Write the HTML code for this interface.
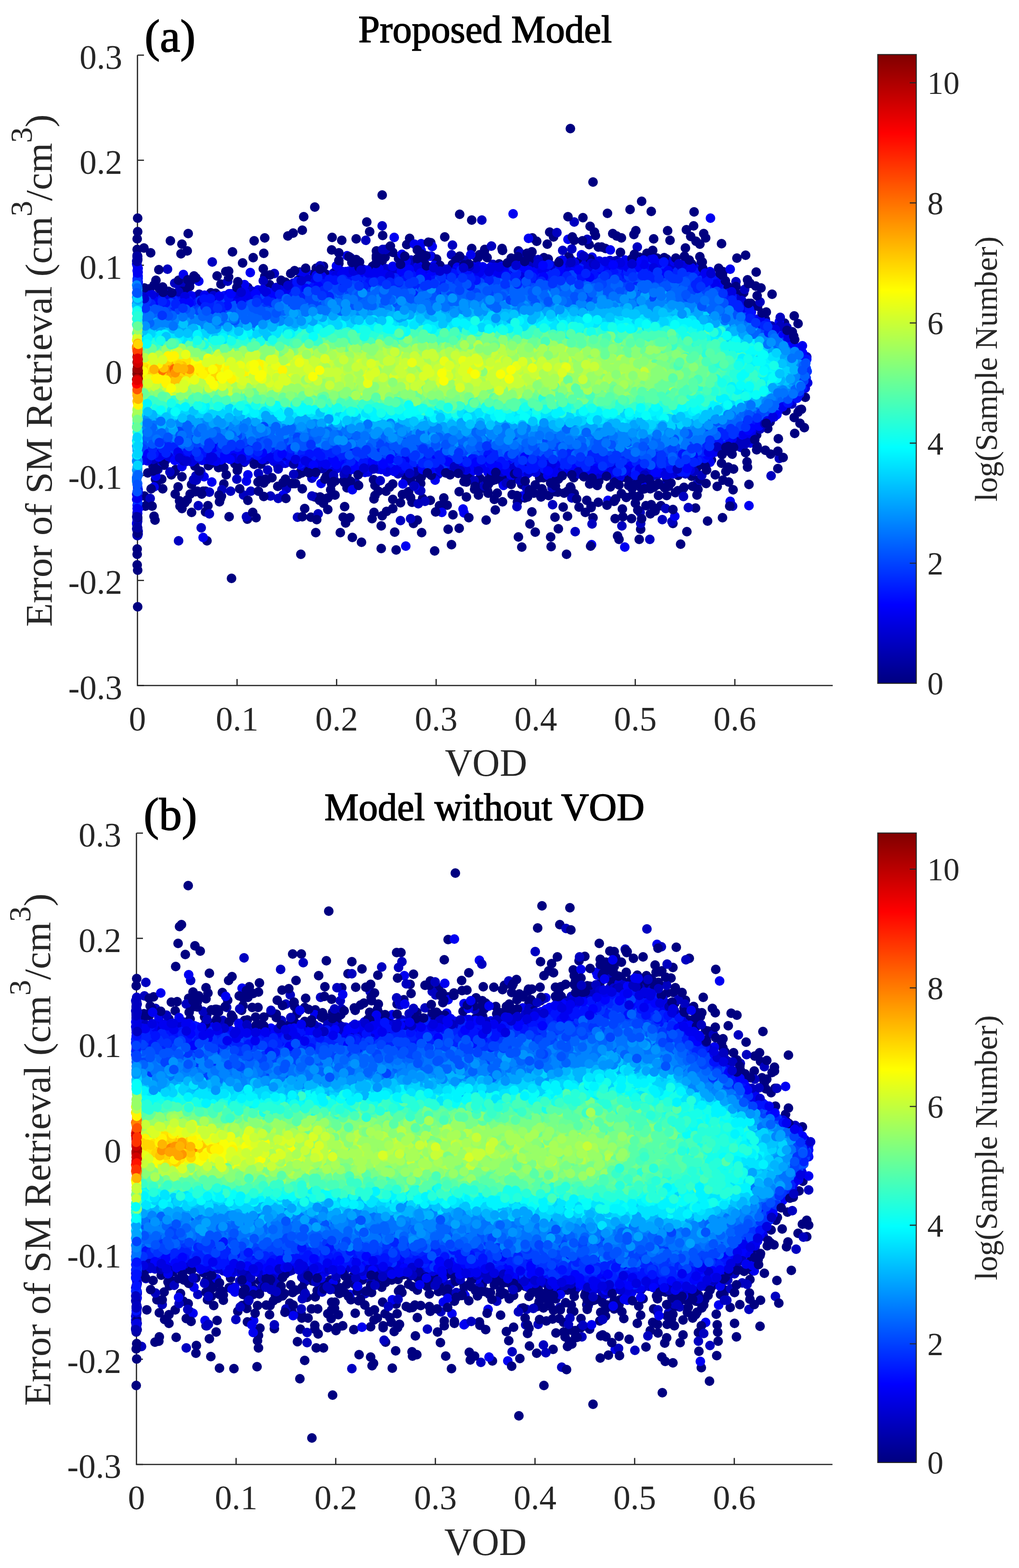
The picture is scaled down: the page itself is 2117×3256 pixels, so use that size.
<!DOCTYPE html>
<html><head><meta charset="utf-8"><style>html,body{margin:0;padding:0;background:#fff;}svg{display:block}</style></head>
<body><svg width="2117" height="3256" viewBox="0 0 2117 3256" font-family="Liberation Serif, Times New Roman, serif">
<defs><linearGradient id="jet" x1="0" y1="1" x2="0" y2="0"><stop offset="0" stop-color="#000080"/><stop offset="0.125" stop-color="#0000ff"/><stop offset="0.375" stop-color="#00ffff"/><stop offset="0.625" stop-color="#ffff00"/><stop offset="0.875" stop-color="#ff0000"/><stop offset="1" stop-color="#800000"/></linearGradient></defs>
<rect width="2117" height="3256" fill="#fff"/>

<path d="M285.6 114.5V1423.5H1730" fill="none" stroke="#262626" stroke-width="2.6"/>
<path d="M285.6 114.5h13.5M285.6 332.7h13.5M285.6 550.8h13.5M285.6 769.0h13.5M285.6 987.2h13.5M285.6 1205.3h13.5M285.6 1423.5h13.5M492.5 1423.5v-13.5M699.3 1423.5v-13.5M906.1 1423.5v-13.5M1113.0 1423.5v-13.5M1319.8 1423.5v-13.5M1526.7 1423.5v-13.5" stroke="#262626" stroke-width="2.6"/>
<g fill="none" stroke-width="20" stroke-linecap="round"><path stroke="#0000d0" d="M609 588h0M1443 969h0M1040 560h0M857 556h0M593 962h0M1165 984h0M1365 987h0M1122 550h0M636 582h0M616 957h0M1456 565h0M1411 554h0M438 613h0M602 592h0M1107 551h0M1387 541h0M1081 980h0M1356 988h0M1249 986h0M1282 541h0M393 946h0M1057 552h0M1616 685h0M954 557h0M676 575h0"/><path stroke="#ff7300" d="M379 774h0M363 784h0"/><path stroke="#77ff88" d="M650 715h0M755 831h0M1115 710h0M610 721h0M690 817h0M1314 829h0M960 708h0M1052 714h0M1370 738h0M1374 753h0M730 826h0M1259 816h0M612 829h0M1019 830h0M806 722h0M779 725h0M1393 742h0M1226 810h0M1149 712h0M819 821h0M1359 818h0M1353 742h0M1206 825h0M690 831h0M1384 800h0M851 711h0M774 826h0M1288 826h0M800 705h0M993 706h0M856 704h0M786 722h0M1390 751h0M299 727h0M1387 817h0M1155 710h0M444 731h0M696 723h0M1288 721h0M312 818h0M521 728h0M628 819h0M1412 781h0M702 828h0M1374 742h0M547 821h0M483 725h0M1393 771h0M1260 808h0M1012 828h0M1312 801h0M984 828h0M512 725h0M1392 736h0M1331 719h0M388 832h0M1372 728h0M1459 720h0M1131 714h0M648 816h0M632 807h0M441 722h0M1435 756h0M627 714h0M675 714h0M1118 830h0M1049 832h0M970 713h0M642 819h0M838 715h0M506 720h0M1295 705h0M1148 812h0M598 822h0M1180 712h0M1417 750h0M1238 802h0M1425 746h0M877 709h0M1021 821h0M654 720h0"/><path stroke="#67ff98" d="M945 710h0M1214 721h0M1317 820h0M909 827h0M1381 815h0M754 706h0M1296 817h0M1027 699h0M1208 731h0M931 707h0M1244 815h0M921 834h0M795 714h0M1222 829h0M1436 772h0M1389 734h0M1410 799h0M323 829h0M376 718h0M1243 723h0M767 830h0M331 722h0M1315 725h0M745 714h0M1157 718h0M555 718h0M1385 811h0M376 819h0M1336 725h0M729 714h0M717 708h0M1488 794h0M826 708h0M1334 820h0M1218 705h0M1162 719h0M486 812h0M1301 718h0M1077 718h0M1234 697h0M1454 760h0M516 829h0M969 822h0M1013 707h0M1360 806h0M1075 712h0M1220 832h0M1460 759h0M1398 816h0M1466 760h0M1097 840h0M974 705h0M1175 825h0M1215 699h0M1044 834h0M1497 735h0M891 832h0M891 823h0M1284 832h0M402 725h0M1310 814h0M1245 827h0M1084 705h0M602 718h0M558 723h0M798 717h0M381 826h0M566 822h0M1469 781h0M558 825h0M563 721h0M692 717h0M810 838h0M659 823h0M1344 816h0M1384 743h0M492 720h0M658 708h0M1249 805h0M1385 731h0M368 826h0M884 828h0M784 706h0M427 730h0M1426 802h0M982 820h0M1492 805h0M1226 833h0M1427 778h0M1154 830h0"/><path stroke="#0002ff" d="M1448 569h0M1444 590h0M1325 559h0M540 949h0M829 576h0M1174 977h0M1402 562h0M806 962h0M730 582h0M737 953h0M489 615h0M1278 983h0M1181 558h0M1529 626h0M949 965h0M1515 604h0M1104 556h0M825 565h0M1377 554h0M453 621h0M749 586h0M1476 592h0M467 952h0M379 615h0M1038 589h0M491 939h0M1460 572h0M989 973h0M1387 977h0M517 952h0M1509 923h0M582 605h0M524 947h0M521 943h0M1348 976h0M462 619h0M1002 571h0M1311 985h0M730 590h0M1080 966h0M572 942h0M1154 560h0M1404 565h0M1368 972h0M1533 903h0M1357 977h0M297 941h0M987 561h0M364 938h0M728 565h0M822 970h0M820 566h0M617 599h0M627 606h0M480 936h0M1065 568h0M322 948h0M884 962h0M809 977h0M1230 969h0M1561 648h0M897 964h0"/><path stroke="#00b4ff" d="M1129 653h0M1421 874h0M429 872h0M409 867h0M939 875h0M1621 736h0M622 863h0M901 649h0M335 869h0M1613 806h0M677 882h0M1075 888h0M1321 889h0M1353 877h0M618 883h0M419 683h0M1092 881h0M954 882h0M1269 871h0M688 874h0M1219 881h0M630 863h0M1377 655h0M1400 646h0M699 652h0M1373 873h0M385 679h0M1345 880h0M1175 643h0M1444 885h0M1502 862h0M920 652h0M594 856h0M1641 751h0M969 880h0M1474 663h0M868 664h0M619 675h0M1064 878h0M898 886h0M608 860h0M1467 644h0M952 649h0M1562 704h0M330 678h0M1211 658h0M553 862h0M307 683h0M365 870h0M565 902h0M1185 652h0M1200 882h0M865 647h0M730 883h0M1128 662h0M874 672h0M958 660h0M1509 674h0M1632 740h0M1049 873h0M845 886h0M1394 641h0M977 659h0M792 669h0M297 864h0M371 867h0M709 651h0M1596 723h0M1392 646h0M964 868h0M782 657h0"/><path stroke="#e9ff16" d="M1004 739h0M421 788h0M972 753h0M499 750h0M1027 748h0M586 753h0M822 774h0M377 739h0M591 762h0M958 769h0M458 776h0M922 757h0M578 779h0M441 755h0M645 782h0M1048 776h0M398 788h0M338 740h0M686 753h0M448 788h0M412 788h0M636 784h0M915 782h0M1084 775h0M548 765h0M885 758h0M297 792h0"/><path stroke="#a8ff57" d="M1010 756h0M1121 735h0M1013 713h0M1250 763h0M957 732h0M1185 772h0M776 752h0M888 758h0M609 732h0M1173 782h0M1286 790h0M989 718h0M1185 795h0M1053 784h0M428 739h0M669 716h0M642 799h0M858 775h0M1165 772h0M866 803h0M1349 802h0M1060 738h0M826 748h0M1266 733h0M873 811h0M688 746h0M1254 765h0M845 735h0M691 791h0M878 725h0M824 726h0M506 744h0M1349 740h0M1248 755h0M1130 748h0M682 816h0M812 776h0M585 808h0M965 811h0M675 742h0M644 738h0M1048 799h0M739 781h0M1140 805h0M626 781h0M517 785h0M1254 777h0M557 809h0M886 790h0M909 803h0M727 747h0M752 801h0M459 734h0M1258 787h0M835 796h0M426 746h0M826 779h0M1022 744h0M1116 725h0M1161 804h0M365 818h0M917 738h0M818 761h0M853 800h0M1208 740h0M1145 752h0M1162 732h0M416 734h0M872 745h0M1161 796h0M1090 746h0M755 738h0M993 782h0M1002 717h0M633 742h0M1136 813h0M982 813h0M350 731h0M339 809h0M438 735h0M1172 787h0M771 746h0M1094 792h0M953 786h0M849 769h0M320 744h0M1350 771h0M1300 744h0M1216 762h0M1096 782h0M1254 798h0M938 767h0M797 730h0M907 794h0M578 741h0M809 790h0M1152 736h0M1113 790h0M1052 740h0M501 809h0M1337 808h0M986 822h0"/><path stroke="#0084ff" d="M776 887h0M935 617h0M558 880h0M1644 799h0M1387 887h0M566 887h0M585 659h0M1361 895h0M1539 665h0M1451 889h0M642 652h0M1382 602h0M1027 884h0M956 905h0M940 636h0M461 871h0M738 645h0M1389 610h0M987 620h0M1515 672h0M682 643h0M624 659h0M804 644h0M1115 617h0M1261 611h0M473 652h0M725 903h0M316 663h0M961 897h0M995 600h0M1158 616h0M918 634h0M1126 606h0M338 676h0M958 639h0M674 659h0M1273 605h0M1058 631h0M579 648h0M1145 624h0M677 907h0M1441 903h0M1388 625h0M924 628h0M712 897h0M1166 914h0M1236 924h0M844 630h0M1613 711h0M1121 928h0M530 663h0M1342 619h0M1249 611h0M1633 800h0M1020 612h0M389 654h0M1232 908h0M1245 929h0M808 640h0M858 899h0M1046 886h0M1170 908h0M1606 705h0M401 652h0M517 900h0M965 619h0M445 893h0M944 899h0M1368 624h0M1181 639h0M481 887h0M512 890h0M401 677h0M1113 903h0M1065 894h0M1348 631h0M1416 612h0M664 655h0M1153 922h0M781 920h0M1226 903h0M1667 778h0M553 634h0M453 651h0M1348 612h0M1503 644h0M829 640h0M734 617h0M835 628h0M704 921h0M773 877h0M1270 914h0M499 665h0M1333 906h0M1084 645h0M1118 897h0M1414 891h0M536 885h0M1608 837h0M1508 861h0M1215 646h0M473 670h0M909 887h0M397 904h0M597 883h0M358 674h0M830 892h0M878 908h0M926 896h0M312 679h0M976 894h0M1053 897h0M1201 920h0M1385 632h0M585 650h0M1010 640h0M1222 917h0M1267 885h0M1096 921h0M393 669h0M805 912h0M1293 906h0M510 878h0M1320 634h0M621 649h0M1090 898h0M755 897h0M1578 682h0M814 633h0M1009 897h0M360 877h0M986 907h0M585 882h0M1089 615h0M1059 609h0M758 634h0M947 641h0M446 668h0M894 885h0M1366 619h0M979 637h0"/><path stroke="#ffc400" d="M442 770h0M338 784h0M381 779h0M384 780h0M402 771h0M392 780h0"/><path stroke="#ffa400" d="M387 773h0"/><path stroke="#0000b0" d="M553 955h0M1042 566h0M1603 677h0"/><path stroke="#0073ff" d="M326 652h0M802 924h0M1355 912h0M1358 631h0M707 897h0M1213 909h0M1122 917h0M614 894h0M1158 900h0M1354 921h0M1024 909h0M526 671h0M1146 634h0M614 902h0M784 927h0M1285 915h0M626 895h0M771 901h0M482 913h0M865 896h0M545 910h0M387 896h0M357 662h0M1297 588h0M1549 674h0M762 622h0M304 893h0M1574 687h0M817 895h0M725 635h0M642 615h0M1298 935h0M656 926h0M814 897h0M1619 824h0M1488 631h0M1355 903h0M947 921h0M1336 909h0M332 666h0M1520 662h0M748 919h0M1252 615h0M653 632h0M355 899h0M304 675h0M956 625h0M1558 682h0M893 900h0M1652 740h0M1299 925h0M840 901h0M678 894h0M513 669h0M1053 637h0M965 946h0M1595 827h0M1228 623h0M1020 920h0M1486 645h0M1574 680h0M502 911h0M1401 902h0M1533 865h0M1379 604h0M798 612h0M636 902h0M1380 631h0M430 667h0M1116 926h0M1248 922h0M816 920h0M1533 673h0M793 913h0M369 655h0M808 906h0M1179 611h0M1208 625h0M816 903h0M529 904h0M1364 932h0M329 889h0M1411 920h0M541 678h0M1045 622h0M706 637h0M1334 617h0M645 635h0M449 883h0M1296 628h0M1509 654h0M713 908h0M328 661h0M1582 853h0M1434 914h0M1099 630h0M1144 616h0M1317 643h0M952 642h0M1062 928h0M1379 625h0M670 911h0M1376 917h0M785 910h0M1392 917h0M1360 915h0M1610 825h0M1149 908h0M1374 909h0M981 927h0M698 605h0M665 633h0M1512 657h0M768 894h0M1544 677h0M1357 934h0M816 931h0M1476 647h0M1048 910h0M1195 907h0M737 635h0M528 640h0M1044 601h0M898 914h0M1129 638h0M1075 632h0M1555 670h0M1133 631h0M1250 911h0M761 920h0M965 910h0M784 629h0M1661 745h0M674 929h0M1266 603h0M893 644h0M1274 924h0M1017 917h0M1530 661h0M681 610h0M1165 608h0M1426 626h0M490 657h0M1052 620h0M1100 626h0M323 892h0"/><path stroke="#0000c0" d="M1169 520h0M1645 839h0M754 559h0M928 981h0M506 1028h0M1539 929h0M896 532h0M897 979h0M1331 984h0M1324 513h0M760 499h0M344 956h0M1330 1064h0M880 979h0M374 599h0M1523 923h0M1602 988h0M381 594h0M1376 1079h0M570 568h0M521 1020h0M1377 1008h0M693 567h0M371 1123h0M417 979h0M562 605h0M979 980h0M681 974h0M844 1025h0M739 1003h0M1529 585h0M780 552h0M363 588h0M1323 996h0M1448 1005h0M1619 952h0M328 975h0M1193 461h0M1024 549h0M1570 894h0M1646 710h0M936 983h0M1536 915h0M854 540h0M1070 980h0M910 985h0M728 535h0M1292 1092h0M938 529h0M595 1015h0"/><path stroke="#000080" d="M875 991h0M311 602h0M488 963h0M1225 1005h0M1552 959h0M876 1106h0M1454 995h0M716 1052h0M1105 1063h0M1529 595h0M1073 993h0M1499 962h0M1459 544h0M1398 1087h0M1062 536h0M853 988h0M738 553h0M710 499h0M633 1056h0M354 500h0M1571 565h0M1462 485h0M1159 1022h0M1493 557h0M1466 494h0M843 996h0M1556 1006h0M1064 1027h0M894 1039h0M384 605h0M1385 538h0M1010 1080h0M1250 513h0M993 535h0M459 590h0M678 989h0M1427 1104h0M300 1030h0M1283 1113h0M794 405h0M1124 1032h0M320 592h0M1084 1006h0M1421 1012h0M498 1015h0M723 1008h0M338 1015h0M1123 1029h0M1403 1023h0M1478 955h0M964 985h0M1243 513h0M868 541h0M995 1017h0M1499 506h0M1140 1029h0M1286 1120h0M1470 1082h0M1650 656h0M929 1049h0M687 1017h0M309 600h0M1553 970h0M458 962h0M1224 508h0M768 481h0M1502 564h0M1572 903h0M554 996h0M1007 518h0M489 960h0M1301 1033h0M364 1026h0M794 542h0M1130 535h0M1193 1025h0M1581 598h0M537 1020h0M356 986h0M1646 689h0M1633 853h0M1328 1120h0M547 558h0M1511 594h0M507 960h0M866 986h0M872 991h0M1150 492h0M604 568h0M1414 1130h0M939 552h0M704 547h0M1077 545h0M1262 443h0M700 557h0M970 985h0M405 968h0M913 1050h0M1293 1057h0M762 461h0M299 515h0M1385 993h0M1243 1043h0M1126 542h0M1595 890h0M1216 1064h0M1211 452h0M515 1039h0M1514 937h0M646 1074h0M1090 1034h0M1077 1115h0M654 976h0M1144 1115h0M391 485h0M654 430h0M598 490h0M1084 1136h0M410 1020h0M322 1080h0M448 609h0M378 990h0M1163 542h0M1439 1010h0M1112 1007h0M623 565h0M1368 1029h0M721 985h0M809 1012h0M1445 1055h0M867 1080h0M845 508h0M1437 982h0M1630 671h0M1347 1008h0M430 1123h0M947 541h0M714 998h0M341 966h0M1560 630h0M881 543h0M320 1072h0M1447 972h0M1244 999h0M1294 991h0M802 1020h0M1490 1010h0M1013 1020h0M895 504h0M1572 934h0M859 1087h0M853 999h0M1219 1039h0M657 557h0M876 553h0M1524 974h0M653 568h0M800 534h0M307 982h0M1139 538h0M922 1034h0M1331 1012h0M1408 1019h0M1486 986h0M1204 542h0M940 549h0M782 531h0M625 979h0M577 967h0M1279 1036h0M1502 997h0M838 545h0M1232 1075h0M1241 1008h0M456 1042h0M1192 992h0M370 1011h0M403 573h0M1590 663h0M997 993h0M454 971h0M627 982h0M550 574h0M851 495h0M816 1037h0M847 1026h0M1673 825h0M856 1043h0M1342 1050h0M1344 526h0M1531 536h0M481 1201h0M350 605h0M1212 543h0M1549 940h0M1651 900h0M1501 1075h0M1226 470h0M1109 1024h0M1305 995h0M954 1097h0"/><path stroke="#c8ff37" d="M1189 776h0M606 784h0M1317 764h0M352 818h0M1057 795h0M634 768h0M510 782h0M512 800h0M974 763h0M613 743h0M1068 797h0M883 742h0M1011 793h0M610 750h0M1006 779h0M1145 779h0M337 802h0M1180 771h0M920 774h0M338 733h0M557 792h0M980 737h0M851 761h0M1195 773h0M760 763h0M1152 780h0M858 789h0M761 734h0M661 781h0M1133 765h0M508 754h0M760 745h0M874 787h0M761 765h0M904 759h0M980 766h0M968 781h0M738 755h0M1111 760h0M949 796h0M868 796h0M932 763h0M949 805h0M1009 788h0M654 752h0M916 718h0M347 813h0M813 764h0M1291 764h0M314 751h0M993 773h0M331 746h0M1094 777h0M891 731h0M568 789h0M1150 802h0M979 771h0M749 736h0M1005 763h0M539 747h0M915 756h0M437 800h0M870 787h0M1016 719h0M907 727h0M1102 741h0M995 789h0M1117 772h0M619 785h0M1089 758h0M1219 746h0M1080 734h0M700 780h0M1026 736h0M828 790h0M822 752h0"/><path stroke="#16ffe9" d="M1212 846h0M1082 675h0M578 696h0M1154 678h0M1590 756h0M547 701h0M789 689h0M456 837h0M868 694h0M645 847h0M301 838h0M1109 850h0M1532 737h0M504 846h0M1536 769h0M1021 692h0M1560 763h0M1564 809h0M497 834h0M1142 685h0M1158 852h0M348 842h0M1242 693h0M1506 796h0M1518 727h0M1529 769h0M1470 821h0M722 681h0M1489 715h0M966 846h0M1130 861h0M990 864h0M1145 852h0M1544 735h0M1498 835h0M299 712h0M1361 857h0M1377 686h0M1538 807h0M1477 697h0M780 842h0M736 694h0M1451 845h0M418 840h0M1164 686h0M1475 837h0M1072 857h0M790 855h0M1593 789h0M558 846h0M1176 854h0M1230 859h0M582 835h0M1538 813h0M753 847h0M1084 678h0M1195 865h0M1341 847h0M1477 706h0M900 690h0M1508 737h0M1444 842h0M1542 729h0M1558 750h0M958 850h0M1486 836h0M1398 673h0M1127 682h0M677 851h0M1351 835h0M1355 669h0M1524 810h0M480 847h0"/><path stroke="#ff8400" d="M345 771h0"/><path stroke="#d9ff26" d="M756 782h0M981 795h0M439 739h0M1139 777h0M1220 778h0M298 751h0M603 776h0M806 758h0M1006 783h0M1203 757h0M945 769h0M469 746h0M709 795h0M1020 771h0M448 799h0M1027 768h0M306 750h0M430 791h0M416 748h0M686 764h0M945 787h0M1208 771h0M1256 777h0M1009 803h0M921 784h0M558 778h0M796 800h0M398 796h0M658 765h0M1002 754h0M1154 764h0M1090 764h0M1086 786h0M911 764h0M1078 777h0M938 786h0M918 734h0M1106 781h0M1032 781h0M941 769h0M1056 755h0M848 787h0M371 738h0M982 756h0M718 778h0M1062 760h0M1021 764h0M404 800h0M508 760h0"/><path stroke="#26ffd9" d="M1318 699h0M1487 836h0M1035 687h0M1528 729h0M1011 692h0M1565 825h0M1572 767h0M1412 842h0M392 705h0M711 691h0M1442 689h0M773 842h0M1485 821h0M1299 843h0M1245 704h0M837 851h0M306 846h0M936 693h0M945 844h0M1459 815h0M1232 678h0M461 845h0M1424 826h0M1211 687h0M435 708h0M345 840h0M1094 689h0M1450 700h0M1427 685h0M1214 835h0M1493 699h0M859 685h0M893 693h0M343 839h0M880 843h0M1179 700h0M429 839h0M1476 843h0M1344 696h0M1424 832h0M311 845h0M1172 846h0M467 840h0M1061 687h0M1064 687h0M1318 692h0M908 853h0M1506 720h0M489 839h0M1365 687h0M1312 854h0M860 845h0M1475 848h0M1476 815h0M386 716h0M425 711h0M1571 741h0M905 846h0M650 841h0M1347 835h0M1550 785h0M1028 689h0M308 832h0M1286 841h0M1096 845h0M1219 845h0M648 837h0M1104 853h0M658 846h0M1499 792h0M1535 753h0M597 841h0"/><path stroke="#0033ff" d="M1401 934h0M933 942h0M675 590h0M670 937h0M387 904h0M1486 602h0M853 949h0M1234 948h0M401 635h0M1455 605h0M354 917h0M1389 584h0M455 628h0M898 950h0M1194 571h0M1324 564h0M876 592h0M710 591h0M1345 568h0M1141 578h0M1124 948h0M443 928h0M1450 939h0M1166 572h0M1420 954h0M619 941h0M693 598h0M899 929h0M992 580h0M1496 606h0M1578 669h0M507 942h0M1187 588h0M790 957h0M1220 952h0M790 588h0M709 948h0M571 934h0M1508 617h0M1048 587h0M566 935h0M1176 958h0M1134 582h0M385 926h0M1515 633h0M673 596h0M515 622h0M985 938h0M946 594h0M1387 576h0M1237 960h0M1277 936h0M931 586h0M1484 911h0M682 957h0M1072 573h0M1629 707h0M844 934h0M645 932h0M852 931h0M630 602h0M569 639h0M771 598h0M1081 954h0M867 575h0M728 578h0M411 630h0M886 589h0M721 605h0M1587 867h0M957 595h0M733 601h0M1417 924h0M457 941h0M1268 946h0M1252 569h0M794 949h0M942 589h0M1330 567h0M1000 587h0M797 943h0M808 600h0M1057 577h0M1025 573h0M516 924h0M1330 960h0M545 619h0M1264 574h0M533 919h0M516 918h0M1675 785h0M1308 947h0M666 926h0M1396 584h0M1006 578h0M785 964h0M1164 946h0M800 933h0M608 943h0M1413 929h0M1281 570h0M1294 577h0M1663 730h0"/><path stroke="#0000f1" d="M384 952h0M588 957h0M1219 543h0M589 597h0M1076 557h0M446 943h0M878 559h0M1343 557h0M1498 936h0M819 493h0M904 997h0M1445 555h0M1093 975h0M665 966h0M611 949h0M1208 529h0M406 616h0M1573 663h0M1082 560h0M693 968h0M709 968h0M1475 960h0M1054 996h0M355 940h0M1036 959h0M1517 1041h0M1475 564h0M758 981h0M1125 963h0M762 978h0M1619 668h0M677 970h0M329 619h0M694 572h0M334 959h0M1250 545h0M1011 562h0M405 623h0M837 1005h0M1010 974h0M1263 1039h0M1066 444h0M721 531h0M1288 990h0M964 1065h0M1014 981h0M536 602h0M1142 557h0M1180 979h0M1616 854h0M1381 969h0M1570 884h0M478 947h0M1019 555h0M1019 573h0M1174 555h0M440 1001h0M1475 944h0M1307 545h0M636 563h0M1283 966h0M1559 920h0M1336 1002h0M515 986h0M667 1004h0M921 975h0M1211 979h0M958 579h0M1366 548h0M627 968h0M1450 575h0M626 567h0M1617 694h0M388 622h0M1309 551h0M1188 541h0M950 555h0M1484 576h0M1496 590h0M1010 576h0M1094 985h0M1509 605h0M413 584h0M681 571h0M917 980h0M1230 534h0M838 967h0M1362 545h0M1085 1030h0M1011 1008h0"/><path stroke="#0053ff" d="M932 603h0M1318 584h0M772 611h0M638 632h0M1300 576h0M747 925h0M340 894h0M1325 583h0M1611 852h0M1388 926h0M659 629h0M1124 615h0M733 610h0M1146 932h0M1354 585h0M1147 605h0M1213 609h0M1409 937h0M1102 941h0M738 599h0M1302 947h0M832 601h0M1250 945h0M1401 614h0M1347 596h0M1036 939h0M480 643h0M1358 590h0M892 936h0M455 643h0M664 610h0M1508 638h0M1436 597h0M1014 612h0M441 639h0M430 930h0M1433 618h0M594 931h0M1217 947h0M1284 600h0M1488 640h0M1430 592h0M1194 934h0M683 892h0M1440 604h0M1072 944h0M974 607h0M1139 596h0M1372 588h0M1267 623h0M1538 883h0M414 651h0M1501 915h0M996 593h0M770 930h0M1195 612h0M340 914h0M954 918h0M547 634h0M990 914h0M670 939h0M712 617h0M1378 585h0M1188 917h0M945 910h0M992 936h0M1032 593h0M1461 599h0M1124 937h0M1554 884h0M747 942h0M1544 869h0M761 592h0M862 620h0M1212 588h0M1328 578h0M966 930h0M693 925h0M766 914h0M1240 571h0M1005 929h0M1306 931h0M1498 894h0M1526 890h0M905 596h0M553 640h0M1344 922h0M1086 581h0M682 925h0M1194 912h0M555 908h0M1381 934h0M944 931h0M754 937h0M1414 590h0M1098 596h0M1297 585h0M866 926h0M1181 601h0M1204 587h0M1000 602h0M1634 715h0M1205 915h0M1283 939h0M354 645h0M604 629h0M1651 725h0M1236 593h0"/><path stroke="#00a4ff" d="M1284 633h0M1339 894h0M1472 871h0M1438 879h0M912 896h0M458 681h0M758 879h0M1514 648h0M771 891h0M1618 801h0M857 889h0M1570 692h0M1134 916h0M1288 642h0M731 643h0M369 879h0M1630 799h0M1098 655h0M1641 763h0M746 651h0M1046 651h0M1431 644h0M409 677h0M424 691h0M850 892h0M949 881h0M1653 798h0M1613 725h0M323 872h0M857 649h0M502 878h0M1001 663h0M1631 794h0M1457 875h0M1274 908h0M1330 648h0M501 681h0M1404 891h0M683 883h0M699 896h0M1005 643h0M1542 696h0M1016 650h0M1662 762h0M1467 883h0M1353 891h0M593 663h0M793 894h0M1346 637h0M1292 877h0M809 650h0M743 644h0M638 877h0M786 888h0M1126 647h0M1001 673h0M1109 652h0M1010 880h0M816 654h0M714 890h0M325 657h0M483 675h0M1230 657h0M1283 626h0M1294 892h0M446 871h0M1560 845h0M853 906h0M571 879h0M1283 920h0M1584 831h0M1646 807h0M542 671h0M318 868h0M1572 702h0M778 639h0M1003 892h0M1349 899h0M1116 621h0M1222 904h0M1396 901h0M321 682h0M1632 737h0M915 643h0M1257 883h0M1185 643h0M1626 730h0M1570 846h0M721 665h0M1472 655h0M1409 880h0M1096 909h0M792 654h0M1289 908h0"/><path stroke="#0000e1" d="M1060 980h0M1258 976h0M565 946h0M440 618h0M1259 553h0M776 965h0M681 968h0M1173 546h0M581 597h0M1120 972h0M412 620h0M1392 544h0M963 974h0M812 561h0M1114 555h0M1214 551h0M308 613h0M1322 551h0M1460 951h0M580 959h0M912 965h0M1490 578h0M1645 832h0M1072 979h0M837 572h0M1678 795h0M709 563h0M506 949h0M647 586h0M1369 540h0M353 948h0M1614 689h0M416 615h0M1606 684h0M1130 567h0M1299 551h0M1053 970h0M362 616h0M420 947h0M944 572h0M371 614h0M942 972h0M811 569h0M587 606h0M1352 539h0M462 949h0M889 560h0M632 968h0M1451 562h0M1608 866h0M592 599h0M934 973h0M1128 981h0M794 565h0M509 958h0M1382 975h0M1673 806h0M1228 977h0M1357 551h0M355 615h0M1403 983h0M1000 561h0M542 958h0M1163 975h0M588 962h0"/><path stroke="#00c4ff" d="M832 881h0M1442 652h0M659 662h0M477 695h0M1138 655h0M727 883h0M948 879h0M669 675h0M616 658h0M1524 835h0M320 862h0M1598 727h0M1170 873h0M1261 671h0M1168 883h0M667 868h0M987 658h0M517 869h0M612 688h0M1210 860h0M1147 879h0M1504 848h0M1099 668h0M1036 658h0M1328 663h0M1005 882h0M1577 827h0M1612 811h0M1252 889h0M419 868h0M1639 772h0M823 870h0M1446 657h0M918 665h0M788 873h0M1630 765h0M930 654h0M605 683h0M864 655h0M1220 870h0M860 655h0M1202 648h0M1347 873h0M566 857h0M1165 652h0M1225 665h0M1067 867h0M1152 662h0M438 700h0M1087 654h0M1073 881h0M596 670h0M947 659h0M721 657h0M626 881h0M986 673h0M341 863h0M584 860h0M882 879h0M942 657h0M577 872h0M1488 661h0M918 879h0M710 873h0M1646 776h0M1633 791h0M1409 656h0M404 691h0M1186 667h0M1486 682h0"/><path stroke="#ffe500" d="M360 747h0M492 772h0M425 778h0M394 755h0M380 748h0M401 759h0M401 763h0"/><path stroke="#57ffa8" d="M1458 799h0M1336 823h0M640 721h0M1470 769h0M1142 700h0M665 704h0M629 706h0M1413 742h0M624 719h0M1505 777h0M649 823h0M1397 713h0M725 822h0M310 728h0M780 707h0M1262 824h0M876 835h0M833 728h0M1083 710h0M496 717h0M909 840h0M1370 702h0M1291 701h0M1187 697h0M1478 760h0M1413 722h0M1289 711h0M924 831h0M1105 705h0M1002 832h0M1435 831h0M745 838h0M1476 775h0M491 831h0M1091 707h0M1051 707h0M1474 784h0M456 725h0M1514 768h0M1409 713h0M1190 832h0M1215 700h0M832 700h0M951 837h0M724 833h0M1547 757h0M1450 795h0M842 829h0M1218 722h0M1332 731h0M860 836h0M474 717h0M1461 733h0M622 728h0M880 837h0M1129 807h0M1246 839h0M1310 819h0"/><path stroke="#00f5ff" d="M1077 674h0M1211 671h0M1051 866h0M1275 870h0M344 852h0M851 857h0M1580 822h0M1605 765h0M1032 863h0M748 861h0M1414 682h0M843 673h0M1098 680h0M460 702h0M525 846h0M1546 707h0M1580 775h0M1026 675h0M1614 770h0M1522 708h0M1599 752h0M1581 784h0M1046 858h0M734 863h0M925 876h0M365 848h0M1440 680h0M605 676h0M913 858h0M1320 861h0M469 849h0M1249 678h0M1358 873h0M1368 676h0M661 854h0M1013 870h0M1573 828h0M698 688h0M1517 823h0M978 864h0M803 665h0M587 841h0M620 680h0M764 861h0M1594 770h0M1202 864h0M1009 855h0M1254 863h0M1060 656h0M1510 682h0M1417 864h0M1298 669h0M460 851h0M1504 835h0M1005 856h0M995 848h0M876 674h0M317 850h0M681 849h0M1324 671h0M800 673h0M772 862h0M883 863h0M1202 661h0M728 671h0M356 844h0M1168 682h0M1300 851h0M902 668h0M1113 867h0M935 679h0M526 700h0M1075 679h0"/><path stroke="#0094ff" d="M971 618h0M747 630h0M755 890h0M407 658h0M1157 638h0M913 882h0M770 911h0M1495 870h0M692 651h0M1262 641h0M853 636h0M777 893h0M1360 640h0M1160 884h0M1369 887h0M1203 646h0M1533 681h0M402 871h0M715 638h0M834 645h0M522 683h0M892 895h0M549 877h0M1252 602h0M1622 731h0M1617 812h0M1430 911h0M1401 627h0M684 634h0M1275 888h0M1451 894h0M1545 862h0M1437 649h0M776 649h0M364 659h0M1025 913h0M1377 898h0M945 638h0M403 888h0M1576 840h0M686 908h0M1017 646h0M459 673h0M470 665h0M330 882h0M766 637h0M949 918h0M1178 618h0M1151 628h0M427 679h0M1458 649h0M344 880h0M1421 892h0M413 887h0M320 876h0M430 684h0M468 864h0M1331 922h0M1410 902h0M369 674h0M817 629h0M1433 906h0M507 680h0M1025 653h0M763 652h0M1221 645h0M1020 619h0M877 893h0M601 878h0M611 880h0M1643 734h0M741 654h0M1013 620h0M886 641h0M747 898h0M464 677h0M424 879h0M1108 909h0M974 905h0M338 868h0M1578 702h0M848 885h0M1604 715h0M1437 883h0M1305 623h0M1641 812h0M1418 916h0M681 659h0M523 882h0M1404 881h0M1229 638h0M878 915h0M953 920h0M1518 847h0M1216 651h0M601 901h0M1153 650h0M962 891h0M1313 928h0M1406 894h0"/><path stroke="#37ffc8" d="M1341 801h0M1403 703h0M1269 701h0M1475 808h0M1083 699h0M820 704h0M848 689h0M384 710h0M984 689h0M1456 836h0M917 701h0M916 693h0M438 720h0M1443 708h0M1556 762h0M1504 750h0M1358 833h0M955 691h0M714 844h0M870 702h0M962 835h0M1274 846h0M773 691h0M956 838h0M521 708h0M549 842h0M1388 823h0M1524 792h0M765 692h0M500 710h0M841 838h0M688 693h0M1577 806h0M1460 824h0M1424 712h0M585 837h0M1393 847h0M1392 834h0M728 691h0M1421 840h0M1496 719h0M1468 724h0M690 837h0M700 699h0M1157 692h0M408 829h0M1254 844h0M1331 683h0M1276 698h0M693 689h0M1398 680h0M1514 760h0M585 708h0M1516 799h0M993 696h0M1509 774h0M975 850h0M1264 692h0M1342 683h0M1499 781h0"/><path stroke="#00e5ff" d="M651 857h0M1530 839h0M1597 761h0M817 668h0M1371 879h0M1245 657h0M1024 858h0M1566 725h0M1550 834h0M682 673h0M1024 669h0M1153 667h0M1353 653h0M445 857h0M445 694h0M1295 869h0M733 680h0M1030 873h0M1337 679h0M1174 666h0M1438 667h0M1606 755h0M381 849h0M1179 676h0M343 699h0M597 849h0M365 701h0M1195 873h0M886 664h0M1315 862h0M1614 748h0M1592 819h0M1088 674h0M1276 661h0M903 864h0M1083 870h0M513 852h0M764 680h0M451 851h0M1216 860h0M562 853h0M764 873h0M893 664h0M1235 660h0M1197 667h0M1137 860h0M1377 860h0M944 673h0M1550 800h0M747 869h0M1188 863h0M625 681h0M493 684h0M1206 673h0M1036 670h0M1622 767h0M465 861h0M1316 672h0M541 692h0M1275 659h0M1513 836h0M597 684h0M1288 866h0M1366 868h0M864 870h0M696 858h0M1150 679h0"/><path stroke="#0043ff" d="M1020 590h0M1181 596h0M850 585h0M512 912h0M634 938h0M1045 591h0M1091 605h0M949 940h0M1379 929h0M545 928h0M946 953h0M1324 587h0M930 593h0M465 904h0M1341 579h0M1535 645h0M1060 918h0M1062 939h0M1315 603h0M1233 607h0M1412 588h0M334 930h0M1202 932h0M624 940h0M1396 594h0M1307 584h0M653 936h0M434 646h0M1094 942h0M1212 603h0M810 937h0M662 621h0M1282 928h0M509 634h0M806 584h0M1189 933h0M1155 943h0M1316 956h0M1245 574h0M1606 851h0M1446 923h0M301 920h0M752 598h0M350 918h0M690 611h0M619 616h0M1010 932h0M779 591h0M675 616h0M946 579h0M1165 930h0M1390 941h0M632 939h0M1361 588h0M1412 598h0M621 945h0M785 933h0M1246 942h0M1371 597h0M1496 627h0M1252 580h0M837 945h0M709 620h0M1675 765h0M337 911h0M1012 914h0M694 938h0M1616 696h0M436 640h0M661 637h0M1073 933h0M1225 618h0M593 633h0M1049 931h0M866 940h0M296 643h0M1106 945h0M1128 932h0M929 566h0M538 907h0M406 642h0M370 640h0M574 925h0M380 936h0M714 613h0M595 922h0M1227 938h0M1116 945h0M856 607h0M562 638h0M397 635h0M1325 572h0"/><path stroke="#ffb400" d="M334 767h0"/><path stroke="#06fff9" d="M491 707h0M914 673h0M1328 674h0M1417 676h0M345 706h0M1481 694h0M998 865h0M1104 677h0M540 855h0M667 689h0M1550 790h0M1529 698h0M1491 684h0M1115 685h0M1221 848h0M1038 685h0M987 854h0M1138 681h0M1194 860h0M1526 766h0M1498 814h0M1538 824h0M1496 699h0M1321 675h0M1318 846h0M1517 701h0M616 688h0M912 856h0M714 677h0M1251 674h0M1484 833h0M526 839h0M429 701h0M502 694h0M537 704h0M637 849h0M1312 687h0M309 857h0M1346 678h0M416 701h0M1009 669h0M1345 854h0M941 681h0M569 857h0M619 842h0M956 675h0M849 680h0M1002 846h0M960 689h0M1546 712h0M1565 743h0M324 851h0M817 684h0M1438 675h0M1526 816h0M1430 691h0M866 676h0M1517 716h0M1405 678h0M805 856h0M608 692h0M733 848h0M1514 709h0M717 680h0M1570 717h0M1411 689h0M936 856h0M745 859h0M1343 861h0M1418 855h0M1400 868h0M1468 689h0M690 857h0"/><path stroke="#98ff67" d="M689 730h0M1057 716h0M1067 733h0M1136 750h0M563 800h0M1200 709h0M1092 822h0M994 804h0M1229 754h0M884 820h0M1099 797h0M1338 816h0M1377 743h0M297 736h0M1060 814h0M1234 736h0M836 767h0M1034 819h0M430 799h0M1130 781h0M482 732h0M1300 793h0M848 734h0M974 726h0M1081 722h0M846 784h0M785 727h0M1179 740h0M837 821h0M1094 808h0M937 809h0M315 736h0M718 812h0M902 762h0M1354 773h0M960 795h0M1292 775h0M953 816h0M648 801h0M1139 798h0M738 725h0M573 809h0M508 808h0M1198 746h0M675 815h0M449 804h0M1165 815h0M811 801h0M1282 750h0M1275 785h0M532 802h0M668 812h0M1168 724h0M1398 759h0M1240 795h0M926 812h0M866 755h0M779 714h0M1281 733h0M966 729h0M1333 760h0M1234 817h0M1293 760h0M964 826h0M372 720h0M984 720h0M835 749h0M1101 793h0M914 815h0M1409 794h0M1314 790h0M1219 736h0M685 825h0"/><path stroke="#b8ff47" d="M830 761h0M1230 760h0M626 756h0M1314 757h0M900 770h0M1118 806h0M755 727h0M617 774h0M1090 750h0M1030 752h0M1120 768h0M1262 742h0M348 808h0M481 796h0M1305 795h0M1045 737h0M313 807h0M649 737h0M989 739h0M1210 798h0M867 747h0M339 727h0M1189 755h0M713 760h0M707 771h0M648 789h0M700 755h0M788 744h0M756 778h0M682 743h0M1052 796h0M724 726h0M636 757h0M814 721h0M784 749h0M601 739h0M810 737h0M791 756h0M484 748h0M607 753h0M1158 751h0M806 741h0M862 726h0M986 754h0M1100 758h0M931 747h0M861 798h0M525 798h0M754 767h0M745 757h0M810 805h0M363 734h0M731 756h0M424 802h0M456 797h0M502 730h0M1161 751h0M901 813h0M612 802h0M401 810h0M748 784h0M666 773h0M692 766h0M1131 745h0M852 803h0M1228 743h0M970 734h0M705 782h0M1118 757h0M964 788h0M701 742h0M824 800h0M899 746h0M373 815h0M1236 742h0M1077 730h0M1156 794h0M924 724h0M1201 750h0M889 742h0M1196 762h0M779 790h0M1044 732h0M1080 803h0M894 783h0M665 795h0M793 767h0M1225 803h0M1080 769h0M590 798h0M738 800h0M493 791h0"/><path stroke="#47ffb8" d="M676 698h0M1386 836h0M706 844h0M1325 687h0M1182 830h0M467 713h0M422 709h0M1341 702h0M733 831h0M1373 828h0M940 831h0M701 709h0M813 699h0M922 708h0M1404 832h0M643 708h0M536 826h0M1369 850h0M1446 744h0M1187 684h0M1393 806h0M1434 691h0M1262 691h0M1446 814h0M306 711h0M787 693h0M790 848h0M1450 717h0M1486 772h0M1228 695h0M641 699h0M503 713h0M681 706h0M1488 762h0M473 836h0M1269 833h0M781 689h0M336 719h0M851 845h0M797 695h0M1312 835h0M1155 836h0M1419 714h0M1323 697h0M362 840h0M316 840h0M1043 843h0M676 710h0M1481 748h0M1056 699h0M1384 706h0M568 831h0M1296 692h0M300 718h0M1537 735h0M1002 693h0M832 841h0M499 825h0M1187 849h0M970 690h0M1377 826h0M975 698h0"/><path stroke="#00d4ff" d="M562 698h0M1546 841h0M1490 860h0M980 670h0M1600 788h0M1608 794h0M1416 883h0M424 859h0M486 685h0M420 692h0M501 858h0M1462 685h0M1516 681h0M671 669h0M1469 671h0M1016 872h0M546 867h0M1344 660h0M1248 878h0M814 861h0M636 862h0M491 865h0M819 676h0M678 683h0M1264 857h0M433 694h0M1317 665h0M700 669h0M1352 648h0M825 879h0M571 686h0M1617 752h0M1608 817h0M550 691h0M1581 716h0M324 690h0M1521 848h0M1465 675h0M758 870h0M635 677h0M1561 834h0M459 858h0M781 873h0M649 866h0M1413 668h0M1640 780h0M1107 874h0M785 654h0M1306 658h0M648 676h0M494 690h0M333 858h0M1366 875h0M1040 876h0M1120 662h0M908 871h0M1397 659h0M691 864h0M660 874h0M870 670h0M1062 874h0M357 684h0M305 693h0M1187 660h0M953 664h0M572 676h0M1582 780h0M817 852h0M524 870h0M1626 737h0M1510 693h0M683 869h0M1284 872h0"/><path stroke="#0012ff" d="M1314 541h0M1502 597h0M1115 964h0M553 621h0M1483 579h0M1286 975h0M977 563h0M1141 567h0M1055 562h0M1125 563h0M756 583h0M796 588h0M745 566h0M1323 967h0M761 954h0M1119 974h0M966 595h0M901 579h0M686 947h0M1235 950h0M1432 564h0M488 631h0M645 950h0M1227 556h0M1331 965h0M373 619h0M1240 971h0M1667 806h0M975 973h0M1192 556h0M858 976h0M1161 968h0M322 934h0M323 634h0M856 571h0M1461 585h0M1035 577h0M755 575h0M809 961h0M324 622h0M398 940h0M1086 590h0M466 614h0M1193 579h0M1260 557h0M1444 565h0M836 583h0M980 942h0M872 574h0M658 958h0M442 632h0M520 619h0M1418 560h0M803 577h0M473 940h0M1040 578h0M1056 957h0M683 962h0M1084 579h0M633 605h0M1153 954h0M379 619h0M509 623h0M1002 965h0M754 952h0M1297 968h0M1216 560h0M896 570h0M1052 953h0M1458 948h0M406 626h0M1129 955h0M464 940h0M542 931h0M360 951h0M1656 827h0M566 611h0M1493 597h0M806 963h0"/><path stroke="#fff500" d="M369 797h0M509 771h0M508 772h0M404 784h0M328 781h0"/><path stroke="#88ff77" d="M1251 735h0M1118 718h0M1291 729h0M500 737h0M1244 747h0M1377 785h0M1097 729h0M1090 712h0M1354 784h0M323 810h0M454 816h0M912 709h0M1450 783h0M1306 726h0M1182 754h0M1227 735h0M621 726h0M1242 788h0M1100 828h0M302 818h0M1381 736h0M1278 751h0M1030 822h0M904 735h0M1125 813h0M1298 735h0M442 822h0M1294 748h0M1362 741h0M1141 722h0M1289 791h0M1362 748h0M1385 768h0M1450 752h0M1422 761h0M716 725h0M639 822h0M388 727h0M650 812h0M858 814h0M1366 766h0M912 725h0M1252 785h0M949 721h0M1026 805h0M1249 796h0M1074 734h0M633 725h0M1359 749h0M1355 728h0M1322 798h0M579 728h0M696 822h0M1125 793h0M944 716h0M840 811h0M1224 796h0M718 732h0M1153 814h0M1240 726h0M726 711h0M1110 816h0M1381 750h0M802 806h0M865 720h0M958 825h0M1051 810h0M1276 737h0M1268 726h0M705 811h0M1291 804h0M686 722h0M584 742h0"/><path stroke="#f9ff06" d="M542 771h0M453 748h0M433 783h0M437 770h0M433 750h0M596 778h0M492 759h0M568 778h0M412 757h0M554 752h0M305 757h0"/><path stroke="#0063ff" d="M627 634h0M1259 935h0M678 919h0M650 905h0M1526 643h0M860 920h0M1134 908h0M325 923h0M782 622h0M1288 588h0M1524 652h0M977 897h0M1139 603h0M1509 888h0M395 661h0M1040 588h0M522 900h0M576 896h0M1259 932h0M1114 583h0M1490 893h0M1458 922h0M1226 901h0M786 641h0M826 925h0M1317 890h0M1361 612h0M508 654h0M910 904h0M1476 625h0M625 641h0M353 639h0M1463 913h0M1629 823h0M769 638h0M1267 594h0M1200 619h0M913 610h0M476 888h0M1581 690h0M998 643h0M749 605h0M1532 857h0M1467 637h0M1131 621h0M1241 935h0M1419 592h0M1137 931h0M1182 581h0M417 650h0M1217 611h0M1002 907h0M848 629h0M1327 907h0M1233 615h0M870 633h0M733 899h0M381 894h0M1118 915h0M1097 612h0M920 610h0M1105 620h0M885 898h0M1188 926h0M509 910h0M1058 602h0M1548 660h0M733 916h0M1549 877h0M1546 688h0M550 922h0M376 885h0M1138 634h0M346 660h0M328 909h0M949 618h0M1458 643h0M1293 940h0M973 628h0M702 917h0M766 599h0M1155 936h0M888 924h0M365 901h0M827 625h0M1003 924h0M1446 898h0M1312 932h0M1497 886h0M836 929h0M1460 617h0M405 911h0M797 919h0M466 651h0M1640 723h0M493 890h0M838 911h0M1555 858h0M1550 851h0M1572 856h0M1020 943h0M1272 597h0M854 612h0M1395 610h0M982 586h0M1081 630h0M1530 886h0M897 618h0M1149 914h0M1539 869h0M1202 602h0M1153 915h0M1112 593h0M1081 606h0M1470 896h0M1082 923h0M864 616h0M1664 751h0M1073 613h0M1345 944h0M307 885h0M723 912h0M361 651h0M1291 608h0M880 917h0M1010 909h0M1428 934h0M505 892h0M1230 595h0M1188 895h0M950 613h0M514 665h0M1419 616h0M865 907h0M886 922h0M1274 632h0M1327 625h0M1473 635h0"/><path stroke="#ffd500" d="M382 788h0M484 768h0M321 776h0"/><path stroke="#0022ff" d="M1041 942h0M1558 650h0M1425 570h0M1324 976h0M1434 954h0M1593 865h0M822 942h0M385 636h0M1669 736h0M1547 647h0M874 959h0M935 610h0M617 611h0M713 955h0M666 600h0M1147 559h0M1536 895h0M1114 952h0M1150 944h0M1030 562h0M1339 955h0M852 964h0M1560 880h0M500 927h0M1237 939h0M572 625h0M733 946h0M650 605h0M1425 960h0M1472 598h0M1335 950h0M969 959h0M361 624h0M1401 961h0M1038 932h0M748 574h0M1412 943h0M341 928h0M992 960h0M1296 562h0M1668 744h0M587 616h0M1138 947h0M1138 588h0M1510 900h0M1313 558h0M547 947h0M1345 553h0M422 638h0M1409 569h0M1561 871h0M1296 956h0M1026 578h0M493 623h0M1465 932h0M825 945h0M1578 878h0M1304 960h0M821 581h0M717 587h0M736 583h0M1550 652h0M993 947h0M1292 586h0M696 945h0M365 931h0M1203 955h0M931 962h0M1205 557h0M1108 579h0M1195 968h0M1165 953h0M1014 960h0M1043 955h0M681 941h0M1140 572h0M872 948h0M314 941h0M406 933h0M1203 567h0M508 936h0M916 607h0M561 933h0M1291 951h0M825 950h0M653 612h0M585 625h0M1301 568h0M448 915h0M452 938h0M1465 584h0M374 934h0M1512 624h0"/><path stroke="#0000a0" d="M1514 925h0"/><path stroke="#0000b0" d="M414 611h0M768 560h0M1278 542h0M669 973h0M321 958h0M645 970h0"/><path stroke="#e9ff16" d="M558 768h0M689 800h0M677 757h0M850 744h0M476 759h0M534 784h0M578 774h0M416 758h0M568 766h0M676 773h0M1100 779h0M554 759h0M464 753h0M760 773h0M1147 764h0M942 748h0M354 811h0M527 763h0M654 767h0M866 764h0M489 786h0M312 787h0M580 787h0M580 758h0M480 777h0"/><path stroke="#67ff98" d="M1004 699h0M1302 729h0M1437 738h0M1227 827h0M1317 803h0M395 831h0M978 701h0M1357 787h0M724 722h0M1437 713h0M750 824h0M1438 789h0M523 823h0M1023 712h0M442 827h0M1278 703h0M1063 705h0M330 719h0M799 836h0M1165 708h0M1187 704h0M706 733h0M500 817h0M1193 698h0M707 708h0M1404 731h0M339 829h0M988 700h0M1122 719h0M1248 813h0M549 706h0M1417 807h0M1286 691h0M1333 740h0M1072 835h0M475 821h0M1138 824h0M1116 704h0M656 835h0M691 710h0M681 835h0M472 823h0M1240 738h0M1430 793h0M632 711h0M491 732h0M1213 704h0M1480 759h0M1325 717h0M1270 711h0M1394 754h0M529 820h0M930 834h0M1098 703h0M1329 781h0M752 720h0M1373 816h0M805 822h0M1426 817h0M570 714h0M1200 831h0M1441 789h0M667 709h0M1124 706h0M1342 827h0M1407 812h0M1236 720h0M433 826h0M1452 732h0M1277 832h0M785 820h0M1022 707h0"/><path stroke="#00b4ff" d="M640 871h0M693 877h0M1062 880h0M314 874h0M434 877h0M380 864h0M701 660h0M1017 899h0M958 892h0M1139 880h0M751 658h0M594 886h0M1451 660h0M1171 894h0M1099 641h0M770 649h0M840 879h0M1580 742h0M1436 652h0M1128 646h0M1401 656h0M541 875h0M1650 781h0M1364 890h0M1557 835h0M835 888h0M587 665h0M590 675h0M1632 810h0M703 656h0M728 653h0M1467 867h0M1072 650h0M1251 654h0M846 659h0M1348 885h0M1601 825h0M972 637h0M1235 878h0M1178 653h0M1604 813h0M1098 886h0M1027 645h0M785 660h0M904 660h0M1038 874h0M577 876h0M1124 883h0M520 877h0M348 673h0M368 672h0M673 655h0M1116 887h0M1072 659h0M1387 657h0M858 892h0M496 874h0M1393 882h0M843 907h0M1394 601h0M645 875h0M1166 892h0M1015 647h0M680 663h0M1233 870h0M528 871h0M1638 785h0M1300 880h0M820 660h0"/><path stroke="#88ff77" d="M1194 755h0M739 736h0M429 810h0M554 816h0M1267 800h0M1362 801h0M1307 804h0M1062 742h0M1345 734h0M976 825h0M942 728h0M632 816h0M1459 755h0M310 813h0M1345 748h0M313 813h0M595 722h0M436 728h0M1163 784h0M997 824h0M1291 782h0M1117 823h0M820 713h0M941 717h0M538 725h0M612 819h0M1066 811h0M1301 756h0M506 732h0M1312 721h0M961 820h0M1385 793h0M734 733h0M1096 708h0M1230 775h0M1388 774h0M1283 822h0M1321 791h0M1332 749h0M1336 714h0M481 818h0M888 725h0M1370 793h0M1252 731h0M875 808h0M1286 798h0M1174 805h0M826 819h0M1337 754h0M887 812h0M750 729h0M1155 820h0M387 817h0M731 720h0M649 728h0M1405 786h0M1108 725h0M1188 742h0M621 736h0M1261 750h0M1274 762h0M824 810h0M1148 830h0M699 810h0M418 819h0M536 821h0M1436 752h0M663 741h0M1285 743h0"/><path stroke="#06fff9" d="M740 682h0M1410 698h0M1425 855h0M1128 868h0M501 704h0M739 673h0M966 853h0M1524 727h0M856 671h0M1592 778h0M1029 683h0M530 850h0M1389 681h0M432 851h0M897 848h0M753 857h0M1180 683h0M1191 845h0M700 857h0M1220 684h0M1284 667h0M516 708h0M1470 833h0M1572 759h0M753 865h0M1357 678h0M970 854h0M1356 862h0M326 700h0M1014 684h0M1434 848h0M921 851h0M1572 779h0M1600 774h0M398 842h0M661 690h0M477 843h0M1053 858h0M1388 856h0M813 869h0M829 679h0M1598 755h0M625 687h0M917 683h0M1516 796h0M1192 693h0M633 686h0M1115 680h0M710 857h0M405 842h0M707 852h0M1472 688h0M443 704h0M781 855h0M1561 780h0M1266 672h0M1353 683h0M1029 852h0M1067 684h0M1564 715h0M1402 858h0M963 858h0M1066 856h0M1584 727h0M1458 853h0M1541 711h0M1466 847h0M516 699h0M532 698h0M1457 693h0M1498 695h0M1559 814h0M982 684h0"/><path stroke="#000080" d="M874 1004h0M458 1035h0M560 591h0M1451 967h0M436 964h0M548 1003h0M654 1032h0M774 553h0M398 1006h0M1278 1077h0M1545 608h0M1380 535h0M690 493h0M1112 1105h0M823 1142h0M1182 533h0M1521 943h0M300 598h0M1186 1013h0M625 1151h0M849 1021h0M338 596h0M551 995h0M438 608h0M1387 479h0M1268 1011h0M494 972h0M674 567h0M395 585h0M777 1036h0M542 964h0M1129 992h0M325 1008h0M1426 477h0M1286 1007h0M1590 935h0M990 534h0M465 971h0M515 597h0M406 1021h0M1106 494h0M389 1038h0M407 577h0M974 1075h0M1437 548h0M389 521h0M1323 1004h0M1077 521h0M427 1020h0M465 1005h0M964 1000h0M427 1063h0M836 1027h0M1574 636h0M1043 516h0M307 1046h0M1328 1030h0M526 535h0M620 985h0M704 525h0M1228 1054h0M721 1013h0M800 524h0M1160 1098h0M732 1116h0M384 1044h0M1358 496h0M483 523h0M377 605h0M1027 1037h0M1226 538h0M432 1050h0M460 1030h0M828 537h0M1235 482h0M1012 535h0M996 529h0M378 1056h0M786 1020h0M869 1005h0M593 995h0M1037 548h0M1044 520h0M1409 987h0M1662 879h0M640 979h0M1467 1004h0M1033 1024h0M1170 1053h0M1373 1050h0M980 516h0M1356 520h0M1454 533h0M493 977h0M1521 930h0M674 1036h0M1325 1059h0M433 967h0M776 996h0M1121 992h0M1442 440h0M779 1029h0M1045 1004h0M1344 991h0M713 1074h0M1671 888h0M588 1002h0M1600 876h0M1394 1003h0M323 995h0M689 519h0M1437 989h0M1435 491h0M1276 1041h0M1361 1056h0M903 1144h0M1424 515h0M1361 1061h0M1448 1028h0M1160 995h0M318 968h0M1240 1007h0M635 557h0M816 524h0M1358 1012h0M1328 534h0M1351 1067h0M1142 482h0M1096 1032h0M1276 1001h0M1539 617h0M1627 950h0M1232 378h0M550 494h0M665 1032h0M1528 607h0M394 595h0M820 1105h0M336 995h0M1044 995h0M371 582h0M1029 996h0M1232 1000h0M593 586h0M1048 988h0M1460 557h0M779 1008h0M422 1020h0M1237 489h0M1289 524h0M728 999h0M931 1099h0M672 553h0M1558 588h0M416 987h0M1331 1099h0M1465 968h0M1258 516h0M398 1064h0M1179 1020h0M1006 525h0M1365 536h0M988 550h0M988 1003h0M1153 1021h0M1306 1008h0M740 539h0M1096 536h0M1185 1011h0M1291 1025h0M878 1035h0M1313 1008h0M1496 568h0M907 538h0M689 1005h0M619 582h0M1454 507h0M1513 970h0M1604 611h0M1075 1042h0M836 981h0M696 999h0M686 984h0M975 995h0M1038 984h0M374 1051h0M1106 537h0M1021 987h0M1549 530h0M1115 501h0M896 987h0M631 450h0M1658 672h0M725 533h0M1147 996h0M365 975h0M1153 1074h0M1513 596h0M514 1078h0M1339 1015h0M1446 501h0M340 960h0M363 979h0M1313 1014h0M1392 499h0M792 1139h0M324 582h0M1014 1024h0M969 1032h0M1419 1015h0M740 496h0M794 1071h0M1120 984h0M782 521h0"/><path stroke="#ff8400" d="M374 771h0"/><path stroke="#00c4ff" d="M1597 733h0M1254 857h0M1384 663h0M1040 670h0M536 870h0M704 886h0M402 864h0M590 872h0M1201 893h0M890 667h0M851 870h0M467 683h0M1377 665h0M1229 652h0M593 871h0M392 863h0M339 684h0M1400 643h0M1626 760h0M1496 674h0M1243 884h0M890 861h0M862 866h0M1491 670h0M1112 880h0M882 666h0M1341 656h0M1017 669h0M1299 895h0M716 879h0M619 669h0M1348 892h0M355 690h0M1333 652h0M1182 877h0M798 871h0M664 863h0M1387 646h0M1005 872h0M1242 889h0M449 698h0M852 660h0M909 666h0M893 879h0M740 865h0M1197 879h0M740 883h0M953 870h0M574 862h0M1608 741h0M1112 662h0M728 662h0M931 879h0M396 693h0M1229 884h0M450 690h0M1184 881h0M749 673h0M1478 864h0M347 686h0M1308 879h0M1075 903h0M1302 659h0M580 678h0M1492 677h0M1568 709h0M610 679h0M1274 878h0M477 687h0M365 858h0M821 882h0M886 868h0M1033 663h0M1005 661h0M1456 656h0M313 683h0M1577 833h0M526 862h0M1213 885h0M910 875h0"/><path stroke="#00d4ff" d="M1237 666h0M713 662h0M717 876h0M354 872h0M1508 704h0M1540 704h0M486 863h0M1045 665h0M1336 878h0M1125 877h0M727 672h0M649 876h0M656 675h0M930 883h0M1283 676h0M1465 657h0M1392 665h0M1361 651h0M990 862h0M1408 872h0M1286 655h0M1289 664h0M506 870h0M377 692h0M856 865h0M1011 659h0M544 856h0M1020 674h0M1160 671h0M1257 666h0M1192 660h0M865 878h0M708 684h0M1140 667h0M1499 672h0M1354 882h0M1591 715h0M470 690h0M643 678h0M1342 667h0M674 678h0M1434 873h0M802 875h0M1369 663h0M1524 841h0M438 864h0M811 670h0M942 865h0M1508 842h0M1324 875h0M706 668h0M1100 881h0M1101 858h0M474 860h0M928 871h0M1256 870h0M485 688h0M1149 861h0M773 675h0M1425 880h0M1630 784h0M1585 720h0M517 859h0M1450 855h0M842 861h0M1604 726h0M889 869h0M752 672h0M1340 873h0M1426 662h0M632 673h0M448 860h0M347 695h0M552 854h0M605 866h0M806 871h0M830 864h0M1180 658h0M972 875h0M1089 665h0M878 858h0M296 870h0M350 864h0M826 672h0M1530 710h0M661 865h0"/><path stroke="#0073ff" d="M1025 600h0M483 880h0M696 620h0M796 928h0M1190 627h0M472 675h0M955 619h0M930 631h0M347 890h0M1452 633h0M1617 833h0M870 935h0M1025 636h0M620 898h0M1091 928h0M1479 907h0M825 600h0M1506 666h0M1480 661h0M1314 625h0M446 651h0M979 602h0M914 922h0M1096 930h0M1269 905h0M1326 603h0M1097 904h0M698 908h0M493 880h0M1188 622h0M539 899h0M1252 898h0M707 894h0M1542 858h0M333 654h0M1496 877h0M357 672h0M1226 916h0M1553 687h0M505 672h0M354 890h0M1083 904h0M1426 914h0M902 922h0M906 919h0M1052 609h0M436 899h0M658 898h0M714 625h0M524 894h0M592 654h0M1224 918h0M579 651h0M480 899h0M398 675h0M1333 639h0M854 904h0M365 884h0M1090 915h0M386 657h0M1124 632h0M1422 903h0M1191 633h0M304 666h0M833 638h0M682 915h0M1196 601h0M1173 914h0M530 885h0M1350 608h0M1093 622h0M1666 788h0M1489 888h0M360 668h0M1030 927h0M1279 922h0M761 905h0M660 890h0M320 883h0M506 905h0M1037 626h0M1321 627h0M1120 622h0M1338 608h0M645 629h0M470 891h0M995 614h0M529 652h0M498 898h0M986 930h0M1192 636h0M1105 633h0M530 911h0M1594 693h0M822 648h0M722 937h0M1354 597h0M494 672h0M668 620h0M1542 865h0M722 628h0M882 645h0M1450 913h0M1285 619h0M1525 673h0M1434 920h0M625 902h0M1244 623h0M729 902h0M823 905h0M1028 607h0M473 899h0M1174 633h0M1153 630h0M1152 946h0M690 640h0M742 895h0M1394 927h0M662 611h0M1307 901h0M1002 625h0M1266 936h0M518 656h0"/><path stroke="#a8ff57" d="M1041 756h0M696 793h0M613 810h0M1002 728h0M1130 757h0M776 746h0M1060 807h0M785 782h0M1209 810h0M509 814h0M886 771h0M1082 828h0M845 758h0M1025 807h0M1305 761h0M1279 743h0M849 749h0M1123 730h0M1356 756h0M1264 815h0M934 725h0M770 756h0M558 800h0M1330 767h0M1112 785h0M1038 730h0M1346 769h0M474 738h0M1105 801h0M718 741h0M994 811h0M1075 821h0M1134 794h0M1187 810h0M328 736h0M523 806h0M629 727h0M785 804h0M1012 810h0M1237 752h0M1176 783h0M1179 732h0M645 754h0M703 800h0M745 741h0M941 757h0M852 812h0M1267 751h0M372 724h0M1243 763h0M393 740h0M1147 742h0M612 797h0M1196 722h0M1269 777h0M844 769h0M795 793h0M307 744h0M733 775h0M1108 807h0M952 740h0M980 806h0M760 727h0M1064 778h0M1114 753h0M670 753h0M734 726h0M636 722h0M1013 817h0M401 743h0M601 802h0M661 814h0M882 728h0M724 811h0M770 790h0M794 743h0M534 738h0M858 734h0M1000 792h0M773 768h0M792 818h0M1280 783h0M844 797h0M1104 753h0M1156 727h0M981 734h0M1074 744h0M557 744h0M846 775h0"/><path stroke="#0000c0" d="M541 611h0M318 954h0M1547 601h0M648 1030h0M832 1081h0M648 993h0M830 981h0M1253 551h0M1099 553h0M492 995h0M1157 483h0M1579 891h0M1188 517h0M869 1046h0M1080 998h0M1442 979h0M1361 556h0M661 1067h0M870 1018h0M1562 902h0M1579 627h0M1230 1088h0M1661 851h0M512 1073h0M528 959h0M790 998h0M1546 908h0M1001 457h0M795 518h0M1676 741h0M1396 1083h0M371 606h0M1118 539h0M827 984h0M1334 543h0M665 552h0M985 998h0M940 509h0M1094 1014h0M1534 913h0M1621 677h0M1213 532h0M618 1074h0M1147 1013h0M537 983h0M1558 912h0M1220 497h0M547 583h0M1267 541h0M874 1019h0"/><path stroke="#ffd500" d="M394 775h0M336 760h0M374 784h0M345 783h0M456 766h0M331 773h0M349 757h0"/><path stroke="#fff500" d="M302 781h0M446 781h0M512 778h0M469 784h0M518 758h0M413 771h0M467 766h0M366 798h0M502 770h0M314 754h0M491 754h0M313 773h0"/><path stroke="#0012ff" d="M722 582h0M907 957h0M598 956h0M454 927h0M925 948h0M746 959h0M1012 573h0M1270 965h0M1592 671h0M556 606h0M1420 575h0M1382 962h0M1008 587h0M1360 965h0M800 954h0M1210 562h0M1366 957h0M1136 961h0M1038 952h0M1441 574h0M355 623h0M1074 954h0M493 941h0M1131 974h0M725 577h0M1222 959h0M477 623h0M1402 551h0M779 954h0M1393 561h0M793 576h0M922 575h0M1214 964h0M940 956h0M954 572h0M925 586h0M1189 556h0M1581 673h0M513 946h0M845 583h0M1290 570h0M1109 589h0M906 973h0M590 948h0M1584 873h0M658 953h0M1661 818h0M977 970h0M1510 917h0M453 932h0M929 948h0M1360 571h0M1044 967h0M704 961h0M307 934h0M1369 560h0M1107 967h0M912 594h0M868 949h0M925 956h0M594 938h0M998 573h0M1537 630h0M940 963h0M1117 575h0M643 957h0M300 947h0M625 963h0M377 938h0M865 966h0M1464 952h0M923 931h0M1485 937h0M1135 969h0M1397 967h0M1514 617h0M744 966h0M1246 964h0M605 601h0M1237 564h0M1453 947h0M332 630h0M1337 974h0M1315 969h0M708 956h0M740 569h0M466 619h0M811 966h0M1563 661h0M789 576h0"/><path stroke="#0094ff" d="M1310 644h0M618 644h0M760 646h0M1260 914h0M307 868h0M1069 634h0M1660 756h0M388 669h0M450 872h0M1657 784h0M486 877h0M1137 611h0M1523 856h0M865 900h0M436 888h0M1345 620h0M1444 616h0M793 638h0M922 906h0M1334 895h0M1219 624h0M1029 893h0M597 644h0M844 622h0M1356 624h0M1500 658h0M1349 642h0M1142 883h0M1090 634h0M1252 902h0M963 649h0M754 915h0M1256 622h0M925 900h0M393 879h0M1004 647h0M1262 632h0M1437 896h0M476 877h0M1241 634h0M1062 887h0M406 875h0M1308 887h0M1124 911h0M886 895h0M528 684h0M1331 886h0M1660 768h0M982 622h0M1481 640h0M1145 647h0M554 872h0M1278 623h0M1321 895h0M593 649h0M562 884h0M1316 634h0M573 894h0M1189 898h0M393 882h0M1213 897h0M501 669h0M1101 897h0M1105 897h0M1347 917h0M984 648h0M1139 902h0M1379 639h0M316 892h0M1404 635h0M640 662h0M1409 911h0M420 878h0M628 650h0M1536 689h0M1585 845h0M902 638h0M769 655h0M1409 900h0M553 891h0M1025 616h0M1018 888h0M1304 911h0M1420 631h0M1152 644h0M1237 897h0M1528 851h0M444 888h0M526 676h0M870 639h0M1652 766h0M1412 628h0M1386 902h0M1385 913h0M1554 837h0M1510 871h0M726 887h0M843 891h0M1206 636h0"/><path stroke="#26ffd9" d="M1548 764h0M1370 839h0M1275 689h0M656 694h0M1351 704h0M1498 687h0M1078 851h0M868 686h0M385 840h0M1520 787h0M1203 848h0M749 688h0M328 838h0M1097 687h0M1281 695h0M1494 710h0M1050 689h0M400 708h0M867 845h0M1163 845h0M1237 690h0M800 837h0M1548 808h0M1047 847h0M842 848h0M577 707h0M790 842h0M893 844h0M605 704h0M574 706h0M947 684h0M1149 686h0M1334 855h0M1444 713h0M722 689h0M905 682h0M1244 692h0M1493 821h0M1440 823h0M1544 748h0M1558 788h0M950 849h0M1568 730h0M1366 704h0M1083 687h0M1533 746h0M1409 704h0M1235 850h0M376 705h0M449 713h0M1341 840h0M1377 854h0M1158 846h0M804 846h0M1322 851h0M374 838h0M540 846h0M553 710h0M1226 842h0M636 833h0M432 843h0M955 683h0"/><path stroke="#0033ff" d="M705 596h0M1436 585h0M944 603h0M683 589h0M401 922h0M323 920h0M504 929h0M913 942h0M613 916h0M1012 936h0M1065 957h0M674 946h0M909 939h0M843 588h0M861 928h0M344 640h0M1169 573h0M947 589h0M1677 771h0M940 951h0M785 598h0M1456 582h0M692 592h0M328 635h0M470 923h0M1384 949h0M1025 594h0M968 944h0M1412 950h0M922 964h0M1657 723h0M1000 937h0M550 630h0M417 935h0M1144 562h0M626 924h0M1281 948h0M907 951h0M352 935h0M582 930h0M1388 965h0M772 592h0M998 957h0M1278 962h0M1192 955h0M1566 673h0M414 639h0M475 934h0M352 905h0M1261 966h0M1433 575h0M1278 946h0M416 624h0M1596 859h0M731 949h0M580 624h0M314 634h0M510 641h0M1293 958h0M1057 596h0M1277 573h0M1488 910h0M568 913h0M988 593h0M1427 565h0M1378 575h0M1168 949h0M1307 592h0M453 632h0M896 938h0M1245 585h0M1267 570h0M1224 598h0M864 589h0M840 598h0M718 595h0"/><path stroke="#b8ff47" d="M1058 724h0M565 764h0M1176 794h0M520 741h0M908 791h0M968 749h0M644 748h0M1397 803h0M592 726h0M760 790h0M442 814h0M741 747h0M717 800h0M801 781h0M305 805h0M1011 764h0M1009 776h0M472 744h0M1140 731h0M1150 792h0M976 723h0M836 787h0M807 801h0M906 746h0M592 739h0M786 789h0M980 786h0M1203 780h0M808 785h0M995 820h0M1194 736h0M677 800h0M563 809h0M950 733h0M758 741h0M738 789h0M1115 768h0M822 796h0M572 800h0M683 775h0M353 725h0M915 805h0M1265 758h0M904 782h0M733 742h0M1262 768h0M1296 775h0M803 735h0M958 726h0M566 787h0M968 742h0M877 759h0M943 777h0M627 740h0M479 733h0M1203 728h0M382 813h0M837 784h0M1038 736h0M1045 793h0M1221 815h0M588 803h0M1238 779h0M945 763h0M1158 742h0M1208 762h0M1269 795h0M1142 756h0M422 802h0M1065 729h0M734 791h0M855 783h0M1023 729h0M868 736h0M514 791h0M1156 758h0M846 788h0M1048 731h0M1038 749h0M1142 780h0"/><path stroke="#00e5ff" d="M923 869h0M582 845h0M963 657h0M484 699h0M1256 862h0M1153 879h0M1253 663h0M516 693h0M1215 676h0M995 678h0M830 868h0M693 679h0M1270 863h0M1242 671h0M1363 865h0M1009 871h0M1153 682h0M674 877h0M960 680h0M941 673h0M367 695h0M1213 868h0M898 680h0M1114 669h0M611 856h0M1451 672h0M967 675h0M1212 665h0M336 708h0M1149 672h0M302 702h0M608 868h0M381 704h0M1102 662h0M563 864h0M1464 851h0M1338 661h0M1498 842h0M390 858h0M1203 666h0M1614 782h0M589 683h0M1549 819h0M1565 714h0M933 682h0M1590 793h0M1596 796h0M1052 671h0M425 850h0M505 690h0M1501 820h0M1448 859h0M372 852h0M1106 864h0M773 868h0M1478 671h0M1075 862h0M1059 673h0M921 857h0M1222 663h0M1458 674h0M520 695h0M1225 869h0M462 693h0M1387 668h0M1445 865h0M862 665h0M1453 688h0M1443 858h0M742 687h0M390 702h0"/><path stroke="#0002ff" d="M895 579h0M1667 732h0M803 976h0M346 623h0M1112 564h0M1419 968h0M1294 556h0M1138 977h0M1196 561h0M330 949h0M601 954h0M984 977h0M1470 945h0M1240 558h0M1190 562h0M1110 570h0M976 965h0M587 613h0M624 590h0M898 955h0M1310 968h0M862 961h0M1164 562h0M605 612h0M1384 555h0M1032 565h0M620 963h0M568 607h0M1067 590h0M1022 968h0M1545 630h0M309 626h0M925 578h0M464 638h0M573 613h0M1542 903h0M1337 540h0M1205 973h0M1614 861h0M322 625h0M1401 969h0M1172 565h0M1350 558h0M1513 609h0M690 955h0M1317 971h0M777 961h0M1341 979h0M480 943h0M717 964h0M1627 697h0M1060 952h0M1250 560h0M1239 973h0M1241 974h0M816 953h0M991 569h0M1356 980h0M312 623h0M1268 559h0M1348 964h0M737 962h0M1099 562h0M424 946h0M307 948h0M459 955h0M634 591h0M757 567h0M1328 556h0M1260 981h0M499 938h0M1493 588h0M1329 547h0M1368 981h0M664 582h0M1093 960h0M931 959h0M1308 977h0M764 965h0M948 562h0M428 632h0M881 572h0M696 960h0M484 625h0"/><path stroke="#0043ff" d="M1254 954h0M1218 583h0M738 589h0M1208 950h0M1337 934h0M965 584h0M1302 596h0M781 936h0M1232 579h0M761 607h0M1375 581h0M700 616h0M1336 570h0M1589 681h0M493 641h0M1661 813h0M412 924h0M1337 947h0M818 593h0M748 950h0M1161 927h0M337 639h0M1354 617h0M737 945h0M1552 657h0M1084 939h0M347 644h0M1440 576h0M315 907h0M1338 943h0M838 933h0M1108 597h0M1404 589h0M1496 633h0M302 922h0M1435 588h0M998 587h0M596 916h0M837 916h0M601 924h0M848 598h0M655 619h0M580 627h0M600 625h0M1144 952h0M731 926h0M1332 602h0M1269 951h0M825 614h0M988 587h0M494 648h0M353 924h0M426 664h0M868 585h0M1306 573h0M1385 599h0M1314 591h0M1534 644h0M901 601h0M588 931h0M1169 604h0M1086 947h0M912 592h0M801 943h0M414 646h0M786 586h0M1133 941h0M1246 604h0M1216 932h0M1249 586h0M1063 585h0M1030 584h0M1090 599h0M1261 582h0M968 938h0M1360 581h0M761 943h0M805 610h0M537 920h0M1625 842h0M625 914h0M1050 948h0M510 916h0M1177 946h0M1590 690h0M635 923h0M867 954h0M401 920h0M1518 882h0M1166 940h0M521 923h0M1004 945h0M1136 915h0M502 646h0M437 653h0M1425 583h0M763 584h0M465 644h0M1292 595h0M494 923h0M675 611h0M1467 918h0M409 929h0M1322 937h0M1074 918h0M419 915h0M1023 605h0M1091 937h0M1627 711h0M1100 951h0M832 951h0M636 612h0M606 912h0M1174 587h0M538 627h0M466 624h0"/><path stroke="#d9ff26" d="M1028 764h0M929 790h0M706 766h0M547 793h0M656 753h0M825 776h0M522 790h0M659 762h0M1105 744h0M1121 781h0M612 782h0M1053 814h0M620 780h0M606 757h0M413 795h0M933 744h0M577 762h0M1036 784h0M598 756h0M692 751h0M638 797h0M560 795h0M748 755h0M865 772h0M818 780h0M618 747h0M1046 748h0M477 756h0M353 732h0M1036 756h0M886 794h0M560 778h0M578 749h0M987 802h0M391 751h0M625 747h0M1011 769h0M914 794h0M668 792h0M615 772h0M1072 785h0M561 769h0M516 763h0M782 759h0M1062 776h0M838 759h0M476 804h0M632 753h0M602 766h0"/><path stroke="#00a4ff" d="M878 873h0M760 895h0M917 654h0M444 683h0M1214 892h0M1069 638h0M1444 665h0M444 677h0M959 881h0M1067 888h0M1136 647h0M1227 891h0M1528 687h0M1286 641h0M1328 869h0M701 885h0M947 893h0M645 898h0M892 910h0M973 892h0M819 639h0M1586 829h0M1552 698h0M635 870h0M1174 641h0M992 910h0M980 641h0M1163 901h0M788 878h0M560 871h0M987 881h0M1435 632h0M1233 643h0M1386 881h0M906 649h0M1049 626h0M1216 877h0M1149 890h0M1307 923h0M531 876h0M1451 651h0M1419 657h0M653 657h0M870 884h0M1232 886h0M1526 682h0M450 682h0M817 889h0M1443 877h0M921 886h0M645 671h0M1635 757h0M531 676h0M334 684h0M576 664h0M1045 639h0M473 679h0M1374 637h0M1300 658h0M298 690h0M1418 639h0M553 689h0M662 881h0M1181 883h0M1655 802h0M1217 889h0M1293 633h0M1056 639h0M1073 641h0M552 676h0M784 648h0M1443 643h0M1605 731h0M565 668h0"/><path stroke="#47ffb8" d="M1428 731h0M601 708h0M996 844h0M891 709h0M1293 849h0M1382 703h0M1501 773h0M450 723h0M1461 713h0M872 691h0M742 839h0M733 707h0M1494 776h0M509 831h0M1401 824h0M1512 741h0M1172 700h0M1020 839h0M1493 830h0M716 832h0M403 716h0M1469 743h0M1153 697h0M312 709h0M1259 695h0M416 827h0M1092 694h0M1478 805h0M1466 709h0M1149 846h0M542 713h0M1411 849h0M1348 707h0M1067 702h0M863 832h0M355 832h0M1475 751h0M531 710h0M1034 834h0M576 830h0M1276 837h0M1149 694h0M724 847h0M909 698h0M1293 688h0M1400 720h0M1141 696h0M1433 704h0M1110 827h0M1402 709h0M784 832h0M816 833h0M750 834h0M1513 789h0M483 831h0M792 702h0M568 720h0M1388 709h0M1308 692h0M1306 845h0"/><path stroke="#0084ff" d="M1500 649h0M1519 872h0M1617 723h0M1435 640h0M1323 903h0M990 627h0M669 887h0M512 875h0M300 891h0M1650 790h0M300 878h0M1246 898h0M670 921h0M692 890h0M738 627h0M636 652h0M1470 628h0M1318 919h0M1185 606h0M978 948h0M368 883h0M976 909h0M434 890h0M588 890h0M1139 891h0M685 652h0M1386 923h0M1314 913h0M854 644h0M1276 638h0M1307 633h0M428 894h0M1179 898h0M1072 911h0M1411 612h0M692 625h0M1394 912h0M1044 635h0M1298 905h0M572 903h0M749 656h0M1025 897h0M1486 884h0M1310 895h0M1627 810h0M930 899h0M924 915h0M420 669h0M650 919h0M890 633h0M1470 880h0M1006 619h0M544 650h0M912 917h0M1461 890h0M1195 893h0M1341 626h0M368 912h0M1562 853h0M1523 657h0M322 902h0M1126 892h0M1655 757h0M805 641h0M1204 904h0M894 628h0M1174 903h0M610 657h0M451 674h0M786 616h0M1243 912h0M909 889h0M1259 613h0M1074 610h0M412 664h0M1293 918h0M320 676h0M1291 612h0M1246 620h0M830 917h0M692 899h0M470 900h0M1659 795h0M346 883h0M477 882h0M1070 648h0M341 662h0M1081 623h0M707 910h0M1306 607h0M1157 896h0M1385 619h0M1069 910h0M1109 905h0M1076 624h0M1426 894h0M1117 911h0M1374 903h0M939 905h0M595 906h0M1298 914h0M1149 901h0M326 672h0M1584 701h0M382 676h0M1365 633h0M1134 888h0M1287 906h0M972 640h0M1558 851h0M1165 618h0M1368 918h0M1235 635h0M828 887h0M1186 909h0M995 630h0M1658 778h0M549 666h0M402 672h0M1248 640h0M401 901h0M461 891h0M1058 615h0M611 881h0M888 913h0M388 876h0M931 634h0M779 602h0M417 674h0M499 889h0M614 910h0M917 904h0M961 643h0M338 670h0M1420 932h0M1519 665h0M443 664h0M1121 636h0"/><path stroke="#0000e1" d="M1113 981h0M1312 981h0M306 957h0M719 975h0M1549 896h0M1015 558h0M1399 984h0M569 958h0M1275 557h0M994 553h0M804 980h0M1287 986h0M350 948h0M700 973h0M867 568h0M1171 976h0M1611 684h0M1056 971h0M1265 986h0M765 980h0M836 559h0M419 626h0M1270 979h0M1422 976h0M316 612h0M513 613h0M942 565h0M428 954h0M713 572h0M517 608h0M676 580h0M1238 985h0M797 562h0M1386 986h0M398 959h0M994 969h0M1382 986h0M1029 555h0M699 571h0M1434 976h0M1099 968h0M1429 545h0M835 974h0M1245 542h0M649 968h0M923 559h0"/><path stroke="#57ffa8" d="M1393 826h0M834 833h0M380 836h0M1411 825h0M449 823h0M1467 695h0M1346 830h0M1487 779h0M1197 836h0M1025 826h0M857 711h0M1483 734h0M1278 821h0M1410 738h0M1176 818h0M1450 777h0M718 698h0M993 834h0M1142 840h0M939 834h0M394 716h0M1376 724h0M507 827h0M1326 838h0M873 828h0M546 717h0M1457 807h0M1360 756h0M1428 754h0M1170 711h0M474 720h0M1417 827h0M589 712h0M1148 700h0M1468 790h0M955 702h0M1415 805h0M430 728h0M1402 814h0M1274 713h0M1052 700h0M915 836h0M1172 695h0M1417 722h0M965 701h0M1418 732h0M411 722h0M1323 829h0M1172 717h0M348 714h0M1474 773h0M740 834h0M1197 708h0M419 727h0M1502 763h0M1353 712h0M656 840h0M493 815h0M1429 790h0M1160 822h0M1346 715h0M896 837h0M797 832h0M426 824h0M627 833h0M1126 840h0M1106 695h0M989 704h0M1448 812h0"/><path stroke="#f9ff06" d="M470 798h0M596 763h0M409 750h0M402 749h0M410 783h0M1064 764h0M525 777h0M300 759h0M325 757h0M456 759h0"/><path stroke="#ffa400" d="M358 757h0M360 759h0"/><path stroke="#00f5ff" d="M950 866h0M1104 674h0M1060 859h0M653 684h0M1124 872h0M931 860h0M1585 804h0M995 664h0M1597 745h0M1296 871h0M1515 720h0M1166 659h0M850 668h0M1558 711h0M1558 736h0M786 864h0M332 696h0M1315 681h0M846 872h0M1553 776h0M334 847h0M1484 700h0M601 849h0M372 703h0M342 694h0M1497 827h0M871 865h0M1598 782h0M1275 670h0M1326 869h0M447 840h0M979 673h0M1172 854h0M397 699h0M803 865h0M516 690h0M1309 671h0M1192 685h0M1410 676h0M1425 844h0M1536 829h0M710 675h0M872 854h0M1461 856h0M820 865h0M1000 864h0M1590 783h0M1240 866h0M1482 843h0M1139 664h0M1373 864h0M1408 858h0M1068 664h0M1214 682h0M1282 672h0M1451 681h0M588 694h0M674 860h0M1304 676h0M1293 670h0M1098 861h0M1588 745h0M1288 855h0M1430 672h0M1006 853h0M1578 755h0"/><path stroke="#ffc400" d="M386 758h0M385 764h0M373 790h0M438 763h0M309 775h0"/><path stroke="#ff7300" d="M356 773h0"/><path stroke="#98ff67" d="M949 819h0M1094 726h0M890 800h0M1248 746h0M329 802h0M1342 764h0M1336 736h0M895 718h0M859 716h0M583 814h0M969 808h0M1298 785h0M850 729h0M1153 771h0M732 803h0M1288 799h0M829 815h0M937 721h0M754 826h0M1185 751h0M1122 797h0M732 815h0M690 808h0M686 726h0M1176 726h0M1035 724h0M552 742h0M1328 788h0M842 719h0M1001 809h0M1085 726h0M620 813h0M787 814h0M1270 745h0M578 736h0M925 819h0M1211 744h0M742 806h0M830 719h0M868 819h0M1091 721h0M1082 817h0M1329 798h0M1199 781h0M726 739h0M680 736h0M1278 792h0M1219 801h0M521 732h0M898 723h0M1053 718h0M731 806h0M1234 793h0M873 730h0M962 723h0M661 731h0M1132 818h0M681 808h0M394 731h0M1195 795h0M769 802h0M1347 758h0M1323 749h0M899 805h0M1310 748h0M580 818h0M522 814h0M572 729h0M1098 820h0M515 805h0M1269 766h0M810 816h0M1144 819h0M1130 733h0M486 800h0M1305 792h0M659 807h0M754 795h0M835 732h0M1281 711h0M925 717h0M325 734h0M1300 822h0M1209 754h0M1408 770h0"/><path stroke="#77ff88" d="M1011 701h0M1189 720h0M933 718h0M1360 719h0M704 819h0M1339 742h0M1107 720h0M1373 804h0M774 718h0M661 723h0M977 716h0M1417 775h0M1337 789h0M1382 764h0M1381 760h0M683 715h0M398 813h0M1118 817h0M437 815h0M327 822h0M946 825h0M310 731h0M1281 727h0M882 709h0M1177 708h0M1225 725h0M1465 774h0M760 715h0M1088 831h0M801 827h0M956 716h0M1232 824h0M1082 822h0M1123 828h0M912 828h0M1122 824h0M1299 804h0M600 828h0M738 819h0M1408 730h0M1033 825h0M1436 729h0M822 727h0M1437 770h0M1446 768h0M1361 812h0M1273 802h0M1016 808h0M974 824h0M1405 789h0M1299 708h0M933 831h0M933 820h0M1329 772h0M954 709h0M751 717h0M1006 709h0M467 822h0M1347 788h0M1053 823h0M1282 819h0M1379 720h0M1280 720h0M1438 796h0M1340 709h0M1203 795h0M1422 736h0M820 815h0M1021 699h0M1393 731h0M619 824h0M480 825h0M747 818h0M1250 720h0M1221 715h0M1008 836h0"/><path stroke="#16ffe9" d="M1385 863h0M325 846h0M1488 787h0M1433 842h0M1558 721h0M1177 856h0M693 850h0M1570 811h0M1300 680h0M1377 676h0M645 695h0M584 850h0M748 849h0M718 855h0M618 697h0M608 700h0M993 689h0M947 859h0M1122 857h0M424 716h0M1393 854h0M1586 814h0M1574 773h0M1603 796h0M368 712h0M1299 839h0M1429 860h0M1529 815h0M1519 818h0M972 846h0M1246 851h0M1200 690h0M1491 727h0M650 689h0M1448 698h0M470 837h0M1522 714h0M1560 787h0M1523 822h0M1395 691h0M326 840h0M1452 838h0M1083 853h0M1550 725h0M1405 690h0M1556 815h0M840 680h0M1438 684h0M1467 703h0M1374 683h0M588 700h0M1180 694h0M904 691h0M1462 843h0M381 848h0"/><path stroke="#c8ff37" d="M793 774h0M932 796h0M322 803h0M605 794h0M654 749h0M877 782h0M974 796h0M1094 797h0M537 799h0M1035 803h0M436 758h0M789 758h0M625 776h0M942 803h0M589 777h0M467 803h0M963 781h0M836 740h0M1338 772h0M705 791h0M787 778h0M1026 729h0M1178 748h0M1016 735h0M363 810h0M392 804h0M1123 758h0M1058 798h0M949 755h0M987 786h0M977 780h0M624 763h0M441 792h0M553 786h0M725 780h0M874 797h0M609 766h0M526 782h0M691 782h0M1066 795h0M1204 808h0M479 812h0M473 794h0M454 735h0M1112 738h0M1034 769h0M1097 770h0M757 760h0M542 785h0M692 757h0M675 777h0M986 795h0M478 790h0M1237 770h0M636 775h0M390 740h0M736 769h0M1174 729h0M841 803h0M618 792h0M627 767h0M756 753h0M544 751h0M989 762h0M742 773h0M890 753h0M827 743h0M1125 773h0M811 742h0M1162 791h0M956 767h0M336 800h0M1018 795h0M1013 746h0M749 771h0M712 795h0M596 769h0M1204 801h0M1022 784h0M565 750h0M597 800h0M926 765h0M669 744h0M957 753h0M714 766h0M758 815h0M705 749h0M496 790h0M899 789h0M992 794h0"/><path stroke="#0000d0" d="M1190 982h0M443 614h0M863 977h0M296 616h0M1529 620h0M1203 984h0M334 610h0M1424 984h0M592 947h0M1180 547h0M1043 980h0M1408 981h0M1068 971h0M822 562h0M802 558h0M884 977h0M1117 548h0M340 614h0M1088 964h0M1541 624h0M1153 974h0M1073 968h0M786 974h0M641 580h0M522 604h0M1397 549h0M828 556h0M822 977h0M842 557h0M1244 984h0M659 967h0M1098 982h0M1228 547h0M906 556h0M1145 551h0M574 597h0"/><path stroke="#ff5300" d="M353 765h0"/><path stroke="#0053ff" d="M366 643h0M1066 586h0M559 911h0M305 917h0M685 927h0M1388 937h0M1424 586h0M1377 942h0M737 914h0M397 912h0M1364 946h0M634 621h0M1444 608h0M1586 861h0M1084 930h0M942 601h0M777 617h0M1226 585h0M832 609h0M485 634h0M758 615h0M616 628h0M298 903h0M825 630h0M435 907h0M1393 942h0M939 598h0M848 925h0M1194 589h0M1258 603h0M1534 880h0M1050 604h0M987 946h0M404 892h0M1210 591h0M917 935h0M1533 656h0M608 642h0M1352 953h0M1440 626h0M881 942h0M1469 611h0M485 647h0M1513 876h0M962 921h0M1296 606h0M682 605h0M796 626h0M1016 594h0M932 581h0M842 925h0M1328 591h0M966 601h0M1194 940h0M1138 927h0M622 633h0M1532 651h0M880 610h0M1300 615h0M1463 609h0M476 640h0M1456 930h0M1401 912h0M811 594h0M805 596h0M718 919h0M1483 879h0M812 614h0M1112 629h0M580 927h0M904 613h0M1490 875h0M613 931h0M1380 594h0M1403 928h0M829 933h0M1334 944h0M908 618h0M903 588h0M1269 582h0M842 617h0M301 906h0M550 919h0M1445 930h0M1642 716h0M688 615h0M811 944h0M1386 593h0M854 939h0M636 919h0M536 640h0M333 645h0M424 908h0M1304 919h0M1475 919h0M758 625h0M1068 904h0M1576 868h0M472 916h0M1044 933h0M813 919h0M1465 596h0M1036 944h0M818 616h0M1404 601h0M522 647h0M1004 596h0M1218 941h0M1261 593h0M1197 625h0M1126 939h0M529 930h0M309 925h0M1077 601h0M1043 934h0M1430 901h0M1417 940h0M726 920h0M1106 617h0"/><path stroke="#ff9400" d="M347 765h0"/><path stroke="#0063ff" d="M1236 625h0M589 646h0M562 896h0M830 643h0M802 922h0M956 609h0M1330 915h0M369 924h0M640 642h0M566 920h0M859 597h0M1041 913h0M617 929h0M604 897h0M1402 588h0M973 918h0M500 643h0M1421 628h0M1082 619h0M972 596h0M856 631h0M1236 917h0M1180 930h0M970 615h0M1179 628h0M1002 611h0M707 940h0M1522 884h0M1453 916h0M1068 599h0M366 916h0M1173 925h0M525 659h0M1035 613h0M1508 661h0M653 913h0M1107 640h0M746 625h0M1546 859h0M1186 593h0M702 903h0M873 899h0M656 907h0M457 667h0M1226 927h0M1160 612h0M1046 611h0M912 908h0M681 896h0M782 927h0M1177 891h0M1128 609h0M965 609h0M461 655h0M990 600h0M971 934h0M635 897h0M396 647h0M1096 593h0M424 656h0M780 610h0M1612 713h0M926 607h0M794 630h0M313 644h0M1329 628h0M1531 872h0M859 912h0M565 911h0M1082 602h0M739 616h0M604 917h0M420 645h0M1218 635h0M707 610h0M500 904h0M1625 830h0M1182 921h0M1074 929h0M1572 862h0M1313 938h0M1146 922h0M869 600h0M960 914h0M758 638h0M898 898h0M528 671h0M673 638h0M740 931h0M851 915h0M1484 614h0M910 930h0M316 888h0M332 902h0M570 918h0M844 920h0M787 604h0M311 671h0M465 886h0M568 655h0M382 650h0M1669 759h0M1452 612h0M1485 906h0M1641 821h0M1402 605h0M701 635h0M1424 606h0M865 603h0M1053 938h0M1474 889h0M1187 608h0M1022 929h0M1361 928h0M553 647h0M789 905h0M1458 906h0M659 651h0M1304 611h0M1652 809h0M739 920h0M396 892h0M525 655h0M1409 617h0M1067 607h0M1616 842h0M1171 612h0M420 910h0M1322 610h0M1506 881h0M587 907h0"/><path stroke="#ffb400" d="M358 752h0M353 787h0"/><path stroke="#0022ff" d="M660 945h0M1190 943h0M672 953h0M604 607h0M964 956h0M520 932h0M699 950h0M779 578h0M976 574h0M1057 946h0M1297 942h0M1322 960h0M1461 938h0M1284 583h0M1106 575h0M1086 566h0M1322 595h0M528 941h0M1145 571h0M1229 944h0M1531 898h0M1374 568h0M1334 572h0M819 596h0M396 934h0M628 942h0M916 956h0M908 571h0M1174 578h0M1380 561h0M1500 617h0M774 575h0M1230 559h0M1099 580h0M1210 571h0M1485 925h0M1078 962h0M541 620h0M1030 960h0M956 962h0M1172 966h0M342 940h0M655 585h0M1282 562h0M1469 926h0M1100 573h0M958 561h0M1395 571h0M1505 611h0M435 630h0M821 577h0M362 928h0M1452 585h0M1449 957h0M554 940h0M1246 952h0M1016 582h0M886 958h0M1226 573h0M884 953h0M1304 564h0M1157 588h0M1180 942h0M494 929h0M986 953h0M1022 939h0M1252 964h0M916 582h0M849 956h0M1357 568h0M441 647h0M1408 563h0M763 579h0M314 631h0M1025 941h0M372 630h0M1410 970h0M1108 956h0M1174 957h0M1321 979h0M304 636h0M1524 634h0M448 946h0M651 947h0M1472 580h0M653 955h0M363 636h0M1339 567h0M772 948h0M1552 879h0M684 616h0M1093 571h0M1062 568h0M673 941h0M845 949h0M856 964h0M739 574h0M953 951h0M1133 952h0"/><path stroke="#0000f1" d="M653 987h0M1561 895h0M1298 1136h0M1213 972h0M512 999h0M397 614h0M610 596h0M335 946h0M425 613h0M424 990h0M1296 980h0M910 562h0M1021 977h0M826 972h0M509 607h0M422 1116h0M1338 549h0M499 616h0M699 552h0M1154 965h0M379 948h0M657 572h0M405 952h0M588 1028h0M1062 988h0M677 964h0M441 956h0M955 974h0M718 564h0M558 948h0M1138 987h0M845 564h0M1548 639h0M481 616h0M1437 556h0M1046 1008h0M1290 550h0M1168 540h0M962 1057h0M710 569h0M893 532h0M694 580h0M523 615h0M800 570h0M328 944h0M970 564h0M1594 874h0M655 585h0M869 552h0M1486 590h0M520 566h0M500 626h0M830 966h0M1626 845h0M1556 1050h0M875 506h0M1545 902h0M1152 981h0M725 967h0M1402 1072h0M1180 497h0M844 543h0M1329 974h0M1476 453h0M1485 939h0M782 563h0M787 558h0M792 975h0M725 566h0M1579 661h0M862 1010h0M1144 973h0M1217 979h0M1181 565h0M966 574h0M1228 985h0M894 561h0M664 960h0M816 553h0M574 952h0M508 591h0M922 564h0M1036 567h0M1229 1131h0M843 1134h0M1517 559h0M861 507h0"/><path stroke="#37ffc8" d="M1478 738h0M1382 833h0M635 851h0M1523 761h0M1234 844h0M1545 742h0M916 841h0M1456 735h0M1486 799h0M881 853h0M1449 707h0M677 835h0M1361 838h0M1033 848h0M830 705h0M1449 823h0M881 687h0M635 692h0M1496 804h0M747 703h0M1524 750h0M927 847h0M555 838h0M361 831h0M705 699h0M655 708h0M990 844h0M1362 823h0M1494 812h0M1480 727h0M1467 718h0M824 834h0M1256 848h0M1132 843h0M816 696h0M724 702h0M1264 846h0M1573 794h0M736 851h0M461 714h0M809 691h0M1230 680h0M516 719h0M1222 689h0M1465 835h0M1166 690h0M1254 699h0M1481 765h0M1034 705h0M582 704h0M1346 846h0M622 705h0M969 687h0M608 709h0M446 842h0M475 706h0M1195 848h0M433 835h0M1096 695h0M1393 866h0M461 826h0M401 834h0M481 713h0M702 692h0M299 832h0M822 846h0M1532 774h0M492 714h0M1068 842h0M754 839h0M994 686h0M1246 684h0M1571 792h0M1285 703h0M1085 837h0M931 849h0M1349 700h0M717 691h0"/><path stroke="#ffe500" d="M451 774h0M309 780h0M416 772h0M468 779h0M430 768h0M451 759h0M301 763h0"/><path stroke="#0000f1" d="M769 973h0M790 570h0M725 563h0M1284 548h0M449 958h0M1042 553h0M1358 538h0M1234 977h0M885 562h0M730 975h0M898 512h0M1401 543h0M1138 965h0M732 1017h0M1048 564h0M1028 956h0M565 951h0M996 566h0M1446 939h0M595 606h0M1516 912h0M978 529h0M1667 718h0M1433 966h0M1304 555h0M1368 547h0M1468 574h0M1558 900h0M476 610h0M669 574h0M1273 978h0M604 960h0M1268 519h0M841 972h0M1000 971h0M730 966h0M1497 927h0M507 613h0M381 570h0M1182 975h0M1521 911h0M378 969h0M1051 978h0M370 939h0M545 954h0M819 979h0M1126 561h0M1250 976h0M1265 548h0M918 1064h0M404 944h0M320 1011h0M983 554h0M420 956h0M1299 540h0M1300 975h0M902 551h0M966 560h0M296 956h0M1003 554h0M1428 555h0M763 561h0M456 615h0M1465 567h0M781 566h0M841 956h0M875 520h0M1098 495h0M324 989h0M702 589h0M1192 976h0M1472 939h0M770 569h0M835 528h0M1134 555h0M1048 552h0M765 567h0"/><path stroke="#00e5ff" d="M1206 857h0M1012 674h0M1140 855h0M979 872h0M1286 866h0M1237 671h0M959 858h0M933 669h0M1085 667h0M519 856h0M1064 871h0M408 683h0M1248 871h0M619 862h0M860 675h0M574 693h0M645 857h0M776 664h0M1308 871h0M369 862h0M908 674h0M1525 700h0M1124 859h0M1535 832h0M1490 690h0M357 698h0M1405 664h0M815 676h0M1274 866h0M414 703h0M491 693h0M464 705h0M892 675h0M486 857h0M1621 749h0M1017 861h0M298 851h0M541 861h0M394 855h0M1232 867h0M677 666h0M764 665h0M353 855h0M507 860h0M561 692h0M1364 673h0M550 854h0M1164 865h0M1425 864h0M1088 678h0M1086 864h0M1438 665h0M1375 670h0M576 687h0M410 854h0M1593 811h0M1176 665h0M942 667h0M760 858h0M887 674h0M645 683h0M1142 866h0M877 656h0M1604 741h0M1501 853h0M1174 863h0M834 675h0M995 857h0M317 698h0M578 855h0M539 684h0M1434 861h0M1054 682h0M1092 655h0"/><path stroke="#77ff88" d="M1274 720h0M1459 749h0M1181 803h0M891 702h0M518 731h0M1169 819h0M1353 801h0M1029 709h0M779 834h0M564 820h0M1357 715h0M1321 763h0M1028 831h0M1201 720h0M884 809h0M1136 719h0M1269 698h0M645 832h0M622 821h0M1192 714h0M1034 711h0M1213 830h0M1355 737h0M1318 817h0M571 818h0M1400 773h0M1422 766h0M672 826h0M741 711h0M1003 720h0M908 713h0M1002 825h0M1041 713h0M1371 757h0M1443 779h0M432 823h0M1405 770h0M854 716h0M1385 762h0M1401 752h0M1407 797h0M874 825h0M421 813h0M1433 781h0M696 716h0M1427 762h0M974 835h0M1314 744h0M1229 703h0M574 823h0M837 816h0M1406 745h0M700 834h0M1257 718h0M1064 714h0M321 726h0M603 817h0M1253 823h0M1357 805h0M345 830h0M1225 730h0M1194 824h0M1363 731h0M1454 740h0M1290 737h0M1269 811h0M606 725h0M1093 815h0M1364 780h0M305 823h0M586 731h0M1126 712h0"/><path stroke="#37ffc8" d="M1528 802h0M940 849h0M1440 821h0M1321 844h0M1093 841h0M1475 717h0M848 694h0M1406 700h0M829 836h0M534 840h0M661 709h0M363 712h0M315 831h0M537 836h0M1529 793h0M1284 852h0M1305 841h0M330 832h0M1165 838h0M1125 689h0M446 714h0M1125 843h0M769 831h0M766 840h0M1499 710h0M685 695h0M517 825h0M1507 806h0M312 715h0M393 836h0M598 706h0M1057 834h0M323 718h0M1466 807h0M483 845h0M563 710h0M339 843h0M955 843h0M1424 742h0M896 854h0M1442 724h0M1553 782h0M948 699h0M878 685h0M1488 750h0M1459 705h0M1476 823h0M1569 807h0M1108 685h0M550 834h0M1565 777h0M1373 696h0M851 698h0M725 698h0M1376 846h0M1505 761h0M1403 842h0M1516 780h0M1526 745h0M1482 792h0M1126 695h0M514 841h0M770 692h0M1482 808h0M1328 700h0M1515 753h0M1356 846h0M668 692h0M1066 693h0M595 710h0M1233 834h0M1387 695h0M1499 754h0M626 700h0M1496 725h0M829 846h0M1397 718h0"/><path stroke="#b8ff47" d="M990 812h0M820 770h0M728 787h0M574 752h0M1220 771h0M1261 789h0M684 791h0M594 788h0M1161 753h0M1308 772h0M1218 783h0M734 759h0M1050 748h0M362 808h0M493 744h0M614 786h0M805 724h0M678 791h0M697 735h0M868 813h0M1184 761h0M417 795h0M1006 802h0M1273 778h0M627 798h0M641 805h0M782 785h0M761 751h0M594 746h0M701 749h0M1093 785h0M1046 764h0M413 804h0M1075 755h0M946 747h0M865 743h0M993 716h0M1171 754h0M301 743h0M848 775h0M722 768h0M641 730h0M601 734h0M665 784h0M1104 794h0M726 792h0M1107 732h0M962 739h0M367 725h0M877 772h0M1150 771h0M1148 754h0M866 779h0M670 761h0M896 754h0M718 788h0M627 796h0M820 746h0M1211 775h0M533 793h0M708 737h0M941 778h0M796 738h0M302 807h0M967 802h0M1225 768h0M731 769h0M923 735h0M1004 746h0M1017 799h0M700 765h0M1291 746h0M409 741h0M525 747h0M1041 723h0M1164 742h0M717 754h0M1082 746h0M748 802h0M570 734h0M1075 819h0M912 745h0M767 805h0M330 738h0M920 739h0M460 737h0M989 731h0M303 797h0M498 746h0"/><path stroke="#00d4ff" d="M1613 733h0M1298 859h0M534 694h0M1356 665h0M925 664h0M838 672h0M973 860h0M1120 656h0M1318 881h0M390 688h0M1257 660h0M313 694h0M774 682h0M1102 868h0M973 668h0M1268 667h0M1389 869h0M1177 865h0M904 862h0M389 867h0M691 670h0M988 878h0M1380 669h0M1321 664h0M1168 869h0M792 860h0M739 885h0M690 663h0M1001 680h0M788 673h0M1209 874h0M1626 775h0M926 665h0M597 689h0M1016 868h0M677 870h0M1125 672h0M1394 886h0M1616 791h0M978 863h0M421 858h0M440 860h0M965 874h0M1373 658h0M1054 667h0M1145 658h0M832 661h0M597 867h0M1285 887h0M1448 867h0M357 858h0M1152 869h0M1184 867h0M1312 873h0M477 848h0M705 864h0M1290 656h0M558 681h0M1021 656h0M406 698h0M1393 870h0M1169 657h0M384 854h0M881 656h0M972 660h0M1633 764h0M408 859h0M878 880h0M1144 873h0M702 675h0"/><path stroke="#0043ff" d="M618 908h0M1562 865h0M1320 946h0M1489 605h0M1474 900h0M808 926h0M435 939h0M1396 933h0M515 640h0M1581 857h0M493 905h0M706 604h0M1380 950h0M651 930h0M1292 978h0M1217 578h0M989 608h0M1180 585h0M1292 938h0M519 633h0M517 936h0M548 886h0M296 931h0M1594 849h0M1112 938h0M412 918h0M1251 590h0M1305 943h0M373 644h0M1222 617h0M1282 957h0M938 933h0M1670 791h0M955 603h0M372 896h0M1156 593h0M1347 584h0M1449 937h0M1429 939h0M1188 571h0M1538 885h0M549 612h0M396 915h0M697 594h0M789 922h0M668 636h0M354 629h0M1434 927h0M1349 934h0M385 632h0M1345 958h0M640 594h0M1107 938h0M963 938h0M893 594h0M1482 916h0M1478 614h0M590 913h0M650 629h0M1162 587h0M1262 942h0M1400 947h0M442 916h0M386 929h0M923 597h0M876 929h0M604 638h0M1428 617h0M1405 954h0M1237 588h0M555 932h0M1206 578h0M822 956h0M907 602h0M1502 907h0M464 914h0M936 615h0M619 921h0M416 924h0M699 925h0M837 593h0M641 619h0M564 631h0M1467 603h0M1140 942h0M1437 604h0M1060 623h0M954 586h0M726 955h0M750 599h0M1317 951h0M1095 591h0M905 584h0M556 920h0M1370 938h0"/><path stroke="#98ff67" d="M664 809h0M1172 747h0M1100 733h0M492 812h0M833 803h0M859 760h0M787 714h0M545 730h0M539 739h0M637 736h0M708 723h0M1206 788h0M1196 821h0M997 739h0M594 808h0M1012 721h0M782 737h0M876 764h0M618 806h0M1174 799h0M784 769h0M528 725h0M1306 739h0M587 817h0M1213 802h0M545 810h0M824 732h0M1202 767h0M1067 823h0M846 725h0M392 820h0M740 722h0M1324 806h0M541 735h0M938 798h0M1345 784h0M1299 748h0M1240 777h0M1364 725h0M1376 772h0M1200 760h0M1195 731h0M635 789h0M1068 742h0M606 806h0M1150 717h0M1126 810h0M387 806h0M538 811h0M1315 737h0M888 816h0M910 819h0M625 812h0M770 738h0M1088 735h0M1274 766h0M508 802h0M400 732h0M673 731h0M931 808h0M1044 817h0M674 796h0M883 717h0M1220 729h0M779 814h0M1083 806h0M506 728h0M1184 784h0M1196 786h0M1350 727h0M1280 767h0M1118 739h0M1258 759h0M749 806h0M1233 788h0M669 736h0M909 816h0M891 788h0M1324 785h0M1186 730h0M1358 763h0M1285 758h0M1227 782h0M467 735h0M377 723h0M1138 712h0M594 820h0M778 806h0M1324 738h0M819 809h0M1151 734h0M345 726h0"/><path stroke="#0000a0" d="M610 964h0M861 980h0"/><path stroke="#0000b0" d="M914 557h0M747 979h0"/><path stroke="#0012ff" d="M725 959h0M620 595h0M475 619h0M843 969h0M1099 957h0M1275 566h0M390 937h0M894 575h0M793 960h0M437 620h0M1472 583h0M1557 642h0M391 624h0M472 635h0M1442 958h0M888 951h0M1418 943h0M845 575h0M418 938h0M1559 654h0M1493 914h0M969 569h0M1320 987h0M633 954h0M1208 575h0M696 582h0M859 569h0M1041 958h0M941 568h0M344 936h0M1465 587h0M1140 549h0M981 953h0M853 568h0M755 960h0M1637 837h0M1393 973h0M1245 556h0M1573 875h0M850 976h0M684 580h0M753 965h0M834 960h0M617 585h0M1083 973h0M768 586h0M650 597h0M601 945h0M344 629h0M1415 980h0M337 620h0M629 954h0M1049 965h0M896 970h0M578 949h0M1379 544h0M729 938h0M670 589h0M1233 571h0M535 946h0M1124 577h0M424 621h0M1110 972h0M1014 944h0M371 955h0M1361 971h0M666 947h0M1099 975h0M1635 708h0M761 961h0M989 582h0M1521 615h0M1425 980h0M1112 959h0M1676 746h0M578 943h0M425 940h0M660 940h0M933 572h0M320 943h0M643 943h0"/><path stroke="#0000e1" d="M1090 572h0M734 563h0M913 974h0M641 961h0M438 947h0M403 955h0M553 607h0M1606 866h0M546 601h0M1347 981h0M968 976h0M1358 556h0M1037 555h0M1416 554h0M773 968h0M1490 930h0M1194 546h0M1257 543h0M740 561h0M1277 965h0M1520 606h0M741 977h0M347 611h0M1089 555h0M494 953h0M810 573h0M436 955h0M1146 964h0M1289 546h0M634 957h0M1069 559h0M384 616h0M988 558h0M1638 701h0M1222 555h0M1420 547h0M485 951h0M614 954h0M442 950h0M491 610h0M1016 564h0M869 557h0"/><path stroke="#0002ff" d="M1515 909h0M1090 949h0M545 940h0M531 610h0M1082 551h0M393 629h0M894 975h0M1026 970h0M467 945h0M1202 560h0M1440 946h0M1225 576h0M308 942h0M1649 715h0M878 975h0M651 966h0M962 961h0M380 629h0M699 965h0M1052 571h0M1128 551h0M834 563h0M564 620h0M1361 981h0M480 610h0M1377 568h0M694 956h0M661 594h0M1188 972h0M1197 964h0M1274 550h0M989 960h0M898 563h0M1139 978h0M1417 961h0M478 954h0M501 947h0M736 971h0M811 953h0M586 942h0M636 599h0M1428 973h0M796 964h0M886 578h0M1555 894h0M1577 885h0M774 958h0M1323 542h0M1388 562h0M1090 557h0M443 930h0M1433 960h0M1184 966h0M874 567h0M363 956h0M850 559h0M1158 569h0M1129 575h0M1019 962h0M1560 889h0M1165 553h0M1034 969h0M1011 955h0"/><path stroke="#26ffd9" d="M1581 762h0M1508 789h0M1251 686h0M1530 824h0M1585 774h0M1382 837h0M1386 846h0M1467 735h0M1562 758h0M624 842h0M1531 787h0M507 706h0M1043 846h0M977 847h0M320 711h0M792 685h0M1384 686h0M1431 720h0M713 847h0M942 697h0M1056 850h0M835 849h0M1501 751h0M1128 827h0M806 696h0M636 703h0M841 853h0M1010 848h0M1442 699h0M813 853h0M1581 797h0M1489 739h0M1576 811h0M1505 730h0M773 701h0M1540 776h0M772 849h0M1541 796h0M1521 737h0M792 847h0M337 851h0M1484 813h0M408 838h0M1453 803h0M1331 840h0M1075 696h0M1138 847h0M608 847h0M1525 777h0M1507 818h0M636 837h0M812 847h0M1340 850h0M666 844h0M410 716h0M782 845h0M1419 700h0M1537 760h0M1458 696h0M1286 849h0M440 836h0M982 836h0M1562 800h0M1188 840h0M1483 690h0M1189 678h0M507 841h0M1167 858h0M981 691h0M1332 695h0M1506 809h0M1288 838h0M1252 846h0M1494 755h0M778 692h0M1347 683h0M1435 821h0"/><path stroke="#ff6300" d="M362 766h0"/><path stroke="#0084ff" d="M939 902h0M1560 678h0M1489 654h0M811 879h0M1043 904h0M315 915h0M1638 817h0M298 667h0M1243 607h0M591 902h0M1138 623h0M792 900h0M928 643h0M1321 919h0M730 922h0M1283 892h0M1619 712h0M1386 898h0M1051 905h0M662 919h0M1651 730h0M1377 906h0M745 903h0M654 880h0M877 632h0M1010 892h0M564 661h0M1372 629h0M589 634h0M462 898h0M632 890h0M377 875h0M348 900h0M1288 930h0M1348 913h0M1095 640h0M409 912h0M953 903h0M600 646h0M1216 920h0M302 885h0M1515 644h0M1086 915h0M937 645h0M1298 636h0M417 898h0M553 895h0M1001 913h0M1006 636h0M645 892h0M889 622h0M452 904h0M605 654h0M1051 641h0M544 891h0M415 666h0M1512 861h0M1033 905h0M996 924h0M1133 903h0M1180 911h0M1364 606h0M1602 827h0M521 906h0M1449 902h0M1313 632h0M1133 897h0M1634 822h0M1598 702h0M778 634h0M1265 927h0M408 893h0M972 925h0M825 911h0M936 924h0M1037 633h0M676 900h0M429 881h0M1452 641h0M1400 917h0M762 891h0M1194 598h0M582 667h0M859 640h0M1353 636h0M369 663h0M1269 637h0M1425 637h0M1592 835h0M816 622h0M1446 892h0M1457 881h0M457 661h0M844 635h0M617 888h0M990 890h0M366 910h0M1440 633h0M1590 704h0M899 891h0M437 672h0M514 892h0M803 628h0M491 896h0M1021 903h0M978 628h0M746 909h0M993 632h0M1209 631h0M1381 911h0M1301 918h0M1536 669h0M1484 866h0M1206 630h0M348 671h0M786 621h0M1456 902h0"/><path stroke="#00a4ff" d="M884 883h0M432 678h0M810 884h0M467 878h0M930 892h0M754 646h0M1452 644h0M1009 636h0M396 870h0M730 648h0M1108 887h0M568 871h0M555 668h0M552 863h0M1662 800h0M1517 688h0M851 654h0M830 660h0M1379 613h0M922 645h0M1060 662h0M610 650h0M1546 696h0M838 657h0M900 908h0M1370 897h0M1239 640h0M1336 640h0M604 665h0M338 876h0M1390 639h0M805 653h0M630 873h0M1486 671h0M1034 884h0M477 657h0M793 649h0M958 878h0M1035 894h0M692 656h0M570 671h0M443 879h0M1274 892h0M490 873h0M378 684h0M722 646h0M968 896h0M1192 642h0M1317 882h0M463 881h0M997 890h0M1630 742h0M889 653h0M650 667h0M621 874h0M797 885h0M1468 664h0M1331 903h0M613 672h0M1291 646h0M668 879h0M1050 881h0M756 661h0M370 685h0M360 893h0M1642 787h0M1605 805h0M1046 880h0M411 879h0M670 659h0M1340 614h0M576 882h0M438 684h0M1113 648h0M877 885h0M1160 639h0"/><path stroke="#0022ff" d="M566 628h0M317 932h0M1209 953h0M660 576h0M860 612h0M828 587h0M413 949h0M1262 570h0M1450 588h0M1354 577h0M878 962h0M610 613h0M1312 565h0M1496 897h0M1019 954h0M534 622h0M345 941h0M1442 960h0M891 958h0M459 930h0M1558 661h0M315 946h0M1402 578h0M713 580h0M1536 639h0M1204 960h0M536 938h0M756 595h0M713 945h0M350 928h0M810 586h0M1026 948h0M970 960h0M1184 947h0M1507 904h0M1257 954h0M605 932h0M1154 567h0M1256 963h0M729 958h0M1283 578h0M1127 962h0M827 956h0M426 637h0M365 631h0M978 579h0M786 941h0M1533 633h0M924 937h0M712 941h0M1343 576h0M1597 691h0M1217 970h0M624 617h0M581 611h0M1445 591h0M1449 599h0M1517 899h0M904 962h0M672 603h0M970 579h0M1521 623h0M1075 590h0M459 644h0M1282 980h0M719 971h0M1217 568h0M875 595h0M857 592h0M1365 948h0M1588 676h0M1000 955h0M977 594h0M912 945h0M337 626h0M338 932h0M1073 569h0M1125 584h0M1388 958h0M689 941h0M849 571h0M1179 965h0M556 625h0M1068 576h0M457 635h0M792 583h0M1067 950h0M1268 960h0M1178 573h0M1353 961h0"/><path stroke="#00b4ff" d="M1346 651h0M514 677h0M1450 880h0M1285 647h0M1157 887h0M317 861h0M1371 648h0M1461 664h0M805 886h0M1637 751h0M1645 754h0M849 877h0M1046 655h0M1360 659h0M728 873h0M566 679h0M736 875h0M1301 888h0M1211 649h0M1413 638h0M813 656h0M1050 651h0M1149 882h0M476 867h0M1038 649h0M1366 645h0M836 872h0M874 648h0M1235 646h0M984 645h0M356 882h0M1113 653h0M1273 647h0M796 881h0M1280 879h0M998 877h0M1192 647h0M336 883h0M1481 854h0M499 864h0M700 878h0M1622 789h0M1260 650h0M432 867h0M1405 869h0M899 876h0M995 658h0M938 881h0M778 669h0M564 677h0M1266 649h0M779 883h0M1246 651h0M1293 887h0M1164 627h0M942 652h0M902 659h0M1572 836h0M1650 768h0M1331 874h0M792 676h0M718 657h0M1336 643h0M1199 895h0M1325 646h0M1105 664h0M1104 647h0M398 684h0M982 650h0M1270 880h0M1648 750h0M738 664h0M1304 639h0M1339 885h0M360 683h0M402 682h0M1525 688h0M930 660h0M1060 652h0M1253 650h0"/><path stroke="#00f5ff" d="M964 671h0M306 838h0M1124 677h0M603 693h0M1610 761h0M426 843h0M1555 809h0M1268 678h0M1131 673h0M898 684h0M1028 864h0M1368 852h0M902 868h0M1562 753h0M757 679h0M764 671h0M1079 666h0M1305 660h0M1356 855h0M1505 828h0M773 855h0M307 702h0M1537 839h0M1473 680h0M1308 862h0M529 858h0M1542 744h0M1155 859h0M578 858h0M1165 854h0M1417 665h0M971 867h0M715 865h0M368 848h0M948 669h0M331 703h0M1532 810h0M1234 857h0M1059 868h0M410 695h0M1488 845h0M1405 852h0M514 849h0M1445 673h0M1439 854h0M584 865h0M1224 672h0M1429 670h0M300 848h0M1562 731h0M777 678h0M1058 682h0M1328 670h0M421 850h0M1241 664h0M385 845h0M1520 803h0M724 858h0M1228 872h0M1094 858h0M1589 765h0M1614 786h0M1077 872h0M972 676h0M464 701h0M721 862h0M836 863h0M1329 858h0M1242 855h0M697 873h0M1257 678h0M779 866h0"/><path stroke="#ff7300" d="M336 770h0"/><path stroke="#ffe500" d="M423 770h0M336 789h0M387 749h0M322 781h0M315 779h0M448 767h0M369 750h0"/><path stroke="#67ff98" d="M407 822h0M1029 717h0M867 826h0M1417 793h0M1107 826h0M1458 788h0M1106 711h0M859 819h0M1459 778h0M1315 710h0M704 712h0M1309 717h0M852 830h0M1306 830h0M1129 692h0M1178 815h0M1457 793h0M1230 711h0M1242 833h0M1326 824h0M1401 761h0M1376 809h0M985 837h0M522 828h0M1266 718h0M1382 802h0M674 823h0M893 833h0M299 816h0M316 724h0M1074 705h0M1444 753h0M1325 708h0M1425 773h0M1307 733h0M1257 737h0M1153 803h0M768 810h0M466 724h0M1251 703h0M838 708h0M1395 693h0M668 825h0M457 817h0M528 816h0M345 824h0M818 715h0M1305 699h0M1462 767h0M545 829h0M714 711h0M629 822h0M709 825h0M715 825h0M841 712h0M1180 789h0M752 709h0M1412 820h0M604 836h0M1212 819h0M1202 713h0M1469 799h0M865 708h0M1235 813h0M1437 812h0M1238 710h0M1452 769h0M1258 728h0M940 842h0M1382 789h0M1393 795h0M1276 809h0M491 825h0M1132 700h0M1367 710h0M1416 803h0M588 825h0M1370 801h0M1246 714h0M1278 818h0M1320 813h0M1422 788h0M1332 725h0M1386 721h0M1247 714h0"/><path stroke="#0063ff" d="M677 925h0M1363 913h0M648 641h0M1098 604h0M1218 898h0M1600 839h0M762 633h0M437 661h0M1234 598h0M392 649h0M931 909h0M336 899h0M565 648h0M1045 924h0M1492 616h0M1093 920h0M1170 623h0M646 907h0M658 616h0M691 915h0M658 912h0M814 604h0M389 907h0M989 898h0M888 608h0M1129 600h0M1256 908h0M317 902h0M875 624h0M613 629h0M1278 593h0M1324 928h0M977 931h0M1230 608h0M1609 842h0M594 894h0M1208 915h0M1481 626h0M909 626h0M1664 802h0M1460 625h0M988 925h0M1371 926h0M773 635h0M1028 628h0M358 656h0M1220 594h0M464 658h0M1030 925h0M938 626h0M305 660h0M1604 848h0M1202 608h0M899 629h0M1605 695h0M761 615h0M741 609h0M1436 941h0M741 905h0M389 883h0M1473 613h0M1069 614h0M482 904h0M1488 904h0M1070 627h0M571 662h0M573 886h0M417 890h0M580 912h0M648 892h0M714 929h0M449 896h0M1007 597h0M523 916h0M1285 591h0M595 620h0M299 651h0M318 651h0M499 654h0M1353 941h0M934 923h0M1154 911h0M379 922h0M772 922h0M801 906h0M1269 615h0M605 889h0M332 922h0M1339 915h0M854 607h0M582 899h0M708 646h0M1098 935h0M868 915h0M1132 615h0M1672 781h0M1048 923h0M1032 640h0M1481 608h0M580 918h0M544 647h0M1508 877h0M1333 937h0M1397 949h0M1486 633h0M546 659h0M1034 923h0M664 899h0M1211 940h0M1209 926h0M857 931h0M1067 926h0M513 644h0M1478 643h0M1496 646h0M992 914h0M1196 944h0M929 915h0M993 617h0M421 657h0M1361 597h0M1436 620h0M812 623h0M753 930h0M412 898h0M1453 624h0M949 626h0M1337 592h0M538 658h0M928 936h0M1019 631h0M537 655h0M510 664h0M1565 694h0M506 648h0M1345 591h0M305 907h0M1416 603h0M777 910h0M309 645h0M1340 600h0M881 622h0M778 945h0M1332 594h0M382 645h0M772 615h0M677 628h0"/><path stroke="#47ffb8" d="M1428 721h0M934 692h0M1488 731h0M470 831h0M761 707h0M945 689h0M1201 840h0M1486 714h0M1477 720h0M450 830h0M1440 730h0M1469 811h0M400 829h0M726 839h0M611 713h0M355 716h0M417 715h0M749 696h0M1450 728h0M680 840h0M1051 843h0M1132 839h0M1355 697h0M1366 695h0M1475 749h0M428 828h0M905 709h0M1409 759h0M1377 697h0M1260 701h0M670 829h0M1330 829h0M1133 709h0M1114 840h0M1450 788h0M641 834h0M1431 810h0M1326 702h0M1038 695h0M1044 694h0M691 702h0M362 714h0M1467 751h0M900 831h0M1340 697h0M732 843h0M1410 830h0M1515 748h0M856 693h0M1374 823h0M1175 837h0M1298 689h0M1385 833h0M1293 695h0M841 696h0M931 702h0M1419 708h0M1427 809h0M1298 833h0M708 836h0M1226 821h0M896 705h0M1482 722h0M919 702h0M1031 839h0M1260 838h0M1264 840h0M1118 691h0M1398 842h0M770 710h0M1419 815h0"/><path stroke="#a8ff57" d="M921 793h0M412 811h0M896 798h0M1062 730h0M797 821h0M1184 805h0M934 730h0M787 736h0M886 752h0M812 758h0M922 805h0M542 805h0M801 773h0M1044 773h0M467 742h0M723 763h0M745 774h0M651 794h0M1152 786h0M1296 799h0M589 749h0M563 734h0M1134 787h0M1337 781h0M1317 750h0M806 766h0M965 716h0M686 789h0M844 741h0M795 806h0M937 739h0M544 805h0M1096 752h0M1236 733h0M1311 766h0M494 738h0M888 806h0M865 723h0M1246 797h0M661 733h0M1011 737h0M480 739h0M1192 808h0M725 786h0M993 732h0M929 814h0M706 802h0M1129 776h0M727 801h0M1124 739h0M749 792h0M1244 771h0M704 753h0M1128 724h0M963 755h0M908 741h0M1165 723h0M492 798h0M813 729h0M1037 792h0M657 801h0M404 806h0M690 738h0M1137 793h0M1149 799h0M754 806h0M1221 810h0M656 773h0M1313 775h0M1265 784h0M1101 809h0M797 748h0M1203 741h0M1078 811h0M801 789h0M1064 756h0M642 814h0M677 763h0M856 767h0M1308 780h0M1172 740h0M739 821h0M1296 764h0M786 802h0M556 732h0M1149 728h0M726 751h0M803 813h0M675 722h0M974 805h0M1240 756h0M1322 774h0M330 800h0M700 804h0"/><path stroke="#88ff77" d="M694 821h0M670 724h0M1368 768h0M562 728h0M1273 724h0M955 810h0M1218 797h0M1045 829h0M388 813h0M1097 818h0M769 815h0M778 803h0M773 729h0M1338 750h0M1061 822h0M1280 778h0M1361 773h0M762 823h0M1116 800h0M1441 762h0M809 824h0M1284 809h0M518 816h0M1405 736h0M1064 819h0M1139 738h0M949 810h0M590 725h0M1003 772h0M1045 705h0M1026 721h0M841 819h0M395 728h0M1005 820h0M1395 776h0M550 725h0M1375 718h0M330 816h0M422 739h0M762 722h0M900 717h0M912 820h0M763 816h0M777 723h0M1332 807h0M979 705h0M1013 728h0M1288 812h0M805 714h0M1169 811h0M408 732h0M462 814h0M465 813h0M897 821h0M865 834h0M550 743h0M720 813h0M375 822h0M937 818h0M1321 724h0M816 794h0M1368 780h0M1099 722h0M1360 787h0M1422 744h0M1411 779h0M1321 735h0M877 719h0M603 822h0M334 819h0M1315 780h0M1385 782h0M854 819h0M1187 823h0M1240 808h0M1256 802h0M715 818h0M847 704h0M1046 810h0M996 724h0M1065 718h0M1325 755h0M1132 814h0M1349 799h0M1374 776h0"/><path stroke="#06fff9" d="M1606 784h0M1587 770h0M661 683h0M1420 683h0M1571 820h0M1557 728h0M744 682h0M888 682h0M568 846h0M814 684h0M1220 661h0M802 681h0M1510 697h0M1342 863h0M1016 683h0M305 714h0M808 666h0M984 684h0M1212 854h0M1557 802h0M1582 751h0M1331 847h0M1539 800h0M1416 847h0M1089 866h0M574 842h0M1587 811h0M419 845h0M618 848h0M1540 782h0M1093 869h0M500 846h0M843 689h0M849 841h0M641 851h0M1082 851h0M334 852h0M651 699h0M1042 683h0M681 855h0M1261 859h0M806 683h0M628 846h0M625 855h0M1512 841h0M1036 859h0M1309 683h0M364 855h0M1573 750h0M736 856h0M859 855h0M1380 869h0M1536 723h0M1291 681h0M848 859h0M1445 850h0M1587 737h0M1018 851h0M1274 858h0M1307 856h0M1529 708h0M1402 674h0M871 851h0M892 856h0M1547 776h0M1616 762h0M508 852h0M1537 754h0M1582 734h0M654 851h0M827 686h0M504 697h0M1568 727h0M1552 822h0M492 850h0M1114 863h0M1362 845h0M925 683h0M1040 868h0M1343 673h0M1170 674h0"/><path stroke="#c8ff37" d="M1025 776h0M323 800h0M530 789h0M902 741h0M990 774h0M685 800h0M861 739h0M714 747h0M1028 792h0M613 756h0M1054 750h0M955 778h0M777 765h0M700 773h0M518 740h0M531 736h0M820 731h0M621 762h0M997 760h0M688 773h0M1110 777h0M1052 759h0M835 776h0M453 743h0M1072 795h0M1076 765h0M811 749h0M842 753h0M434 806h0M1217 757h0M898 734h0M956 748h0M680 773h0M872 752h0M502 799h0M898 781h0M740 762h0M1160 763h0M796 784h0M1173 761h0M642 786h0M576 805h0M1080 795h0M1075 797h0M862 802h0M1046 782h0M1029 787h0M313 794h0M1042 801h0M1036 762h0M910 765h0M516 749h0M946 738h0M805 750h0M1070 785h0M575 784h0M651 760h0M1086 758h0M1235 761h0M1021 782h0M882 762h0M886 736h0M1019 752h0M907 775h0M376 736h0M830 767h0M371 731h0M769 777h0M660 791h0M531 748h0M1211 788h0M954 796h0M1126 750h0M1068 768h0"/><path stroke="#0053ff" d="M317 922h0M643 916h0M774 938h0M721 926h0M1287 606h0M1253 938h0M978 614h0M710 931h0M883 606h0M1139 626h0M1336 927h0M1203 939h0M825 606h0M1194 616h0M832 615h0M1107 927h0M899 614h0M1667 769h0M1160 596h0M618 918h0M625 628h0M322 642h0M1425 612h0M449 908h0M727 597h0M386 642h0M473 920h0M460 913h0M818 925h0M916 627h0M804 614h0M455 909h0M598 623h0M878 603h0M1243 918h0M1106 606h0M1238 932h0M523 631h0M872 943h0M784 948h0M745 614h0M1032 600h0M1069 938h0M797 610h0M611 634h0M374 904h0M380 911h0M970 590h0M1133 592h0M709 624h0M957 935h0M584 926h0M926 923h0M1072 587h0M1122 595h0M640 605h0M840 609h0M1012 604h0M726 945h0M1637 829h0M1149 598h0M1043 615h0M462 923h0M1352 966h0M800 625h0M1504 629h0M1426 946h0M1270 923h0M765 929h0M445 912h0M905 923h0M540 926h0M554 655h0M1556 861h0M526 639h0M429 646h0M853 620h0M1398 957h0M1122 589h0M873 580h0M349 908h0M574 650h0M1266 607h0M573 631h0M1093 584h0M533 642h0M1249 927h0M426 923h0M614 621h0M542 645h0M1277 580h0M350 656h0M798 936h0M1418 583h0M1674 754h0M488 666h0M393 927h0M734 634h0M1210 929h0M772 941h0M1244 596h0M1458 636h0M630 927h0M997 927h0M749 936h0M1115 598h0M1064 943h0M342 647h0M881 930h0M818 603h0M1344 952h0"/><path stroke="#ffa400" d="M354 783h0"/><path stroke="#00c4ff" d="M1163 879h0M1144 653h0M1019 883h0M630 674h0M1466 861h0M1171 650h0M1377 882h0M915 867h0M721 873h0M372 692h0M1425 648h0M1492 851h0M1107 875h0M665 857h0M917 659h0M1184 878h0M379 868h0M298 687h0M602 873h0M1241 872h0M1461 870h0M793 666h0M1301 650h0M1625 755h0M920 673h0M746 665h0M494 855h0M1049 657h0M555 698h0M1377 649h0M1554 704h0M547 686h0M1320 652h0M1414 865h0M600 856h0M402 853h0M977 881h0M1476 860h0M1085 882h0M496 688h0M745 881h0M345 699h0M1620 776h0M769 665h0M860 875h0M873 662h0M1314 653h0M907 648h0M345 866h0M1200 874h0M307 855h0M827 655h0M1410 647h0M381 672h0M638 661h0M840 653h0M390 692h0M1578 708h0M1427 877h0M1068 653h0M660 655h0M1267 659h0"/><path stroke="#ffc400" d="M358 794h0M364 790h0M340 764h0M379 760h0"/><path stroke="#ffd500" d="M372 758h0M309 767h0M348 749h0M448 782h0"/><path stroke="#0073ff" d="M924 621h0M488 915h0M1174 595h0M1470 905h0M1014 624h0M758 905h0M1494 622h0M506 889h0M1358 608h0M1372 605h0M1660 737h0M613 928h0M751 920h0M1210 616h0M1560 841h0M1044 901h0M1093 890h0M925 638h0M1035 618h0M546 897h0M1393 613h0M1130 928h0M998 896h0M420 889h0M1076 899h0M1520 863h0M1274 905h0M1274 615h0M1320 939h0M1198 923h0M425 915h0M1169 929h0M1648 818h0M798 602h0M1464 624h0M1456 913h0M1628 816h0M1587 848h0M666 643h0M1121 904h0M1394 621h0M684 627h0M300 661h0M580 637h0M1316 601h0M1645 744h0M632 908h0M694 903h0M1068 924h0M1596 838h0M654 898h0M1088 902h0M676 645h0M693 916h0M1000 896h0M1222 599h0M334 875h0M1182 914h0M721 620h0M427 902h0M451 658h0M896 645h0M389 919h0M635 648h0M1481 893h0M811 911h0M534 895h0M1038 916h0M326 912h0M870 622h0M981 917h0M1374 615h0M1357 924h0M441 899h0M1615 709h0M1539 658h0M904 911h0M837 900h0M876 615h0M307 879h0M633 641h0M703 629h0M1153 606h0M1422 899h0M941 937h0M1084 638h0M1365 902h0M360 677h0M1106 916h0M1165 905h0M764 881h0M380 658h0M1446 914h0M379 918h0M1424 924h0M311 656h0M773 622h0M1288 620h0M1115 604h0M941 914h0M378 904h0M485 662h0M1595 715h0M1050 888h0M1616 816h0M1259 920h0M1168 625h0M724 893h0M1494 644h0M1609 702h0M888 610h0M666 896h0M734 622h0M1560 684h0M307 898h0M744 636h0M886 632h0M1142 906h0"/><path stroke="#e9ff16" d="M994 753h0M1176 763h0M521 759h0M1106 764h0M386 736h0M962 749h0M544 787h0M386 791h0M923 750h0M309 787h0M384 796h0M432 744h0M856 753h0M546 770h0M764 796h0M544 757h0M468 773h0M766 784h0M928 770h0M494 776h0M499 759h0M573 759h0M1073 760h0M496 785h0M404 789h0M622 753h0"/><path stroke="#fff500" d="M416 764h0M538 756h0M317 763h0M349 739h0M323 787h0M481 787h0M974 772h0M345 796h0M411 765h0M422 777h0M587 769h0M474 769h0M330 787h0M355 742h0M362 739h0M345 789h0M538 765h0M329 756h0"/><path stroke="#ff9400" d="M394 767h0M364 774h0"/><path stroke="#0000c0" d="M1021 511h0M1350 1120h0M1407 974h0M412 1050h0M408 997h0M851 983h0M975 553h0M1074 1052h0M435 1022h0M435 1067h0M562 1030h0M1188 1034h0M479 1020h0M353 980h0M1148 1048h0M461 1017h0M883 1041h0M956 977h0M1383 1056h0M1052 1003h0M853 1077h0M473 584h0M944 969h0M1420 1031h0M1105 523h0M578 1035h0M964 540h0M801 518h0M610 985h0M441 544h0M1490 928h0M1589 880h0M1331 1087h0M407 988h0M1548 922h0M1621 659h0M1081 526h0M348 559h0M1430 1054h0M1201 980h0M693 987h0M1522 1051h0M312 1035h0M1195 1104h0M794 469h0M715 985h0M1635 680h0M1233 548h0M556 976h0M1458 987h0M776 974h0M381 957h0M1006 1009h0M1186 545h0M578 974h0M414 986h0M860 1009h0M418 1096h0M402 996h0M1339 986h0"/><path stroke="#16ffe9" d="M1204 680h0M673 847h0M453 844h0M729 854h0M1533 720h0M1092 845h0M1425 700h0M1166 679h0M1070 670h0M1522 719h0M832 696h0M356 837h0M541 709h0M1194 678h0M560 839h0M531 841h0M834 686h0M757 699h0M1230 848h0M411 842h0M1608 759h0M756 685h0M1454 829h0M1133 850h0M681 687h0M446 707h0M931 846h0M1228 689h0M481 708h0M566 706h0M1547 719h0M792 858h0M673 691h0M1076 685h0M1576 720h0M1177 846h0M499 843h0M1534 759h0M1009 845h0M1115 852h0M1046 686h0M686 684h0M761 687h0M1130 681h0M410 707h0M1272 679h0M1506 718h0M598 694h0M458 706h0M613 840h0M1548 823h0M334 707h0M1554 745h0M1361 678h0M878 848h0M1518 808h0M765 849h0M1440 837h0M449 707h0M1557 765h0M987 666h0M702 847h0M1417 687h0M829 851h0M786 682h0M1500 795h0"/><path stroke="#d9ff26" d="M1086 751h0M579 799h0M594 791h0M338 747h0M965 761h0M976 750h0M853 785h0M445 802h0M675 745h0M643 769h0M1137 762h0M308 796h0M1037 811h0M320 750h0M880 781h0M993 747h0M462 802h0M769 780h0M561 747h0M429 753h0M780 773h0M534 767h0M317 742h0M486 763h0M988 744h0M381 806h0M382 798h0M499 774h0M442 748h0M457 748h0M888 766h0M1048 772h0M932 781h0M956 805h0M1168 774h0M970 785h0M588 785h0M369 806h0M961 771h0M640 766h0M771 755h0M505 791h0M916 788h0M480 751h0M934 759h0M569 746h0M893 774h0"/><path stroke="#0094ff" d="M1632 728h0M1485 656h0M875 641h0M1392 899h0M840 644h0M450 666h0M546 674h0M1056 914h0M730 890h0M1332 624h0M970 649h0M1194 896h0M785 896h0M940 619h0M1059 899h0M908 637h0M626 667h0M453 875h0M1061 904h0M807 897h0M1314 899h0M1262 886h0M998 883h0M1163 643h0M703 914h0M698 642h0M1413 636h0M720 643h0M986 633h0M1336 901h0M460 879h0M882 910h0M486 658h0M1486 871h0M1101 645h0M1264 631h0M816 909h0M1501 872h0M779 902h0M834 625h0M942 894h0M1086 885h0M477 904h0M1034 892h0M1089 644h0M748 887h0M690 631h0M964 637h0M600 668h0M1602 711h0M1018 623h0M650 647h0M1243 904h0M1157 622h0M915 621h0M1396 633h0M646 881h0M1540 682h0M1256 897h0M626 886h0M944 650h0M896 600h0M1376 885h0M1312 611h0M1516 862h0M835 897h0M1250 623h0M963 630h0M1297 621h0M1628 718h0M1472 883h0M302 677h0M713 915h0M1130 878h0M1249 632h0M1417 652h0M542 889h0M1116 638h0M1084 894h0M1030 661h0M355 879h0M683 870h0M718 647h0M994 647h0M1227 636h0M1540 846h0M753 608h0M1269 895h0M718 631h0"/><path stroke="#57ffa8" d="M1036 841h0M1498 740h0M1118 844h0M337 823h0M732 694h0M1378 710h0M1348 821h0M617 713h0M562 834h0M877 703h0M1202 817h0M1249 834h0M1187 712h0M1440 794h0M1072 838h0M1441 805h0M882 701h0M1189 829h0M808 833h0M1485 746h0M1356 816h0M534 829h0M1293 830h0M1169 836h0M1060 839h0M642 714h0M923 691h0M1398 706h0M1143 828h0M357 712h0M1016 836h0M1233 705h0M1443 739h0M1475 733h0M1398 785h0M942 707h0M1310 712h0M1504 756h0M898 703h0M1412 752h0M616 835h0M1204 700h0M822 836h0M1069 845h0M1267 824h0M1068 836h0M1330 712h0M1481 785h0M737 706h0M522 721h0M1371 710h0M1165 697h0M1106 837h0M1146 840h0M667 838h0M1429 708h0M411 824h0M1360 830h0M1209 713h0M581 719h0M880 694h0M1475 796h0M1196 806h0M1261 833h0M531 718h0M808 708h0M1334 813h0M592 836h0M1164 825h0M829 692h0M1256 712h0M781 825h0M1186 693h0M1417 831h0M1435 745h0"/><path stroke="#0033ff" d="M432 931h0M1398 578h0M437 924h0M1518 890h0M741 938h0M434 920h0M842 939h0M380 640h0M669 614h0M1148 589h0M1288 964h0M1186 582h0M889 591h0M534 927h0M860 948h0M656 603h0M1412 962h0M1169 942h0M1526 895h0M863 945h0M1373 960h0M305 624h0M961 577h0M502 634h0M1417 566h0M1456 595h0M1051 574h0M1086 956h0M1206 949h0M1225 956h0M1049 590h0M1573 868h0M1252 968h0M829 584h0M761 934h0M1068 556h0M1374 963h0M331 919h0M1165 583h0M1309 596h0M1448 930h0M753 943h0M803 591h0M302 640h0M1281 946h0M1011 926h0M952 954h0M712 598h0M1549 887h0M1474 927h0M953 940h0M1273 953h0M917 575h0M1150 584h0M499 923h0M879 932h0M1554 872h0M1374 945h0M1475 914h0M1437 932h0M1256 573h0M1389 571h0M1369 578h0M1203 591h0M681 594h0M1106 954h0M372 915h0M533 628h0M1224 959h0M1188 955h0M950 950h0M300 626h0M882 594h0M1152 582h0M452 640h0M1366 565h0M481 923h0M1570 670h0M337 655h0M851 589h0M938 576h0M860 585h0M710 581h0M1595 678h0M699 935h0M1502 609h0M890 942h0M902 589h0M890 965h0M1374 953h0M1409 579h0M614 605h0M1425 954h0M646 923h0M1099 570h0M1339 963h0M470 934h0M1149 954h0M408 939h0M1315 575h0M776 586h0M722 589h0M1523 902h0M480 927h0M746 594h0"/><path stroke="#f9ff06" d="M298 771h0M459 782h0M1062 768h0M437 790h0M444 799h0M664 769h0M544 778h0M462 787h0M528 769h0M539 783h0M442 767h0M650 782h0M922 791h0M528 757h0M1040 777h0M356 806h0M1058 787h0M474 777h0M918 775h0M987 777h0"/><path stroke="#ffb400" d="M369 764h0M320 767h0M381 766h0"/><path stroke="#000080" d="M1650 867h0M548 1031h0M1422 532h0M357 608h0M1261 1049h0M1015 1005h0M1351 1015h0M1189 492h0M681 1034h0M451 573h0M914 551h0M1105 523h0M1154 1009h0M548 526h0M455 1028h0M1091 999h0M540 998h0M470 986h0M1291 494h0M1516 1051h0M390 581h0M1314 1028h0M935 986h0M1054 546h0M316 1051h0M1501 572h0M1523 1017h0M1555 589h0M1044 1042h0M1507 583h0M926 982h0M492 597h0M642 982h0M565 992h0M1030 981h0M1101 1088h0M744 986h0M952 983h0M1062 1006h0M707 1106h0M614 1004h0M1616 973h0M751 1126h0M773 1077h0M373 1040h0M1508 929h0M1381 1013h0M867 537h0M777 1064h0M696 1028h0M1137 507h0M1368 1004h0M941 1069h0M1144 1003h0M987 1010h0M1090 543h0M693 1000h0M1568 913h0M628 478h0M475 563h0M664 1039h0M1353 439h0M1100 1018h0M1095 526h0M938 1131h0M816 1056h0M1273 485h0M969 1001h0M1573 927h0M1318 528h0M867 519h0M1281 490h0M1203 1053h0M1616 937h0M1069 984h0M1227 1134h0M1404 536h0M811 511h0M1658 856h0M378 507h0M656 1106h0M832 549h0M476 1073h0M1583 650h0M675 995h0M727 1075h0M628 1015h0M1524 929h0M1076 533h0M594 1035h0M318 978h0M1128 1021h0M561 571h0M1177 1151h0M504 546h0M339 607h0M419 1026h0M326 975h0M1617 911h0M1508 979h0M525 1064h0M1398 1058h0M1573 614h0M1179 1072h0M1601 943h0M1353 1048h0M528 500h0M1384 1012h0M955 445h0M1321 479h0M628 1073h0M1333 1077h0M313 525h0M1193 499h0M890 503h0M395 1026h0M1334 994h0M612 562h0M584 582h0M875 527h0M1385 1029h0M1210 500h0M1126 1015h0M964 550h0M841 532h0M1333 418h0M731 545h0M532 1075h0M672 1045h0M302 1051h0M1074 1029h0M1012 1010h0M331 599h0M955 532h0M1500 944h0M1513 927h0M1213 990h0M1514 1001h0M1553 581h0M658 1079h0M494 585h0M1320 1045h0M795 489h0M1665 850h0M1389 1010h0M746 555h0M781 547h0M782 536h0M1309 435h0M1365 1007h0M1172 1024h0M924 492h0M745 1008h0M792 1092h0M1168 988h0M803 1062h0M528 964h0M986 1016h0M656 981h0M1468 976h0M606 1004h0M1651 705h0M1592 648h0M888 982h0M1635 686h0M1441 469h0M994 1028h0M980 457h0M1100 1023h0M330 560h0M1312 1077h0M718 1086h0M1317 487h0M747 544h0M816 1005h0M577 1010h0M376 527h0M1230 993h0M314 1015h0M1185 267h0M886 552h0M905 1063h0M475 575h0M536 1001h0M1353 1005h0M1348 995h0M1260 989h0M1145 1135h0M704 541h0M1294 1073h0M414 978h0M1649 698h0M853 1033h0M1180 450h0M1570 594h0M1432 540h0M665 559h0M609 484h0M1188 986h0M1013 997h0M469 564h0M1457 543h0M716 1002h0M1198 1036h0M681 1058h0M1029 1059h0M1313 537h0M885 531h0M974 548h0M1555 630h0M1023 998h0M1450 1016h0M1228 1051h0M1161 545h0M954 1021h0M832 1044h0M1592 879h0"/><path stroke="#0000d0" d="M963 556h0M928 559h0M598 593h0M1072 551h0M1313 548h0M994 978h0M388 958h0M1477 568h0M373 951h0M914 563h0M626 583h0M1410 548h0M1075 981h0M501 607h0M300 620h0M901 556h0M720 976h0M502 953h0M756 972h0M1237 550h0M750 561h0"/></g><g fill="none" stroke-width="20" stroke-linecap="round"><path stroke="#0000e1" d="M285 1064h0M287 1022h0M284 1037h0M286 1058h0M285 1079h0M285 551h0M285 1088h0M286 556h0"/><path stroke="#0094ff" d="M285 623h0M284 630h0M286 967h0M285 970h0M286 611h0M285 631h0M286 977h0M284 976h0"/><path stroke="#0073ff" d="M284 998h0M286 597h0M287 986h0"/><path stroke="#47ffb8" d="M285 691h0M286 668h0M284 886h0M285 676h0M285 888h0"/><path stroke="#b00000" d="M287 754h0M287 746h0M285 776h0M287 757h0"/><path stroke="#00f5ff" d="M285 642h0M286 618h0M285 637h0M287 916h0M286 955h0M286 907h0"/><path stroke="#f9ff06" d="M285 707h0M286 846h0M284 706h0M285 707h0"/><path stroke="#00c4ff" d="M287 924h0M284 956h0M285 932h0M285 638h0M287 631h0M284 635h0"/><path stroke="#06fff9" d="M286 911h0M285 645h0M285 917h0M286 658h0M287 652h0M286 899h0M284 650h0"/><path stroke="#900000" d="M284 788h0M287 770h0M286 780h0M285 741h0M287 786h0M287 775h0"/><path stroke="#37ffc8" d="M284 662h0M286 669h0M286 660h0M286 684h0M284 674h0"/><path stroke="#0043ff" d="M285 1028h0M284 991h0M286 592h0M287 587h0M286 1004h0"/><path stroke="#0022ff" d="M286 1045h0M286 1011h0M287 1056h0M287 578h0M285 579h0M286 1025h0M287 1016h0"/><path stroke="#c8ff37" d="M285 701h0M286 856h0"/><path stroke="#ff1200" d="M287 800h0M286 803h0M286 739h0"/><path stroke="#00b4ff" d="M284 946h0M286 941h0M285 971h0M287 942h0M285 1004h0"/><path stroke="#000090" d="M285 1110h0M285 530h0M286 532h0M285 533h0"/><path stroke="#ffa400" d="M287 824h0M285 821h0"/><path stroke="#800000" d="M285 770h0M285 776h0M286 761h0M285 752h0M285 767h0"/><path stroke="#88ff77" d="M286 883h0M286 693h0M287 844h0M284 692h0M286 875h0"/><path stroke="#ff3300" d="M286 731h0"/><path stroke="#0002ff" d="M286 566h0M286 568h0M287 585h0M285 562h0M286 1037h0M286 1066h0M287 1057h0"/><path stroke="#e9ff16" d="M285 849h0M286 850h0"/><path stroke="#0000c0" d="M286 538h0M284 1098h0M285 1072h0M286 1052h0M286 1112h0M285 1101h0M287 1103h0"/><path stroke="#a00000" d="M286 735h0M286 766h0"/><path stroke="#0012ff" d="M285 1049h0M286 572h0M287 573h0"/><path stroke="#b8ff47" d="M284 862h0"/><path stroke="#0033ff" d="M286 1044h0M286 1013h0M285 584h0"/><path stroke="#0000d0" d="M286 555h0M287 1109h0M285 1067h0M284 1088h0M286 1033h0M285 1071h0"/><path stroke="#ffe500" d="M287 832h0M286 838h0"/><path stroke="#ff6300" d="M287 725h0"/><path stroke="#57ffa8" d="M285 874h0M287 677h0M285 897h0M285 879h0M285 690h0M287 871h0"/><path stroke="#ff7300" d="M287 821h0M284 720h0M285 815h0"/><path stroke="#0000f1" d="M285 1035h0M287 557h0M286 567h0M284 548h0M287 565h0M285 1056h0M284 1086h0M286 1020h0M284 1026h0"/><path stroke="#ff9400" d="M285 720h0M285 810h0M284 723h0"/><path stroke="#ffc400" d="M285 833h0M285 816h0M287 829h0"/><path stroke="#d9ff26" d="M285 701h0M285 701h0"/><path stroke="#00a4ff" d="M284 926h0M284 617h0M285 936h0M286 601h0M286 606h0M285 949h0M287 623h0M286 972h0"/><path stroke="#0084ff" d="M284 1000h0M284 592h0M287 959h0M285 985h0M285 597h0M284 958h0M286 965h0"/><path stroke="#ff2200" d="M286 730h0M285 801h0"/><path stroke="#98ff67" d="M284 864h0M286 685h0M285 863h0"/><path stroke="#00e5ff" d="M284 915h0M285 945h0M286 892h0M286 929h0"/><path stroke="#c00000" d="M286 793h0M285 787h0"/><path stroke="#16ffe9" d="M286 894h0M285 649h0M287 903h0M286 661h0M285 920h0M286 880h0"/><path stroke="#ff4300" d="M285 729h0"/><path stroke="#0000b0" d="M286 1082h0M286 1078h0M286 538h0M285 1112h0M284 542h0M286 1102h0"/><path stroke="#a8ff57" d="M285 852h0M285 859h0"/><path stroke="#fff500" d="M287 841h0"/><path stroke="#ffb400" d="M287 829h0M286 824h0M286 713h0"/><path stroke="#ff5300" d="M285 809h0"/><path stroke="#ff0200" d="M284 797h0M284 797h0"/><path stroke="#26ffd9" d="M286 656h0"/><path stroke="#77ff88" d="M285 871h0"/><path stroke="#00d4ff" d="M286 619h0M285 908h0M286 966h0M286 942h0M287 925h0"/><path stroke="#d00000" d="M286 754h0"/><path stroke="#e10000" d="M286 745h0M286 744h0M285 790h0"/><path stroke="#67ff98" d="M286 677h0M284 887h0"/><path stroke="#0063ff" d="M284 994h0M285 991h0M285 598h0M287 986h0M286 609h0"/><path stroke="#ffd500" d="M287 715h0"/><path stroke="#0053ff" d="M285 1021h0M285 1006h0M284 608h0"/><path stroke="#000080" d="M285 518h0M285 1096h0M285 1151h0M285 1140h0M286 1184h0M286 1107h0M286 481h0M286 1074h0M285 496h0M286 1260h0M286 540h0M285 1173h0M286 453h0"/><path stroke="#0000a0" d="M285 543h0M285 532h0M284 1073h0M285 1095h0M286 1096h0"/></g>
<text x="254.10000000000002" y="142.5" font-size="71" text-anchor="end" fill="#262626" >0.3</text>
<text x="254.10000000000002" y="360.7" font-size="71" text-anchor="end" fill="#262626" >0.2</text>
<text x="254.10000000000002" y="578.8" font-size="71" text-anchor="end" fill="#262626" >0.1</text>
<text x="254.10000000000002" y="797.0" font-size="71" text-anchor="end" fill="#262626" >0</text>
<text x="254.10000000000002" y="1015.2" font-size="71" text-anchor="end" fill="#262626" >-0.1</text>
<text x="254.10000000000002" y="1233.3" font-size="71" text-anchor="end" fill="#262626" >-0.2</text>
<text x="254.10000000000002" y="1451.5" font-size="71" text-anchor="end" fill="#262626" >-0.3</text>
<text x="285.6" y="1516.5" font-size="71" text-anchor="middle" fill="#262626" >0</text>
<text x="492.5" y="1516.5" font-size="71" text-anchor="middle" fill="#262626" >0.1</text>
<text x="699.3" y="1516.5" font-size="71" text-anchor="middle" fill="#262626" >0.2</text>
<text x="906.1" y="1516.5" font-size="71" text-anchor="middle" fill="#262626" >0.3</text>
<text x="1113.0" y="1516.5" font-size="71" text-anchor="middle" fill="#262626" >0.4</text>
<text x="1319.8" y="1516.5" font-size="71" text-anchor="middle" fill="#262626" >0.5</text>
<text x="1526.7" y="1516.5" font-size="71" text-anchor="middle" fill="#262626" >0.6</text>
<text transform="translate(1009.8 1611.0) scale(1 1.03)" font-size="79" text-anchor="middle" fill="#262626">VOD</text>
<text x="1007.8" y="87.5" font-size="80" text-anchor="middle" fill="#000" stroke="#000" stroke-width="1.6">Proposed Model</text>
<text x="300.6" y="107.0" font-size="95" text-anchor="start" fill="#000" stroke="#000" stroke-width="1.6">(a)</text>
<text transform="translate(106.5 1301.6) rotate(-90) scale(1.03 1)" font-size="78" fill="#262626">Error of SM Retrieval (cm<tspan dy="-41" font-size="63">3</tspan><tspan dy="41">/cm</tspan><tspan dy="-41" font-size="63">3</tspan><tspan dy="41">)</tspan></text>
<rect x="1823.6" y="113.3" width="80.0" height="1305.6000000000001" fill="url(#jet)" stroke="#262626" stroke-width="2.2"/>
<text x="1926.5" y="1442.4" font-size="67" text-anchor="start" fill="#262626" >0</text>
<text x="1926.5" y="1193.0" font-size="67" text-anchor="start" fill="#262626" >2</text>
<text x="1926.5" y="943.6" font-size="67" text-anchor="start" fill="#262626" >4</text>
<text x="1926.5" y="694.2" font-size="67" text-anchor="start" fill="#262626" >6</text>
<text x="1926.5" y="444.8" font-size="67" text-anchor="start" fill="#262626" >8</text>
<text x="1926.5" y="195.4" font-size="67" text-anchor="start" fill="#262626" >10</text>
<path d="M1903.6 1169.5h-13.5M1903.6 920.1h-13.5M1903.6 670.7h-13.5M1903.6 421.3h-13.5M1903.6 171.9h-13.5" stroke="#262626" stroke-width="2.2"/>
<text transform="translate(2071 766.1) rotate(-90)" font-size="65" text-anchor="middle" fill="#262626">log(Sample Number)</text>
<path d="M283.5 1730.0V3041.0H1729.5" fill="none" stroke="#262626" stroke-width="2.6"/>
<path d="M283.5 1730.0h13.5M283.5 1948.5h13.5M283.5 2167.0h13.5M283.5 2385.5h13.5M283.5 2604.0h13.5M283.5 2822.5h13.5M283.5 3041.0h13.5M490.5 3041.0v-13.5M697.5 3041.0v-13.5M904.5 3041.0v-13.5M1111.5 3041.0v-13.5M1318.5 3041.0v-13.5M1525.5 3041.0v-13.5" stroke="#262626" stroke-width="2.6"/>
<g fill="none" stroke-width="20" stroke-linecap="round"><path stroke="#0063ff" d="M782 2581h0M1177 2162h0M1269 2205h0M343 2174h0M1566 2515h0M722 2586h0M1254 2583h0M696 2555h0M345 2192h0M796 2196h0M840 2563h0M915 2555h0M1511 2278h0M998 2232h0M463 2217h0M1388 2168h0M1057 2179h0M1068 2185h0M1019 2218h0M720 2211h0M584 2214h0M884 2189h0M674 2576h0M554 2590h0M712 2186h0M1026 2191h0M495 2210h0M970 2176h0M1398 2561h0M1272 2619h0M532 2547h0M630 2222h0M632 2592h0M1086 2597h0M1331 2573h0M300 2198h0M1371 2190h0M1004 2574h0M1184 2184h0M908 2556h0M987 2562h0M1193 2148h0M306 2563h0M1172 2595h0M304 2586h0M764 2187h0M1086 2574h0M1633 2421h0M1198 2603h0M1315 2609h0M1091 2550h0M1012 2185h0M678 2596h0M1047 2552h0M663 2195h0M848 2180h0M410 2195h0M1158 2159h0M433 2545h0M1174 2563h0M961 2199h0M1007 2190h0M1624 2456h0M1121 2185h0M1652 2379h0M687 2212h0M1403 2190h0M1144 2200h0M769 2197h0M1094 2582h0M1363 2605h0M1225 2193h0M1483 2249h0M918 2592h0M1320 2096h0M702 2214h0M1186 2159h0M1234 2586h0M1104 2580h0M1476 2575h0M921 2567h0M1570 2524h0M1279 2128h0M339 2227h0M1374 2200h0M1282 2585h0M1299 2607h0M680 2575h0M729 2196h0M426 2564h0M1011 2559h0M377 2542h0M1319 2558h0M555 2583h0M873 2575h0M889 2203h0M1599 2326h0M932 2558h0M481 2226h0M910 2571h0M780 2209h0M945 2176h0M1470 2238h0M682 2540h0M1336 2606h0M395 2554h0M1054 2545h0M1558 2292h0M636 2585h0M930 2578h0M538 2566h0M881 2578h0M1596 2320h0M1379 2591h0M952 2575h0M977 2561h0M1499 2583h0M748 2573h0M1091 2195h0M1182 2578h0M1535 2545h0M830 2572h0M1185 2164h0M476 2224h0M375 2547h0M664 2541h0M1195 2191h0M1298 2167h0M1251 2562h0M782 2557h0M1276 2572h0M1417 2587h0M1506 2581h0M1103 2565h0M1545 2535h0M1223 2175h0M362 2191h0M1303 2157h0M1036 2200h0M423 2200h0M1395 2582h0M1505 2555h0M548 2219h0M638 2217h0M566 2575h0M907 2196h0M753 2215h0M1480 2576h0M1145 2592h0M457 2184h0M1043 2212h0M569 2547h0M432 2204h0M714 2565h0M819 2550h0M315 2206h0M497 2232h0M814 2564h0M1049 2218h0M1162 2586h0M1114 2189h0M716 2574h0M1367 2162h0M458 2206h0M1225 2574h0M545 2563h0M528 2576h0M552 2536h0M1356 2122h0M403 2581h0M352 2185h0M1433 2599h0M1283 2158h0M474 2562h0M667 2579h0M410 2553h0M854 2204h0M1004 2181h0M380 2175h0M1447 2601h0M1586 2497h0M1627 2469h0M798 2192h0M1507 2247h0M1319 2185h0M1609 2481h0M1105 2160h0M746 2187h0M1214 2159h0M1233 2172h0M1468 2596h0M438 2205h0M744 2194h0M928 2199h0M1012 2204h0M1081 2215h0M595 2578h0M479 2195h0M383 2572h0M1426 2565h0M1270 2179h0M454 2545h0M983 2526h0M1499 2255h0M1521 2552h0M1417 2164h0M1006 2590h0M878 2553h0M1020 2199h0M902 2227h0M835 2195h0M817 2219h0"/><path stroke="#47ffb8" d="M371 2293h0M608 2303h0M891 2469h0M1452 2423h0M1103 2310h0M976 2458h0M1340 2468h0M687 2471h0M303 2326h0M1492 2386h0M1244 2441h0M852 2463h0M1316 2284h0M1467 2383h0M1130 2466h0M1282 2462h0M300 2472h0M1404 2366h0M766 2455h0M1041 2467h0M539 2321h0M711 2466h0M866 2319h0M1431 2316h0M986 2309h0M1420 2453h0M523 2306h0M428 2468h0M359 2300h0M1363 2307h0M1300 2279h0M872 2460h0M810 2451h0M1023 2465h0M883 2465h0M1380 2350h0M936 2318h0M679 2470h0M681 2310h0M1355 2416h0M1239 2290h0M1243 2285h0M906 2463h0M1279 2458h0M1050 2476h0M1298 2482h0M1298 2434h0M1470 2455h0M1455 2337h0M910 2301h0M1335 2473h0M476 2478h0M1467 2405h0M1406 2436h0M531 2306h0M1404 2342h0M1473 2335h0M1335 2287h0M1324 2461h0M1103 2317h0M378 2295h0M571 2314h0M873 2470h0M1418 2434h0M1183 2463h0M1358 2408h0M898 2461h0M1265 2307h0M1394 2333h0M1455 2432h0M697 2296h0M1062 2475h0M547 2319h0M619 2312h0M1135 2331h0M1233 2460h0M1279 2295h0M851 2472h0M1313 2290h0M982 2455h0M724 2301h0M1312 2454h0M945 2305h0M1298 2460h0M1145 2310h0M375 2304h0M391 2472h0M1100 2304h0M1102 2298h0M1014 2473h0M1201 2460h0M406 2312h0M1351 2290h0M732 2302h0M900 2466h0M900 2307h0M1324 2333h0M1356 2312h0M1191 2479h0M1379 2339h0M1231 2293h0M393 2463h0M770 2311h0M880 2458h0M1355 2421h0M362 2471h0M1282 2319h0"/><path stroke="#0094ff" d="M1585 2504h0M1369 2207h0M1192 2538h0M1220 2556h0M1446 2264h0M979 2242h0M882 2228h0M904 2522h0M652 2523h0M563 2230h0M1354 2575h0M1313 2189h0M530 2220h0M655 2245h0M1225 2530h0M1604 2351h0M871 2219h0M964 2245h0M1307 2205h0M1380 2552h0M1311 2201h0M1638 2424h0M774 2233h0M708 2546h0M585 2254h0M840 2200h0M1203 2201h0M1224 2214h0M816 2241h0M1190 2534h0M1336 2210h0M756 2235h0M724 2242h0M608 2248h0M1479 2264h0M791 2247h0M1625 2446h0M601 2241h0M846 2532h0M452 2240h0M506 2539h0M894 2238h0M640 2523h0M903 2520h0M665 2235h0M1617 2440h0M1644 2408h0M431 2229h0M1568 2309h0M514 2205h0M1379 2542h0M595 2240h0M570 2264h0M1242 2554h0M1072 2526h0M1459 2247h0M1623 2367h0M561 2237h0M738 2248h0M1223 2202h0M1315 2578h0M856 2544h0M1039 2521h0M1201 2549h0M1478 2283h0M440 2517h0M393 2535h0M611 2535h0M683 2530h0M732 2216h0M963 2239h0M1446 2531h0M379 2246h0M1472 2263h0M532 2536h0M675 2253h0M735 2530h0M1106 2195h0M1636 2368h0M680 2551h0M374 2515h0M976 2528h0M633 2231h0M695 2527h0M1547 2311h0M1352 2558h0M842 2519h0M1010 2233h0M854 2531h0M338 2560h0M935 2238h0M1071 2543h0M1167 2556h0M1089 2541h0M840 2240h0M344 2256h0M1411 2571h0M948 2548h0M944 2208h0M1183 2553h0M539 2234h0M934 2544h0M1359 2193h0M1433 2212h0M1387 2190h0M519 2264h0M822 2244h0M826 2531h0M1488 2528h0M1242 2203h0M1366 2551h0M833 2548h0M297 2234h0M415 2225h0M1206 2550h0M1592 2345h0M563 2537h0M1059 2230h0M1625 2429h0M352 2544h0M1642 2421h0"/><path stroke="#0000e1" d="M596 2142h0M330 2126h0M1246 2063h0M312 2634h0M1604 2304h0M1046 2652h0M1124 2101h0M1366 2072h0M1436 2672h0M351 2631h0M822 2618h0M1335 2674h0M1269 2682h0M1218 2666h0M318 2126h0M607 2148h0M454 2615h0M1380 2672h0M1066 2111h0M1308 2058h0M1150 2101h0M539 2144h0M1666 2434h0M1368 2077h0M1123 2112h0M353 2131h0M1630 2485h0M1206 2666h0M1195 2652h0M1151 2657h0M337 2138h0M1546 2599h0M1294 2666h0M1296 2071h0M1560 2558h0M1426 2683h0M782 2638h0M1444 2148h0M1310 2673h0M1210 2073h0M1386 2084h0M636 2141h0M1316 2053h0M1511 2212h0M361 2633h0M1146 2105h0M1480 2646h0M691 2631h0M1303 2656h0M768 2151h0M601 2158h0M923 2628h0M1521 2631h0M1351 2655h0M566 2139h0M509 2138h0M632 2137h0M442 2635h0M1111 2646h0M641 2633h0M864 2122h0M1004 2650h0M611 2623h0M479 2140h0M1179 2649h0M505 2143h0M791 2137h0"/><path stroke="#0022ff" d="M719 2162h0M306 2606h0M732 2184h0M1401 2646h0M1139 2131h0M1510 2598h0M315 2609h0M1016 2152h0M945 2613h0M1395 2617h0M497 2160h0M606 2167h0M414 2135h0M592 2589h0M1160 2642h0M1258 2103h0M1430 2185h0M1153 2115h0M1440 2643h0M1009 2619h0M1293 2630h0M650 2603h0M550 2166h0M651 2168h0M1402 2158h0M1329 2632h0M1391 2629h0M719 2153h0M1483 2617h0M1395 2122h0M1308 2615h0M944 2157h0M1550 2590h0M1248 2126h0M368 2604h0M1304 2636h0M474 2618h0M1226 2618h0M790 2607h0M1078 2150h0M762 2166h0M776 2165h0M1099 2136h0M312 2610h0M745 2173h0M1038 2602h0M855 2161h0M1166 2139h0M739 2593h0M977 2156h0M1012 2576h0M1215 2118h0M1382 2650h0M1014 2146h0M1297 2079h0M1351 2632h0M492 2159h0M1202 2631h0M1227 2648h0M1457 2169h0M1145 2126h0M479 2178h0M1099 2638h0M772 2609h0M1426 2181h0M623 2156h0M663 2612h0M996 2616h0M1441 2621h0M307 2155h0M807 2149h0M580 2155h0M1050 2146h0M820 2145h0M1663 2367h0M680 2170h0M1402 2142h0M1073 2156h0M1178 2110h0M1449 2628h0M769 2143h0M774 2151h0M1538 2589h0M1559 2275h0M1216 2107h0M527 2600h0M897 2611h0M501 2607h0M1392 2116h0M1322 2136h0M838 2176h0M1285 2086h0M464 2178h0M712 2610h0M1347 2644h0M874 2608h0M1154 2624h0M730 2149h0M1334 2637h0M1666 2417h0M1091 2142h0M630 2606h0M784 2606h0M1457 2213h0M1417 2151h0M1443 2638h0M520 2619h0M344 2589h0M450 2160h0M1165 2130h0M685 2151h0M1122 2634h0"/><path stroke="#67ff98" d="M1180 2443h0M313 2449h0M1185 2293h0M921 2332h0M1257 2461h0M1316 2429h0M1311 2326h0M761 2316h0M327 2306h0M483 2315h0M1111 2316h0M1359 2369h0M1335 2350h0M991 2455h0M484 2307h0M1268 2313h0M1290 2410h0M840 2311h0M1024 2442h0M431 2321h0M1078 2304h0M1060 2321h0M724 2460h0M1193 2331h0M1264 2356h0M1039 2455h0M856 2319h0M1260 2300h0M1422 2366h0M1230 2434h0M1242 2323h0M472 2455h0M1291 2382h0M728 2341h0M1343 2414h0M1075 2444h0M1087 2311h0M420 2314h0M459 2454h0M1235 2327h0M1049 2471h0M1131 2316h0M590 2458h0M947 2451h0M1054 2341h0M1320 2429h0M788 2315h0M672 2438h0M1378 2355h0M586 2456h0M1215 2365h0M816 2315h0M984 2317h0M1379 2444h0M679 2339h0M1452 2405h0M1035 2458h0M707 2330h0M1406 2353h0M683 2316h0M1361 2342h0M1354 2340h0M1066 2313h0M823 2460h0M835 2454h0M1409 2385h0M1377 2387h0M850 2440h0M1256 2359h0M852 2312h0M954 2342h0M1329 2417h0M1241 2387h0M1409 2394h0M408 2304h0M770 2433h0M681 2450h0M618 2448h0M749 2347h0M1365 2370h0M748 2429h0M1143 2320h0M1049 2442h0M964 2457h0M1287 2422h0M990 2448h0M1323 2437h0M1098 2435h0M1344 2408h0M1158 2439h0M1311 2347h0M744 2445h0M1080 2426h0M762 2341h0M1106 2336h0M1209 2348h0M1368 2383h0M851 2457h0M593 2329h0M1366 2357h0M649 2461h0M1344 2384h0"/><path stroke="#000080" d="M1546 2237h0M693 2127h0M1476 2675h0M638 2694h0M359 2641h0M1424 2077h0M1358 2718h0M944 2748h0M1080 2821h0M631 2682h0M1058 2085h0M435 2021h0M451 2742h0M1583 2238h0M738 2098h0M1421 2093h0M1351 2763h0M351 2748h0M1513 2130h0M1032 2661h0M1130 2877h0M561 2711h0M1451 2767h0M729 2699h0M535 2711h0M515 2071h0M1193 2044h0M866 2102h0M851 2716h0M1366 2697h0M1226 2048h0M438 2817h0M430 2106h0M1520 2637h0M1432 2696h0M1123 2078h0M738 2727h0M1162 2738h0M377 1920h0M734 2650h0M1187 2710h0M479 2654h0M1504 2678h0M1550 2164h0M689 2704h0M1006 2095h0M1464 2699h0M1158 2677h0M1030 2090h0M826 2757h0M503 2711h0M807 2652h0M649 2660h0M505 2088h0M856 2807h0M647 2718h0M606 2126h0M368 2080h0M1428 2690h0M1115 2810h0M1394 2031h0M506 2073h0M387 2738h0M536 2092h0M1506 2184h0M1067 2756h0M931 2070h0M784 2096h0M1558 2657h0M439 2692h0M1001 2104h0M1193 2692h0M1349 2052h0M1106 2670h0M626 2729h0M1538 2222h0M381 2702h0M1156 2072h0M736 2093h0M1366 2750h0M1660 2473h0M1048 2046h0M1079 2064h0M1105 2054h0M683 1892h0M1356 2746h0M1568 2193h0M1196 2775h0M700 2117h0M1548 2230h0M1563 2639h0M508 2667h0M1594 2587h0M887 2671h0M1097 2058h0M342 2740h0M1386 2062h0M945 2649h0M460 2125h0M1273 2033h0M591 2686h0M1179 2796h0M940 2688h0M1215 1986h0M444 2125h0M298 2114h0M1186 2762h0M1288 2699h0M400 2091h0M1601 2581h0M1499 2166h0M962 2682h0M585 2649h0M1399 2061h0M989 2072h0M572 2689h0M922 2681h0M1452 2806h0M1448 2725h0M1578 2186h0M1580 2700h0M1610 2260h0M1302 1978h0M1299 2688h0M1512 2204h0M618 2786h0M1278 2028h0M833 1978h0M1195 2763h0M1612 2534h0M1502 2157h0M1175 2044h0M508 2129h0M1003 2111h0M1609 2216h0M1667 2340h0M1355 2036h0M1331 2731h0M1488 2729h0M1519 2104h0M892 2713h0M570 2759h0M698 2658h0M996 2745h0M1192 2723h0M1609 2224h0M1444 2114h0M627 2737h0M670 2669h0M563 2103h0M615 2036h0M1002 2667h0M654 2760h0M610 2127h0M827 2657h0M898 2112h0M1276 2007h0M1306 2041h0M857 2816h0M835 2684h0M1002 2078h0M1607 2301h0M1419 2741h0M1648 2486h0M513 2663h0M1292 2035h0M854 2063h0M678 1995h0M1537 2709h0M1219 2709h0M1401 2753h0M689 2075h0M828 2681h0M1267 1975h0M1330 2042h0M1184 1885h0M1398 2009h0M482 2028h0M588 2130h0M438 2655h0M1637 2579h0M1658 2561h0M1471 2141h0M1158 1987h0M1129 2716h0M807 2115h0M696 2704h0M858 2672h0M526 2063h0M988 2114h0M1327 2712h0M299 2105h0M1425 2699h0M1179 2679h0M801 2787h0M974 2020h0M508 2119h0M735 2761h0M995 2112h0M793 2673h0M1342 2797h0M1191 2014h0M1099 2082h0M364 2099h0M1395 2739h0M1602 2269h0M745 2701h0M1155 2697h0M443 2661h0M636 2648h0M1557 2685h0M1634 2589h0M946 1813h0M1591 2261h0M319 2070h0M428 2074h0M655 2693h0M681 2728h0M655 2097h0M1535 2637h0M428 2753h0M574 2106h0M1283 1997h0M452 2122h0M675 2049h0M1164 2720h0M1427 2700h0M1121 2691h0M753 2658h0M1398 2830h0M1633 2328h0M1668 2453h0M1465 2671h0M1220 2047h0M425 2112h0M1568 2592h0M1526 2748h0M1120 2703h0M992 2691h0M1546 2640h0M659 2680h0M577 2696h0M825 2728h0M956 2687h0M456 2841h0M464 2689h0M675 2663h0M859 2023h0M1225 2687h0M686 2658h0M1146 2001h0M1567 2224h0M1259 1998h0M1175 2676h0M825 2085h0M1430 2118h0M907 2102h0M1575 2616h0M1480 2094h0M633 2662h0M1044 2657h0M1135 2743h0M1522 2638h0M923 2743h0M819 2765h0M905 2654h0M534 2838h0M1246 2743h0M870 2656h0M1143 2712h0M1166 2069h0M1497 2688h0M617 2097h0M1174 2078h0M1490 2751h0M781 2660h0M440 2671h0M825 2650h0M1248 2774h0M351 2116h0M330 2785h0M1246 2043h0M1324 2025h0M1234 2700h0M1099 2758h0M768 2102h0M395 2724h0M1502 2176h0M704 2128h0M1376 2892h0M353 2655h0M1462 2710h0M1065 2676h0M1366 2724h0M1676 2534h0M540 2660h0M867 2679h0M449 2766h0M626 1981h0M657 2799h0M1057 2784h0M723 2022h0M1171 2746h0M1046 2664h0M341 2683h0M931 1951h0M1492 2785h0M407 2654h0M1336 1987h0M911 2051h0M553 2710h0M502 2098h0M351 2730h0"/><path stroke="#ffb400" d="M409 2391h0M383 2377h0M387 2389h0"/><path stroke="#00a4ff" d="M1384 2543h0M978 2520h0M1490 2275h0M1494 2264h0M873 2514h0M1026 2231h0M1067 2232h0M466 2252h0M1142 2531h0M423 2261h0M1072 2536h0M1174 2536h0M1342 2523h0M1558 2491h0M1503 2279h0M1011 2238h0M843 2234h0M1403 2550h0M334 2515h0M775 2520h0M1568 2324h0M618 2521h0M1601 2345h0M364 2530h0M1014 2248h0M1593 2462h0M1032 2246h0M1134 2242h0M860 2248h0M1551 2312h0M740 2522h0M771 2245h0M1308 2547h0M1624 2407h0M902 2246h0M1048 2532h0M1582 2331h0M616 2502h0M1055 2529h0M1588 2440h0M385 2518h0M435 2244h0M1537 2507h0M682 2508h0M808 2244h0M1419 2255h0M1265 2181h0M753 2228h0M426 2521h0M601 2533h0M1303 2211h0M1026 2530h0M1339 2510h0M1052 2236h0M313 2530h0M631 2518h0M576 2232h0M1143 2527h0M1155 2237h0M730 2234h0M1445 2251h0M315 2244h0M683 2526h0M1567 2481h0M954 2244h0M332 2515h0M1359 2236h0M1170 2223h0M526 2526h0M1159 2552h0M1099 2529h0M1440 2518h0M1152 2532h0M1335 2215h0M1084 2545h0M1283 2184h0M550 2524h0M712 2251h0M1432 2545h0M604 2253h0M1559 2494h0M890 2521h0M427 2244h0M631 2248h0M866 2505h0M1631 2400h0M1526 2504h0M1106 2240h0M1459 2552h0M1513 2291h0M1306 2187h0M1046 2510h0M499 2515h0M1097 2241h0M1057 2536h0M1371 2183h0M1547 2509h0M1573 2328h0"/><path stroke="#06fff9" d="M1487 2322h0M1516 2460h0M1560 2348h0M1518 2431h0M1418 2305h0M1394 2287h0M983 2496h0M1095 2284h0M1449 2296h0M623 2288h0M1144 2276h0M486 2477h0M1524 2437h0M360 2479h0M1503 2356h0M401 2277h0M1275 2495h0M593 2489h0M1493 2493h0M1466 2509h0M783 2297h0M1254 2257h0M1134 2494h0M1171 2283h0M1417 2285h0M1081 2489h0M810 2291h0M756 2276h0M1528 2379h0M1304 2494h0M1230 2495h0M948 2274h0M959 2279h0M844 2493h0M1330 2501h0M818 2478h0M1545 2459h0M1507 2496h0M1435 2280h0M1578 2387h0M1277 2249h0M1193 2278h0M604 2298h0M1513 2352h0M1197 2499h0M934 2287h0M1432 2444h0M1551 2339h0M504 2491h0M686 2267h0M812 2496h0M1506 2337h0M1328 2489h0M1555 2325h0M1256 2486h0M793 2491h0M634 2290h0M631 2294h0M1119 2506h0M427 2282h0M670 2495h0M1476 2308h0M762 2282h0M812 2498h0M447 2291h0M1222 2496h0M1411 2281h0M864 2495h0M1567 2393h0M1315 2505h0M1567 2378h0M350 2281h0M730 2475h0M600 2288h0M1495 2441h0M1369 2518h0M1412 2510h0M600 2481h0M976 2269h0M1570 2409h0M1249 2268h0M1482 2466h0M1539 2377h0M435 2291h0M676 2477h0M1433 2311h0M1424 2269h0M590 2285h0M320 2280h0M1498 2303h0M355 2273h0M1546 2361h0M1362 2261h0M872 2481h0M1303 2271h0M991 2273h0M1520 2342h0M1534 2386h0M1550 2432h0M468 2498h0M826 2282h0M1494 2317h0M1387 2488h0"/><path stroke="#b8ff47" d="M505 2427h0M687 2442h0M303 2350h0M548 2416h0M1049 2385h0M971 2383h0M535 2342h0M612 2377h0M454 2343h0M843 2389h0M675 2415h0M555 2428h0M348 2336h0M353 2446h0M498 2429h0M1207 2361h0M1000 2421h0M574 2361h0M571 2356h0M765 2362h0M913 2403h0M847 2394h0M814 2378h0M480 2425h0M644 2361h0M719 2377h0M834 2354h0M633 2414h0M670 2384h0M683 2396h0M650 2389h0M807 2392h0M494 2343h0M473 2410h0M902 2336h0M1007 2384h0M962 2408h0M567 2427h0M615 2410h0M968 2369h0M622 2352h0M887 2368h0M586 2409h0M676 2367h0M857 2376h0M821 2353h0M780 2365h0M449 2356h0M450 2351h0M937 2383h0M764 2363h0M875 2424h0M351 2426h0M402 2442h0M810 2344h0M977 2376h0M1200 2357h0M928 2377h0M916 2383h0M607 2398h0M952 2378h0M747 2341h0M812 2398h0M553 2418h0M633 2367h0"/><path stroke="#00e5ff" d="M1000 2514h0M580 2497h0M698 2280h0M367 2484h0M544 2281h0M1187 2254h0M1307 2248h0M1208 2510h0M883 2268h0M1159 2506h0M546 2260h0M411 2488h0M887 2503h0M446 2501h0M672 2276h0M576 2505h0M434 2498h0M682 2274h0M466 2281h0M599 2498h0M1561 2351h0M1219 2518h0M752 2479h0M325 2270h0M732 2485h0M985 2272h0M736 2271h0M922 2499h0M682 2271h0M1040 2273h0M694 2488h0M1358 2518h0M379 2268h0M1489 2292h0M491 2495h0M639 2276h0M494 2277h0M297 2253h0M682 2490h0M651 2271h0M1136 2512h0M1127 2273h0M1292 2528h0M872 2257h0M1058 2281h0M571 2498h0M912 2501h0M1531 2460h0M886 2262h0M1388 2247h0M771 2279h0M1577 2361h0M1094 2515h0M1436 2472h0M966 2493h0M841 2265h0M804 2288h0M504 2277h0M1264 2247h0M962 2504h0M1006 2272h0M1272 2248h0M535 2500h0M1392 2270h0M313 2490h0M503 2269h0M666 2490h0M788 2502h0M1523 2497h0M623 2274h0M488 2260h0M1149 2274h0M1026 2273h0M1584 2436h0M405 2504h0M731 2275h0M1319 2503h0M883 2494h0M952 2274h0M1023 2265h0M718 2282h0M780 2271h0M508 2500h0M1238 2257h0M871 2497h0M1167 2511h0M1114 2505h0M1343 2228h0M1455 2271h0M505 2287h0M1289 2508h0M1237 2517h0M595 2280h0M1317 2232h0M1466 2288h0M391 2265h0M972 2264h0M715 2284h0M776 2507h0M1163 2251h0M716 2269h0M1014 2267h0M1017 2508h0M1222 2238h0M482 2280h0M838 2261h0M1230 2527h0M887 2488h0M1513 2320h0M1416 2507h0"/><path stroke="#d9ff26" d="M602 2391h0M608 2409h0M412 2425h0M502 2417h0M491 2348h0M324 2348h0M577 2379h0M427 2408h0M452 2376h0M515 2344h0M656 2363h0M437 2407h0M434 2412h0M495 2373h0M518 2403h0M571 2377h0M293 2356h0M602 2386h0M307 2414h0M348 2338h0M395 2341h0M975 2380h0M486 2426h0M359 2423h0M505 2361h0M1226 2385h0M506 2409h0M620 2383h0M432 2349h0M473 2368h0M376 2339h0M505 2378h0M611 2394h0M534 2412h0"/><path stroke="#f9ff06" d="M499 2380h0M472 2386h0M605 2385h0M462 2400h0M530 2402h0M347 2427h0M347 2415h0M340 2346h0M410 2415h0M431 2358h0M592 2385h0M460 2398h0M539 2367h0M403 2399h0M397 2413h0M616 2388h0M458 2375h0M383 2344h0M488 2386h0M323 2378h0M294 2403h0M489 2397h0M504 2388h0"/><path stroke="#ffa400" d="M394 2376h0M367 2372h0M403 2374h0M375 2389h0"/><path stroke="#0000a0" d="M712 2634h0"/><path stroke="#ff8400" d="M339 2382h0"/><path stroke="#00c4ff" d="M594 2504h0M1585 2358h0M1510 2517h0M808 2510h0M1235 2546h0M819 2265h0M1094 2262h0M1318 2533h0M1559 2323h0M596 2255h0M1081 2519h0M361 2255h0M1231 2247h0M1336 2517h0M1574 2432h0M1151 2521h0M1070 2265h0M971 2513h0M1263 2549h0M1229 2214h0M1561 2468h0M563 2262h0M866 2514h0M524 2507h0M1399 2525h0M1137 2519h0M1401 2539h0M1497 2512h0M1390 2243h0M1326 2233h0M603 2545h0M1441 2274h0M939 2515h0M329 2503h0M912 2515h0M515 2525h0M404 2510h0M992 2505h0M296 2501h0M460 2519h0M478 2257h0M335 2267h0M1591 2386h0M527 2514h0M1454 2262h0M968 2258h0M1216 2507h0M1583 2394h0M474 2504h0M662 2257h0M743 2267h0M369 2246h0M420 2499h0M745 2501h0M1114 2511h0M1434 2534h0M1346 2538h0M619 2276h0M874 2503h0M934 2505h0M1585 2428h0M1166 2246h0M947 2509h0M1310 2526h0M374 2504h0M1377 2234h0M1252 2521h0M315 2256h0M305 2260h0M618 2494h0M511 2252h0M931 2494h0M438 2269h0M393 2519h0M1058 2521h0M1116 2238h0M534 2272h0M1614 2392h0M947 2265h0M788 2511h0M1312 2543h0M969 2245h0M1320 2223h0M1078 2246h0M1088 2261h0M560 2256h0M1196 2515h0M1026 2512h0M1399 2241h0M586 2507h0M1426 2538h0M1203 2236h0M726 2261h0M1054 2243h0M1178 2215h0M1370 2523h0M1177 2510h0M712 2516h0"/><path stroke="#c8ff37" d="M1008 2369h0M804 2350h0M463 2350h0M482 2432h0M649 2384h0M575 2397h0M596 2396h0M519 2359h0M657 2395h0M344 2325h0M470 2358h0M518 2352h0M1167 2375h0M1072 2379h0M591 2376h0M427 2417h0M592 2357h0M335 2422h0M1010 2392h0M646 2375h0M934 2411h0M361 2436h0M1095 2373h0M452 2439h0M937 2393h0M662 2387h0M532 2368h0M945 2368h0M557 2351h0M875 2382h0M306 2422h0M500 2421h0M973 2393h0M590 2391h0M304 2342h0M436 2403h0M934 2364h0M798 2360h0"/><path stroke="#ffd500" d="M350 2398h0M328 2385h0"/><path stroke="#37ffc8" d="M1465 2337h0M1040 2312h0M1431 2476h0M600 2466h0M1426 2370h0M907 2308h0M1322 2485h0M1395 2445h0M616 2474h0M1484 2369h0M1353 2296h0M1348 2330h0M1441 2436h0M1463 2377h0M1210 2294h0M1434 2358h0M1448 2428h0M1249 2466h0M1218 2483h0M1022 2305h0M1362 2326h0M1450 2361h0M1420 2349h0M1326 2303h0M1372 2319h0M1058 2461h0M1089 2296h0M728 2462h0M1447 2348h0M715 2478h0M1042 2477h0M884 2309h0M520 2466h0M682 2301h0M1491 2460h0M1431 2405h0M1407 2470h0M1424 2421h0M1474 2424h0M1463 2484h0M1471 2342h0M1435 2379h0M1334 2274h0M343 2471h0M340 2307h0M628 2306h0M848 2299h0M1255 2429h0M1480 2402h0M1438 2460h0M1105 2460h0M1356 2477h0M1306 2467h0M481 2300h0M1492 2356h0M934 2461h0M438 2465h0M1241 2469h0M1043 2290h0M478 2473h0M1368 2325h0M1140 2491h0M727 2467h0M1103 2290h0M718 2319h0M1537 2362h0M544 2460h0M328 2292h0M924 2301h0M648 2300h0M524 2471h0M1402 2293h0M968 2489h0M1402 2389h0M1418 2459h0M1403 2382h0M552 2467h0M1470 2447h0M1467 2343h0M1028 2295h0M1359 2442h0M952 2304h0M433 2468h0M1135 2457h0M1225 2273h0M968 2479h0M688 2303h0M1230 2276h0M323 2307h0M1460 2373h0M1388 2328h0M1310 2460h0M1396 2454h0M1288 2467h0M1318 2302h0M1375 2288h0M918 2465h0"/><path stroke="#0000f1" d="M815 2107h0M786 2135h0M536 2131h0M1118 2656h0M654 2107h0M1412 2123h0M690 2155h0M1281 2070h0M945 2127h0M1608 2526h0M1410 2110h0M1501 2214h0M1578 2287h0M458 2135h0M1231 2086h0M840 2026h0M1241 2025h0M471 2146h0M962 2646h0M1313 2683h0M351 2144h0M1498 2206h0M378 2635h0M939 2728h0M410 2631h0M928 2104h0M1339 2073h0M1658 2346h0M1354 2663h0M1020 2120h0M966 2690h0M527 2742h0M391 2634h0M722 2146h0M1278 2802h0M1098 2632h0M969 2633h0M692 2664h0M406 2627h0M1231 2065h0M1650 2456h0M1680 2402h0M1001 2137h0M1254 2690h0M1466 2746h0M1282 2044h0M1035 2648h0M1126 2113h0M675 2642h0M697 2629h0M718 2133h0M994 2631h0M1124 2128h0M1369 2658h0M1006 2625h0M1342 2078h0M396 2623h0M416 2625h0M623 2138h0M617 2625h0M330 2113h0M1357 2646h0M403 2603h0M558 2632h0M1666 2421h0M1014 2719h0M1365 1961h0M401 2727h0M1310 2688h0M1020 2134h0M537 2625h0M644 2134h0M832 2121h0M851 2627h0M1484 2174h0M450 2655h0M1413 2681h0M931 2076h0M1086 2093h0M895 2114h0M503 2136h0M1081 2114h0M1190 2069h0M1567 2639h0M1134 2072h0M1105 2115h0M1561 2263h0M921 2704h0M1078 2126h0M786 2622h0M1419 2678h0M727 2688h0M1362 2656h0M584 2139h0M386 2132h0M964 2084h0M884 2127h0M593 2171h0M564 2142h0M727 2623h0M1554 2259h0M674 2622h0M944 1950h0M1327 2657h0M1457 2179h0M940 2613h0M1569 2275h0M831 2083h0M923 2123h0M1303 2700h0M695 2150h0M867 2621h0M707 2630h0M757 2122h0M1344 2071h0M399 2137h0M867 2136h0M496 2617h0M1239 2019h0M1055 2826h0M890 2640h0M585 2638h0M488 2683h0M457 2141h0M431 2138h0"/><path stroke="#ffc400" d="M412 2387h0M425 2391h0M326 2388h0M386 2407h0M342 2402h0M368 2366h0M355 2367h0"/><path stroke="#ff9400" d="M387 2386h0M346 2379h0M346 2388h0"/><path stroke="#0073ff" d="M1335 2566h0M967 2570h0M1583 2321h0M935 2202h0M769 2222h0M946 2566h0M352 2199h0M1054 2561h0M454 2229h0M1057 2208h0M1046 2229h0M1418 2566h0M1499 2521h0M1467 2553h0M979 2223h0M1506 2564h0M721 2196h0M990 2211h0M495 2228h0M294 2547h0M1201 2154h0M1645 2397h0M1152 2172h0M876 2195h0M487 2580h0M406 2236h0M312 2550h0M1284 2592h0M1404 2180h0M673 2203h0M1571 2500h0M1399 2594h0M1162 2208h0M881 2222h0M1583 2522h0M839 2595h0M313 2555h0M1368 2194h0M304 2197h0M787 2206h0M1044 2197h0M1405 2558h0M1553 2523h0M806 2546h0M1553 2286h0M1171 2565h0M1306 2609h0M1428 2230h0M1610 2466h0M575 2237h0M1325 2139h0M1292 2627h0M686 2551h0M1081 2551h0M972 2528h0M470 2532h0M894 2566h0M1631 2380h0M386 2555h0M1066 2196h0M327 2579h0M1507 2550h0M428 2227h0M1041 2549h0M1465 2255h0M1236 2556h0M1359 2546h0M526 2225h0M860 2185h0M1121 2168h0M970 2550h0M535 2215h0M1331 2597h0M775 2237h0M316 2563h0M307 2543h0M1372 2177h0M934 2551h0M1302 2554h0M636 2530h0M296 2559h0M1632 2343h0M808 2558h0M1211 2183h0M854 2561h0M876 2566h0M1127 2565h0M738 2201h0M1001 2198h0M601 2229h0M1340 2194h0M367 2209h0M1178 2578h0M822 2229h0M643 2224h0M691 2564h0M1274 2582h0M558 2552h0M380 2533h0M794 2582h0M1580 2311h0M395 2557h0M998 2559h0M409 2564h0M820 2213h0M798 2545h0M851 2538h0M643 2240h0M1536 2282h0M1278 2175h0M300 2191h0M1334 2145h0M1166 2178h0M987 2200h0M1252 2166h0M1415 2220h0M1225 2172h0M313 2544h0M1217 2149h0M1102 2590h0M937 2208h0M1456 2220h0M1584 2514h0M346 2228h0M1440 2231h0M449 2536h0M1297 2569h0M437 2220h0M340 2534h0M347 2525h0M1112 2228h0M1608 2469h0M1038 2581h0M1147 2175h0M822 2220h0M1137 2228h0M1388 2576h0M1187 2152h0M891 2560h0M554 2234h0M304 2228h0M1086 2227h0M1218 2566h0M420 2209h0M325 2542h0M1130 2590h0M512 2206h0M405 2223h0M1362 2166h0M490 2222h0M479 2527h0M866 2219h0M432 2530h0M599 2204h0M1546 2523h0M620 2218h0M1288 2124h0M372 2220h0M748 2538h0M830 2579h0M886 2199h0M1095 2187h0M1476 2585h0M523 2546h0M930 2544h0M625 2533h0M1134 2567h0M1465 2564h0M549 2560h0M1215 2590h0M1233 2600h0M526 2200h0M521 2536h0M1313 2600h0M1258 2564h0M330 2530h0M675 2229h0M815 2557h0M308 2213h0M1527 2539h0M1566 2301h0M656 2556h0M1437 2186h0M1300 2184h0M1104 2540h0M363 2550h0M398 2557h0M992 2203h0M995 2560h0M619 2549h0M1136 2207h0M444 2236h0M1292 2189h0M1209 2591h0M1476 2229h0M1066 2551h0M1435 2555h0M1113 2551h0M687 2532h0"/><path stroke="#0000c0" d="M945 2648h0M352 2636h0M1393 2714h0M432 2630h0M753 2127h0M771 2661h0M1338 2031h0M1412 2714h0M464 2639h0M1094 2719h0M798 2783h0M1057 2037h0M610 2730h0M898 2059h0M1614 2260h0M1344 1929h0M707 2078h0M396 2036h0M1504 2641h0M1027 2122h0M463 2119h0M666 2071h0M630 1999h0M986 2096h0M603 2066h0M1423 2085h0M1129 2074h0M636 2658h0M1556 2719h0M1652 2337h0M921 2661h0M670 2678h0M300 2068h0M759 2686h0M1222 2711h0M1412 2702h0M916 2724h0M669 2683h0M380 2122h0M638 2788h0M1538 2208h0M1299 1971h0M1492 2648h0M1374 1966h0M422 2100h0M583 2013h0M1204 2073h0M1187 2069h0M516 2649h0M1262 2027h0M585 2119h0M498 2660h0M1252 2686h0M905 2066h0M999 2829h0M1552 2667h0M594 2085h0M411 2688h0M835 2118h0M546 2655h0M576 2665h0M1209 2776h0M1500 2662h0M769 2059h0M879 2641h0M337 2709h0M1562 2260h0M1264 2686h0M1512 2658h0M936 2667h0M689 2130h0M387 2799h0M1163 2715h0M731 2022h0M996 2671h0M1586 2567h0M691 2108h0M1526 2645h0M1568 2241h0M1092 2751h0M966 2749h0M1285 2800h0"/><path stroke="#fff500" d="M468 2370h0M360 2411h0M431 2389h0M494 2362h0M368 2357h0M423 2363h0M336 2403h0M398 2413h0M516 2388h0M402 2407h0M433 2376h0M384 2414h0M310 2366h0M418 2372h0"/><path stroke="#57ffa8" d="M1149 2298h0M1295 2324h0M1324 2342h0M807 2316h0M665 2310h0M1371 2350h0M579 2314h0M1307 2323h0M1224 2476h0M778 2441h0M1242 2313h0M799 2462h0M1111 2423h0M914 2295h0M1391 2341h0M750 2290h0M1146 2455h0M1409 2454h0M1375 2404h0M809 2321h0M756 2452h0M1195 2452h0M1074 2312h0M421 2461h0M742 2309h0M1066 2304h0M716 2439h0M1380 2371h0M1350 2347h0M710 2455h0M750 2323h0M1342 2359h0M1422 2377h0M1118 2316h0M1249 2452h0M686 2451h0M863 2462h0M434 2455h0M364 2312h0M1022 2432h0M1388 2362h0M1419 2373h0M930 2448h0M1098 2315h0M1150 2304h0M1198 2295h0M1296 2296h0M467 2466h0M1116 2455h0M792 2331h0M921 2453h0M663 2304h0M1368 2409h0M1299 2364h0M1094 2444h0M1089 2302h0M1360 2356h0M560 2305h0M756 2304h0M931 2307h0M1256 2327h0M972 2456h0M953 2455h0M1233 2457h0M829 2304h0M817 2453h0M1303 2284h0M1159 2334h0M1235 2310h0M1297 2341h0M1059 2313h0M858 2310h0M674 2446h0M1071 2435h0M703 2453h0M972 2441h0M1285 2492h0M1184 2304h0M609 2446h0M800 2447h0M1362 2401h0M1380 2415h0M1332 2427h0M1470 2365h0M1089 2289h0M1014 2313h0M1447 2339h0M575 2305h0M483 2463h0M630 2313h0M1036 2421h0M909 2450h0M1346 2327h0M922 2472h0M1419 2415h0M1270 2304h0M1423 2346h0M1321 2359h0M1219 2478h0M962 2327h0M1379 2307h0M1216 2466h0M1275 2346h0M1440 2394h0M838 2443h0M476 2466h0M843 2309h0M343 2310h0M1335 2320h0M572 2460h0M1244 2430h0M972 2307h0M1170 2312h0M1152 2338h0M934 2456h0"/><path stroke="#0000d0" d="M817 2127h0M904 2114h0M1239 2676h0M550 2643h0M545 2135h0M1332 2054h0M1489 2192h0M732 2633h0M992 2126h0M826 2634h0M1672 2366h0M1656 2440h0M1175 2082h0M988 2125h0M834 2619h0M1348 2671h0M1268 2050h0M500 2644h0M432 2632h0M850 2117h0M983 2639h0M538 2137h0M1503 2632h0M934 2644h0M722 2627h0M592 2641h0M1163 2658h0M380 2128h0M656 2132h0M1138 2104h0M968 2117h0M662 2133h0M1118 2131h0"/><path stroke="#0084ff" d="M634 2212h0M1483 2252h0M1556 2305h0M674 2548h0M1298 2206h0M355 2537h0M631 2241h0M1035 2217h0M519 2233h0M1126 2218h0M1402 2584h0M1067 2541h0M1632 2427h0M809 2234h0M588 2533h0M462 2550h0M1511 2560h0M707 2534h0M1498 2286h0M1327 2558h0M1200 2184h0M998 2538h0M465 2522h0M1391 2186h0M1034 2534h0M1118 2208h0M1183 2190h0M1144 2561h0M1318 2575h0M1239 2580h0M584 2571h0M866 2547h0M1648 2394h0M326 2189h0M1311 2570h0M785 2539h0M883 2560h0M1195 2572h0M316 2237h0M1404 2229h0M1578 2322h0M566 2562h0M1260 2553h0M827 2556h0M745 2562h0M1217 2539h0M1418 2236h0M890 2535h0M348 2219h0M1470 2561h0M880 2213h0M1388 2587h0M1123 2572h0M827 2540h0M754 2568h0M546 2233h0M1343 2157h0M1312 2558h0M1537 2516h0M608 2207h0M1365 2164h0M1249 2580h0M1344 2568h0M600 2215h0M1580 2495h0M735 2219h0M820 2233h0M721 2204h0M1610 2445h0M1055 2236h0M712 2233h0M1384 2219h0M742 2531h0M878 2544h0M662 2532h0M1399 2219h0M578 2190h0M1486 2548h0M1644 2360h0M1499 2239h0M852 2234h0M1090 2202h0M931 2536h0M1325 2207h0M935 2211h0M543 2243h0M857 2242h0M401 2531h0M972 2541h0M1192 2559h0M363 2237h0M546 2545h0M1326 2177h0M1415 2225h0M1178 2198h0M392 2235h0M1604 2400h0M1632 2451h0M1213 2185h0M1390 2215h0M766 2522h0M1278 2568h0M416 2560h0M599 2558h0M874 2546h0M314 2219h0M666 2244h0M1144 2167h0M794 2240h0M856 2533h0M848 2546h0M1394 2229h0M308 2221h0M575 2208h0M613 2244h0M1267 2195h0M956 2538h0M1178 2201h0M1038 2535h0M1617 2444h0M1211 2541h0M324 2213h0M524 2242h0M409 2532h0M1302 2140h0M318 2515h0M577 2537h0M1157 2559h0M763 2536h0M905 2240h0M1486 2576h0M1023 2225h0M1256 2182h0M340 2540h0M760 2206h0M892 2216h0M690 2540h0M1388 2551h0M747 2238h0M826 2579h0M968 2561h0M1081 2184h0M554 2565h0M466 2561h0M846 2563h0M942 2537h0M902 2532h0M1120 2567h0M362 2216h0M1551 2297h0M1642 2353h0M504 2525h0M615 2241h0M576 2550h0M727 2548h0M1206 2189h0M390 2529h0M651 2534h0M367 2555h0M1345 2186h0M1401 2214h0M565 2238h0M431 2235h0M495 2546h0M1640 2378h0M975 2550h0"/><path stroke="#0033ff" d="M883 2161h0M966 2605h0M1529 2261h0M506 2169h0M1484 2596h0M785 2183h0M1012 2151h0M874 2161h0M534 2174h0M929 2160h0M1658 2395h0M625 2175h0M1142 2611h0M1094 2158h0M351 2163h0M1357 2609h0M1202 2129h0M567 2160h0M386 2195h0M1157 2120h0M848 2600h0M879 2616h0M854 2607h0M1463 2636h0M1497 2613h0M1162 2122h0M467 2600h0M497 2603h0M1258 2639h0M330 2618h0M1403 2165h0M1066 2611h0M783 2590h0M1339 2105h0M1369 2641h0M1003 2153h0M892 2601h0M592 2172h0M740 2172h0M359 2172h0M599 2185h0M695 2203h0M1473 2214h0M1329 2115h0M536 2583h0M1675 2374h0M928 2591h0M1128 2641h0M774 2159h0M922 2145h0M924 2168h0M388 2590h0M1252 2631h0M879 2164h0M1115 2630h0M1552 2282h0M778 2569h0M951 2180h0M1153 2621h0M518 2592h0M326 2146h0M594 2607h0M1585 2539h0M1366 2134h0M1228 2099h0M868 2169h0M945 2587h0M355 2599h0M335 2158h0M392 2601h0M1614 2326h0M1222 2152h0M300 2587h0M705 2155h0M711 2170h0M904 2608h0M610 2173h0M848 2593h0M1182 2625h0M1371 2591h0M456 2607h0M356 2170h0M571 2191h0M436 2180h0M371 2155h0M520 2600h0M1579 2543h0M436 2601h0M558 2587h0M632 2190h0M750 2187h0M931 2179h0M572 2599h0M953 2601h0M652 2601h0M1131 2167h0M835 2156h0M1527 2245h0M1559 2578h0M1463 2594h0M798 2596h0M1522 2274h0M1192 2623h0M992 2175h0M1167 2615h0M408 2167h0M790 2187h0M1240 2134h0M1000 2176h0M1256 2575h0M947 2609h0M1500 2600h0M1328 2640h0M380 2164h0M830 2602h0M1264 2631h0M1251 2650h0M1008 2612h0M413 2178h0M1279 2106h0M553 2175h0M1353 2624h0M544 2603h0M1192 2640h0M1158 2144h0M1370 2151h0M702 2608h0M1140 2151h0M503 2628h0M1209 2628h0M302 2147h0M1395 2145h0M1140 2626h0M359 2600h0M1621 2485h0M482 2146h0M984 2613h0M1078 2610h0M938 2607h0M929 2135h0M1030 2622h0M443 2172h0"/><path stroke="#16ffe9" d="M1298 2257h0M1507 2454h0M844 2477h0M1130 2268h0M1495 2329h0M1409 2503h0M1121 2313h0M1380 2262h0M1228 2280h0M350 2479h0M491 2305h0M1471 2497h0M1187 2495h0M1323 2261h0M1200 2271h0M546 2479h0M1491 2424h0M569 2290h0M1279 2270h0M759 2474h0M999 2289h0M1231 2501h0M1230 2264h0M1105 2486h0M321 2292h0M1552 2438h0M1545 2462h0M1334 2482h0M384 2478h0M1008 2487h0M1515 2372h0M745 2463h0M1511 2359h0M1487 2482h0M449 2286h0M649 2281h0M1457 2463h0M307 2464h0M1530 2414h0M954 2474h0M1391 2307h0M1004 2280h0M311 2278h0M1064 2277h0M1089 2499h0M1481 2477h0M1543 2369h0M1473 2481h0M1416 2314h0M416 2480h0M1498 2368h0M1457 2321h0M1528 2321h0M594 2304h0M332 2490h0M454 2284h0M439 2487h0M782 2490h0M400 2294h0M1138 2471h0M1454 2408h0M1502 2437h0M1114 2282h0M958 2494h0M1552 2419h0M1410 2364h0M669 2299h0M1420 2298h0M998 2481h0M1380 2273h0M1306 2483h0M1337 2496h0M951 2487h0M1512 2388h0M1322 2267h0M1459 2313h0M1136 2273h0M1186 2273h0M1088 2487h0M1318 2283h0M1050 2461h0M1123 2279h0M378 2290h0M1172 2277h0M1280 2501h0M1436 2343h0M1008 2304h0M538 2289h0M1204 2255h0M824 2296h0M1524 2455h0M1466 2324h0M1083 2492h0M1286 2488h0M1455 2425h0M652 2493h0M1148 2286h0M556 2294h0M1557 2343h0M1196 2486h0M1344 2463h0M1499 2351h0M1475 2377h0M1374 2440h0M1412 2322h0M446 2307h0M349 2297h0M1422 2482h0M1494 2416h0M1492 2449h0M360 2283h0M419 2283h0M1489 2429h0M962 2481h0M1444 2293h0"/><path stroke="#88ff77" d="M1203 2386h0M866 2327h0M1314 2403h0M1146 2327h0M1129 2454h0M1211 2374h0M1068 2359h0M302 2431h0M655 2432h0M1153 2329h0M700 2326h0M1256 2319h0M698 2399h0M1091 2344h0M1260 2365h0M1178 2357h0M429 2315h0M1186 2329h0M1171 2402h0M772 2389h0M825 2417h0M912 2329h0M1194 2379h0M879 2324h0M996 2441h0M1138 2343h0M1122 2405h0M1147 2424h0M883 2397h0M750 2388h0M770 2335h0M766 2387h0M878 2336h0M704 2347h0M1156 2400h0M891 2415h0M1028 2360h0M527 2443h0M623 2435h0M715 2427h0M643 2330h0M1242 2372h0M726 2329h0M1272 2390h0M1183 2450h0M568 2337h0M1078 2414h0M734 2347h0M844 2336h0M1227 2378h0M1131 2429h0M1094 2356h0M1236 2345h0M398 2447h0M1270 2357h0M1038 2412h0M1097 2393h0M1306 2380h0M304 2448h0M915 2362h0M1046 2412h0M1223 2367h0M1070 2393h0M856 2347h0M1150 2458h0M631 2328h0M1263 2380h0M1201 2329h0M376 2324h0M1159 2373h0M791 2367h0M1032 2435h0M1068 2388h0M921 2348h0M391 2439h0M297 2429h0M873 2360h0M811 2420h0M1015 2450h0M1128 2334h0M946 2424h0M1059 2393h0M1255 2398h0M1054 2431h0M1180 2380h0M1342 2338h0M992 2333h0M1128 2441h0M455 2338h0M1032 2439h0M512 2448h0M490 2454h0M767 2325h0M593 2418h0M1029 2394h0M1244 2382h0M1248 2367h0M550 2446h0M1265 2389h0M1164 2448h0M1020 2401h0M879 2349h0M1155 2314h0M949 2415h0M858 2409h0M402 2330h0M927 2426h0M889 2379h0M1318 2371h0M944 2329h0M662 2374h0M506 2442h0M702 2368h0M1112 2327h0M974 2409h0M385 2446h0M1195 2423h0"/><path stroke="#ffe500" d="M456 2381h0M324 2363h0M426 2385h0M415 2404h0M406 2368h0M339 2397h0M415 2415h0M390 2358h0M296 2389h0"/><path stroke="#0000b0" d="M993 2120h0M1331 2679h0M930 2635h0M1369 2674h0M1356 2673h0"/><path stroke="#0012ff" d="M888 2155h0M1192 2660h0M633 2151h0M1058 2627h0M1337 2080h0M422 2141h0M783 2628h0M1680 2379h0M1069 2643h0M1183 2646h0M763 2619h0M520 2626h0M1047 2167h0M1016 2625h0M978 2139h0M1206 2649h0M1225 2123h0M559 2615h0M603 2620h0M1037 2149h0M1281 2653h0M338 2604h0M528 2155h0M540 2619h0M547 2610h0M794 2149h0M1020 2162h0M1070 2134h0M806 2137h0M1268 2095h0M491 2617h0M1258 2649h0M991 2138h0M755 2614h0M457 2152h0M382 2605h0M635 2164h0M743 2145h0M1241 2099h0M817 2134h0M1570 2565h0M950 2147h0M1503 2228h0M588 2621h0M1065 2144h0M1432 2147h0M1199 2087h0M904 2145h0M895 2148h0M1126 2654h0M673 2616h0M1272 2656h0M867 2606h0M986 2133h0M1241 2650h0M414 2578h0M1256 2073h0M342 2608h0M921 2147h0M1092 2641h0M1380 2124h0M1160 2115h0M1342 2650h0M1226 2076h0M1193 2119h0M1023 2620h0M1120 2615h0M753 2603h0M998 2634h0M1507 2623h0M1112 2144h0M682 2613h0M1590 2302h0M830 2627h0M1247 2640h0M594 2623h0M929 2152h0M524 2154h0M1140 2134h0M543 2154h0M393 2616h0M352 2603h0M370 2601h0M1374 2096h0M1308 2674h0M368 2583h0M1321 2644h0M1212 2102h0M580 2146h0M784 2161h0M425 2601h0M857 2602h0M966 2127h0M1679 2398h0M1128 2122h0M1204 2649h0M931 2611h0M1498 2629h0"/><path stroke="#00f5ff" d="M817 2263h0M1574 2413h0M1242 2521h0M1386 2513h0M609 2501h0M610 2480h0M1124 2258h0M1510 2495h0M425 2501h0M375 2275h0M1498 2335h0M959 2288h0M316 2477h0M449 2270h0M673 2266h0M348 2503h0M1424 2498h0M1546 2353h0M495 2283h0M1567 2424h0M306 2287h0M1199 2252h0M1561 2387h0M1249 2251h0M1387 2260h0M841 2482h0M1555 2447h0M1140 2250h0M1595 2404h0M444 2283h0M1131 2503h0M1483 2312h0M1243 2490h0M1347 2253h0M1327 2267h0M1552 2473h0M937 2488h0M1534 2392h0M851 2481h0M1103 2272h0M931 2273h0M664 2283h0M1572 2445h0M1307 2237h0M572 2485h0M1439 2472h0M937 2276h0M1464 2313h0M788 2494h0M358 2502h0M1241 2507h0M550 2278h0M1254 2504h0M738 2506h0M1170 2499h0M430 2283h0M627 2493h0M1348 2259h0M1151 2505h0M812 2484h0M345 2279h0M1032 2263h0M1467 2293h0M546 2491h0M1566 2355h0M1300 2239h0M1048 2287h0M906 2275h0M592 2511h0M1553 2351h0M803 2490h0M1471 2296h0M528 2509h0M1298 2499h0M584 2291h0M647 2292h0M1497 2479h0M882 2265h0M1331 2253h0M635 2489h0M561 2487h0M615 2285h0"/><path stroke="#0053ff" d="M1340 2609h0M561 2225h0M1177 2168h0M640 2583h0M1031 2567h0M1376 2599h0M1190 2127h0M1415 2623h0M377 2199h0M1101 2611h0M924 2210h0M1280 2170h0M1316 2135h0M1242 2594h0M1367 2598h0M438 2588h0M1507 2253h0M457 2575h0M1287 2618h0M940 2221h0M1025 2181h0M1004 2592h0M940 2556h0M906 2169h0M688 2223h0M639 2569h0M505 2548h0M552 2547h0M606 2202h0M810 2187h0M979 2194h0M459 2193h0M1540 2292h0M1454 2199h0M471 2203h0M1205 2569h0M543 2180h0M379 2584h0M378 2215h0M536 2200h0M1514 2576h0M546 2190h0M976 2591h0M1096 2176h0M704 2192h0M1284 2150h0M1090 2168h0M450 2590h0M996 2171h0M1152 2602h0M792 2591h0M1105 2594h0M1175 2617h0M1151 2157h0M1328 2626h0M1137 2179h0M1122 2149h0M496 2558h0M660 2181h0M1420 2599h0M1202 2624h0M1320 2104h0M761 2573h0M1031 2185h0M1138 2606h0M496 2198h0M958 2560h0M1160 2619h0M1272 2144h0M1282 2132h0M560 2575h0M916 2591h0M1316 2116h0M1426 2218h0M411 2578h0M918 2573h0M1406 2593h0M1075 2566h0M1224 2610h0M1395 2598h0M824 2588h0M841 2197h0M566 2211h0M876 2206h0M1161 2192h0M450 2581h0M723 2575h0M704 2575h0M1146 2189h0M1400 2174h0M796 2574h0M696 2583h0M737 2581h0M1356 2130h0M700 2182h0M504 2592h0M1313 2592h0M357 2575h0M454 2199h0M306 2535h0M473 2589h0M1209 2608h0M731 2574h0M539 2209h0M1016 2592h0M1103 2181h0M808 2590h0M1641 2450h0M1216 2167h0M1062 2599h0M1542 2542h0M906 2167h0M406 2185h0M1107 2184h0M298 2543h0M928 2563h0M1323 2605h0M423 2568h0M935 2568h0M1579 2519h0M1662 2403h0M1250 2586h0M1272 2624h0M1194 2603h0M1186 2612h0M523 2586h0M1596 2311h0M544 2207h0M914 2183h0M802 2210h0M559 2201h0M1170 2587h0M1313 2124h0M995 2604h0M1654 2376h0M828 2184h0M1226 2143h0M306 2174h0M1436 2183h0M1304 2119h0M1246 2567h0M1387 2582h0M768 2184h0M1427 2590h0M867 2580h0M455 2584h0M329 2573h0M1070 2603h0M679 2555h0M1290 2131h0M400 2534h0M577 2198h0M1255 2592h0M1266 2149h0M658 2543h0M780 2575h0M1051 2574h0M1410 2168h0M480 2552h0M1339 2177h0M1127 2154h0M296 2595h0M1607 2325h0M951 2561h0M1362 2614h0M912 2599h0M699 2604h0M800 2580h0M1362 2584h0M527 2586h0M1223 2128h0M880 2176h0M1424 2211h0"/><path stroke="#0002ff" d="M1193 2090h0M388 2628h0M398 2618h0M1217 2071h0M1196 2666h0M1222 2092h0M1230 2631h0M953 2630h0M491 2633h0M360 2153h0M559 2177h0M310 2163h0M1368 2101h0M1239 2644h0M1444 2666h0M1178 2121h0M1079 2134h0M468 2618h0M1667 2359h0M1579 2564h0M1251 2656h0M866 2151h0M297 2624h0M352 2613h0M555 2152h0M988 2119h0M1025 2631h0M705 2136h0M831 2611h0M912 2616h0M854 2134h0M554 2628h0M1148 2638h0M752 2160h0M1052 2624h0M878 2607h0M1524 2604h0M1290 2064h0M586 2634h0M1090 2126h0M1270 2669h0M990 2144h0M1434 2642h0M840 2616h0M1403 2117h0M1539 2248h0M1374 2083h0M1183 2116h0M753 2143h0M1099 2140h0M1412 2681h0M688 2165h0M1046 2115h0M1399 2666h0M1372 2644h0M1329 2087h0M1680 2388h0M988 2633h0M588 2147h0M993 2622h0M1074 2649h0M644 2140h0M547 2148h0M1300 2639h0M1257 2084h0M1251 2073h0M937 2628h0M876 2629h0M644 2150h0M302 2624h0M790 2615h0M1267 2067h0M844 2143h0M1585 2291h0M495 2151h0M758 2623h0M759 2155h0M1497 2215h0M1312 2669h0M1382 2128h0M894 2621h0M1060 2617h0M710 2156h0M568 2141h0M780 2625h0M835 2635h0M736 2612h0M538 2157h0M975 2152h0M1059 2141h0M532 2611h0M626 2608h0M409 2137h0M1258 2679h0M1641 2339h0M919 2132h0M1388 2118h0M323 2140h0M807 2609h0M1279 2677h0M999 2641h0M954 2144h0M826 2172h0M346 2147h0M744 2136h0M1129 2656h0M790 2622h0M936 2135h0M1376 2655h0M970 2642h0M1115 2129h0M834 2140h0M1550 2581h0M1209 2088h0M1236 2652h0M519 2632h0M659 2161h0M1203 2095h0M844 2610h0M680 2627h0M480 2156h0M1176 2089h0M1169 2085h0"/><path stroke="#0043ff" d="M1528 2592h0M979 2175h0M1476 2209h0M582 2192h0M809 2595h0M1497 2233h0M1484 2224h0M525 2592h0M1379 2130h0M1465 2205h0M1100 2618h0M1150 2165h0M382 2583h0M1083 2164h0M1215 2121h0M1351 2164h0M1147 2584h0M664 2208h0M618 2585h0M572 2199h0M555 2224h0M723 2190h0M1468 2620h0M1235 2150h0M490 2570h0M1343 2137h0M846 2583h0M1659 2429h0M808 2584h0M575 2177h0M337 2565h0M1092 2616h0M1624 2486h0M1310 2099h0M1603 2507h0M1650 2400h0M403 2175h0M600 2605h0M687 2597h0M1363 2626h0M1169 2603h0M359 2184h0M1419 2638h0M1387 2620h0M1252 2111h0M342 2182h0M1252 2615h0M611 2591h0M1393 2184h0M659 2176h0M899 2572h0M659 2189h0M435 2192h0M1520 2254h0M898 2591h0M1676 2391h0M946 2180h0M526 2556h0M588 2584h0M1120 2604h0M984 2591h0M618 2558h0M454 2173h0M427 2592h0M426 2160h0M478 2170h0M1616 2492h0M940 2575h0M1371 2584h0M1082 2601h0M723 2547h0M1157 2601h0M1044 2592h0M1251 2102h0M465 2207h0M736 2540h0M1324 2116h0M940 2601h0M1233 2142h0M1532 2580h0M1259 2114h0M988 2579h0M1143 2140h0M1386 2133h0M1091 2158h0M972 2585h0M750 2579h0M1228 2586h0M1248 2623h0M811 2605h0M1121 2623h0M620 2204h0M695 2594h0M1207 2126h0M707 2594h0M304 2169h0M930 2595h0M345 2581h0M1458 2595h0M615 2600h0M1345 2605h0M1226 2643h0M652 2153h0M939 2176h0M707 2587h0M1007 2598h0M1401 2617h0M1437 2183h0M626 2586h0M1163 2624h0M1333 2123h0M1071 2200h0M1608 2491h0M1250 2140h0M511 2593h0M680 2178h0M983 2194h0M1342 2150h0M878 2582h0M1027 2600h0M1565 2293h0M1419 2195h0M577 2577h0M587 2597h0M971 2185h0M1251 2610h0M882 2132h0M988 2177h0M836 2596h0M306 2582h0M1062 2583h0M1673 2404h0M664 2603h0M1267 2114h0M976 2584h0M585 2168h0M1384 2138h0M1199 2612h0M1024 2145h0M1006 2587h0M825 2593h0M1090 2608h0M686 2586h0M713 2594h0M1240 2586h0M572 2588h0M1299 2128h0M1105 2610h0M1588 2313h0M472 2577h0M1084 2175h0"/><path stroke="#a8ff57" d="M977 2346h0M1048 2397h0M647 2427h0M355 2436h0M697 2430h0M352 2326h0M810 2416h0M798 2405h0M480 2350h0M739 2393h0M311 2339h0M1122 2388h0M1188 2378h0M990 2385h0M943 2415h0M646 2408h0M1016 2411h0M862 2425h0M1062 2333h0M785 2366h0M867 2411h0M1159 2362h0M1062 2381h0M839 2408h0M1004 2432h0M528 2420h0M992 2373h0M813 2335h0M334 2438h0M543 2436h0M627 2400h0M899 2336h0M609 2359h0M1107 2380h0M908 2433h0M430 2335h0M802 2392h0M504 2354h0M609 2345h0M391 2330h0M994 2329h0M340 2331h0M401 2425h0M1041 2407h0M857 2340h0M883 2374h0M643 2383h0M590 2343h0M346 2440h0M1046 2372h0M1145 2376h0M1031 2376h0M1258 2353h0M662 2419h0M1254 2384h0M922 2422h0M846 2382h0M703 2394h0M905 2366h0M811 2345h0M1062 2392h0M506 2434h0M1097 2388h0M698 2404h0M591 2448h0M620 2376h0M302 2355h0M696 2359h0M576 2344h0M993 2406h0M955 2391h0M1160 2411h0M977 2369h0M964 2425h0M313 2417h0M1020 2434h0M915 2355h0M1099 2352h0M475 2338h0M883 2392h0M736 2418h0M434 2340h0M778 2337h0M882 2365h0M878 2379h0M943 2405h0M1163 2354h0M703 2405h0M937 2397h0M1088 2399h0M975 2360h0M1258 2404h0M960 2368h0M1142 2366h0M322 2435h0"/><path stroke="#98ff67" d="M1025 2342h0M604 2437h0M328 2335h0M668 2341h0M805 2355h0M548 2329h0M972 2341h0M975 2416h0M1265 2364h0M938 2374h0M627 2424h0M312 2439h0M1180 2431h0M656 2425h0M1220 2353h0M875 2399h0M988 2347h0M796 2374h0M919 2392h0M1088 2423h0M956 2422h0M1157 2423h0M1134 2382h0M428 2436h0M1066 2436h0M582 2357h0M1073 2347h0M961 2388h0M1261 2373h0M488 2334h0M1169 2415h0M689 2388h0M1222 2345h0M1162 2346h0M785 2410h0M386 2324h0M1147 2387h0M608 2430h0M864 2417h0M1092 2376h0M702 2342h0M958 2441h0M508 2336h0M976 2352h0M663 2326h0M1043 2357h0M669 2327h0M952 2383h0M1291 2437h0M859 2325h0M1218 2445h0M922 2400h0M1024 2391h0M860 2417h0M1106 2424h0M587 2317h0M912 2343h0M820 2338h0M766 2406h0M1040 2366h0M1166 2356h0M508 2347h0M1169 2347h0M643 2410h0M884 2344h0M655 2382h0M483 2418h0M849 2356h0M1256 2376h0M737 2408h0M329 2322h0M820 2419h0M873 2334h0M497 2328h0M976 2429h0M651 2345h0M1107 2398h0M1163 2384h0M1164 2430h0M1127 2324h0M480 2443h0M1132 2381h0M950 2362h0M443 2329h0M563 2409h0M930 2351h0M931 2380h0M997 2334h0M961 2412h0M544 2439h0M1012 2342h0M1106 2386h0M1127 2360h0M622 2417h0M1304 2346h0M823 2366h0M642 2449h0M841 2427h0M1258 2413h0M686 2421h0M726 2384h0M708 2439h0M527 2340h0M931 2363h0M930 2414h0M826 2368h0M649 2351h0M1046 2402h0M958 2444h0M948 2344h0M846 2337h0M641 2353h0M826 2425h0M501 2330h0"/><path stroke="#00b4ff" d="M992 2248h0M487 2529h0M910 2527h0M406 2521h0M1350 2209h0M1488 2286h0M463 2504h0M903 2265h0M1372 2223h0M1141 2540h0M1289 2214h0M984 2520h0M534 2522h0M810 2527h0M1593 2432h0M841 2252h0M304 2520h0M977 2502h0M1520 2513h0M1406 2529h0M1611 2391h0M547 2261h0M1348 2549h0M1279 2224h0M1187 2223h0M1192 2222h0M775 2511h0M1590 2352h0M726 2513h0M1415 2580h0M1283 2552h0M797 2512h0M1399 2237h0M920 2520h0M689 2273h0M419 2521h0M768 2525h0M850 2262h0M982 2252h0M615 2526h0M658 2520h0M308 2238h0M330 2507h0M1531 2308h0M756 2242h0M979 2509h0M1243 2211h0M451 2524h0M988 2243h0M1202 2533h0M852 2519h0M1206 2538h0M372 2255h0M1167 2534h0M1508 2510h0M1337 2529h0M1060 2254h0M1239 2537h0M1504 2516h0M1302 2533h0M857 2518h0M1292 2544h0M1438 2532h0M992 2535h0M1119 2540h0M1411 2247h0M958 2271h0M711 2521h0M823 2255h0M1063 2250h0M460 2513h0M326 2243h0M786 2517h0M383 2247h0M1451 2540h0M1344 2207h0M803 2254h0M879 2244h0M679 2262h0M892 2511h0M949 2252h0M1096 2226h0M666 2523h0M575 2525h0"/><path stroke="#e9ff16" d="M530 2383h0M489 2364h0M326 2413h0M322 2416h0M542 2398h0M491 2405h0M359 2343h0M426 2372h0M356 2348h0M496 2386h0M566 2370h0M446 2416h0M538 2398h0M684 2391h0M375 2416h0"/><path stroke="#26ffd9" d="M1283 2285h0M687 2310h0M1499 2428h0M766 2295h0M1489 2363h0M1331 2293h0M473 2301h0M455 2464h0M579 2297h0M1289 2293h0M657 2479h0M1398 2306h0M367 2481h0M954 2293h0M339 2468h0M1159 2479h0M1532 2370h0M702 2472h0M497 2472h0M1247 2288h0M1528 2351h0M1491 2326h0M1463 2397h0M640 2472h0M1311 2261h0M1154 2270h0M1408 2480h0M1307 2461h0M1539 2407h0M1091 2480h0M1427 2295h0M867 2478h0M897 2299h0M1458 2491h0M1444 2424h0M1159 2486h0M1500 2393h0M753 2477h0M1486 2391h0M1398 2484h0M1343 2475h0M1212 2284h0M511 2296h0M1547 2346h0M1022 2482h0M1051 2306h0M722 2474h0M1107 2473h0M1336 2304h0M1041 2483h0M1065 2480h0M774 2478h0M1527 2455h0M298 2282h0M850 2282h0M1416 2497h0M884 2295h0M1176 2497h0M1256 2278h0M834 2478h0M610 2473h0M873 2304h0M1466 2412h0M1480 2360h0M1151 2481h0M369 2472h0M713 2296h0M618 2477h0M680 2294h0M1367 2252h0M1382 2316h0M1050 2295h0M915 2280h0M1320 2254h0M1266 2270h0M1368 2497h0M736 2306h0M316 2469h0M1336 2456h0M351 2485h0M1298 2270h0M1422 2310h0M1428 2439h0M1328 2469h0M593 2467h0M1434 2352h0M380 2471h0M1067 2288h0M1463 2438h0M1410 2315h0M313 2291h0M856 2483h0M540 2478h0M506 2480h0M1272 2260h0M396 2289h0M794 2469h0"/><path stroke="#77ff88" d="M1008 2326h0M1079 2469h0M1284 2413h0M1124 2457h0M1329 2312h0M934 2310h0M433 2315h0M718 2441h0M1146 2381h0M730 2413h0M1080 2320h0M993 2318h0M1039 2420h0M1194 2436h0M800 2317h0M984 2328h0M871 2447h0M1316 2381h0M1160 2369h0M1187 2364h0M666 2396h0M426 2442h0M783 2430h0M993 2423h0M1197 2447h0M1023 2458h0M332 2442h0M419 2449h0M1268 2427h0M1353 2365h0M1099 2423h0M1326 2362h0M1182 2421h0M875 2429h0M1295 2421h0M1164 2401h0M1351 2373h0M920 2339h0M1044 2350h0M560 2456h0M1275 2444h0M1278 2333h0M619 2463h0M748 2333h0M362 2462h0M1169 2431h0M1070 2463h0M1138 2316h0M1078 2326h0M310 2326h0M1074 2350h0M522 2460h0M1296 2350h0M1372 2416h0M810 2312h0M1102 2334h0M736 2464h0M720 2353h0M539 2439h0M1246 2410h0M827 2450h0M1140 2335h0M604 2321h0M956 2449h0M999 2439h0M1283 2347h0M630 2436h0M631 2434h0M967 2359h0M1314 2441h0M1362 2384h0M1089 2470h0M337 2317h0M551 2323h0M916 2335h0M1044 2443h0M1142 2331h0M1305 2373h0M1273 2312h0M1095 2414h0M380 2318h0M830 2444h0M1190 2416h0M1393 2353h0M1171 2451h0M721 2453h0M561 2332h0M1304 2397h0M1169 2317h0M825 2313h0M609 2456h0M857 2436h0M1306 2412h0M1180 2364h0M356 2309h0M1183 2311h0M1156 2285h0M901 2324h0M355 2455h0M934 2432h0M308 2451h0M709 2328h0M1326 2437h0M1186 2454h0M903 2339h0M1300 2397h0M1179 2341h0M831 2369h0M1284 2373h0M689 2317h0M1281 2365h0M1107 2321h0M833 2434h0M1263 2433h0M584 2327h0M818 2446h0M1170 2422h0"/><path stroke="#00d4ff" d="M1534 2488h0M702 2276h0M1257 2530h0M409 2272h0M1564 2428h0M1067 2507h0M902 2500h0M1356 2243h0M563 2506h0M1291 2227h0M560 2274h0M1254 2223h0M855 2492h0M1316 2251h0M1580 2370h0M886 2492h0M640 2262h0M1149 2512h0M1494 2504h0M694 2270h0M295 2276h0M546 2510h0M1574 2348h0M666 2499h0M722 2505h0M752 2492h0M1247 2226h0M603 2279h0M768 2262h0M912 2250h0M1548 2477h0M1065 2527h0M1567 2437h0M618 2268h0M1513 2307h0M1492 2503h0M1008 2494h0M1363 2242h0M1350 2506h0M1482 2500h0M920 2264h0M1527 2509h0M1612 2385h0M1417 2521h0M1148 2255h0M316 2262h0M761 2262h0M849 2506h0M1015 2512h0M1424 2276h0M321 2270h0M1585 2372h0M633 2503h0M1132 2518h0M1272 2523h0M578 2274h0M1600 2374h0M1195 2522h0M361 2487h0M631 2260h0M910 2259h0M1216 2219h0M1022 2261h0M1022 2503h0M1191 2230h0M1162 2521h0M391 2257h0M660 2485h0M1448 2269h0M1264 2240h0M1314 2227h0M1187 2244h0M842 2503h0M1341 2236h0M416 2252h0M1268 2530h0M513 2264h0M1457 2525h0M1610 2371h0M1580 2441h0M1233 2535h0M914 2247h0M1126 2243h0M1354 2214h0M1232 2509h0M1556 2399h0M313 2510h0M597 2504h0M526 2264h0M1266 2507h0"/><path stroke="#00c4ff" d="M633 2274h0M1434 2246h0M1075 2514h0M962 2264h0M1604 2418h0M321 2246h0M525 2261h0M1058 2495h0M496 2509h0M1008 2247h0M999 2501h0M930 2246h0M1038 2264h0M302 2270h0M1280 2216h0M931 2520h0M1415 2541h0M1212 2528h0M657 2491h0M652 2261h0M555 2253h0M1576 2422h0M923 2509h0M943 2254h0M1564 2455h0M984 2512h0M359 2265h0M760 2507h0M1523 2320h0M1143 2516h0M1060 2517h0M1457 2277h0M599 2269h0M673 2259h0M1443 2271h0M726 2268h0M1598 2391h0M986 2244h0M1548 2319h0M699 2260h0M646 2507h0M1387 2524h0M851 2247h0M819 2518h0M1539 2311h0M1213 2218h0M1428 2531h0M1535 2495h0M1303 2215h0M406 2511h0M899 2498h0M422 2509h0M420 2266h0M1080 2242h0M1283 2233h0M1031 2257h0M341 2261h0M489 2515h0M1350 2525h0M474 2515h0M1425 2261h0M442 2504h0M1288 2532h0M1076 2247h0M690 2501h0M1056 2509h0M1212 2242h0M1096 2267h0M484 2515h0M1023 2251h0M1020 2522h0M1516 2303h0M1380 2517h0M1588 2411h0M716 2258h0M1596 2426h0M1399 2254h0M712 2505h0M1174 2514h0M706 2509h0M639 2248h0M896 2266h0M768 2489h0M632 2507h0M1060 2259h0M771 2505h0M683 2254h0M1300 2217h0"/><path stroke="#000080" d="M391 1839h0M456 2664h0M890 2662h0M305 2106h0M654 2752h0M522 2663h0M1225 2760h0M894 2723h0M1436 2698h0M1632 2314h0M1098 2674h0M1078 2940h0M1638 2191h0M624 2760h0M1564 2610h0M1000 2682h0M407 2810h0M1199 2777h0M517 2676h0M894 2037h0M1183 2786h0M514 2745h0M774 2111h0M530 2727h0M924 2108h0M1457 2753h0M539 2680h0M815 2841h0M535 2784h0M1345 2055h0M1638 2301h0M752 2012h0M640 2124h0M648 2655h0M442 2674h0M540 2758h0M1027 2668h0M863 2774h0M1193 2682h0M454 2097h0M1091 2737h0M1558 2698h0M1505 2646h0M1466 2140h0M1048 2686h0M1593 2241h0M1559 2238h0M771 2071h0M432 2062h0M1044 2055h0M352 2670h0M1076 2067h0M1271 2788h0M1164 2718h0M786 2102h0M1225 2704h0M786 2085h0M1276 1976h0M391 2707h0M1052 2765h0M518 2049h0M1148 2739h0M1667 2542h0M749 2087h0M1002 2088h0M862 2710h0M1402 2083h0M1585 2142h0M395 2637h0M1116 2713h0M515 2703h0M708 2107h0M484 2673h0M838 2647h0M1461 2071h0M1400 2700h0M800 2107h0M1196 2036h0M1531 2201h0M486 2842h0M1212 2063h0M666 2651h0M979 2672h0M930 2677h0M1196 2677h0M1161 2063h0M1240 2698h0M1311 2035h0M531 2112h0M944 2744h0M568 2701h0M1009 2083h0M796 2753h0M558 2665h0M867 2653h0M1486 2103h0M1451 2689h0M554 2649h0M672 2114h0M1012 2727h0M1428 2725h0M473 2077h0M1588 2248h0M513 2717h0M1052 2090h0M602 2706h0M623 2863h0M1458 2716h0M928 2647h0M691 2897h0M1232 2916h0M1118 2676h0M892 2649h0M1487 2013h0M988 2680h0M947 2661h0M633 2092h0M826 2031h0M1058 2697h0M587 2088h0M777 2741h0M1471 2690h0M926 2816h0M1400 2714h0M574 2113h0M428 2051h0M1604 2227h0M603 2126h0M615 2679h0M1507 2652h0M660 2718h0M705 2686h0M326 2699h0M611 2081h0M1279 1988h0M423 2643h0M962 2100h0M604 2668h0M366 2777h0M986 2816h0M416 1975h0M1023 2826h0M574 2647h0M810 2736h0M1676 2568h0M770 2755h0M1457 2840h0M447 2096h0M1287 2815h0M915 2788h0M1588 2644h0M800 2728h0M844 2713h0M1307 2781h0M1385 2778h0M1105 2082h0M1504 2687h0M739 2050h0M1124 2071h0M959 2687h0M857 2715h0M1580 2603h0M1474 2868h0M1091 2671h0M662 2026h0M1316 1990h0M772 2684h0M835 2647h0M392 2073h0M1405 1967h0M1096 2751h0M1009 2761h0M1040 2680h0M439 2097h0M1286 2709h0M717 2650h0M1154 2050h0M892 2046h0M1300 1974h0M1149 2802h0M746 2813h0M1117 1927h0M614 2125h0M1262 2713h0M428 2683h0M537 2799h0M349 2662h0M1636 2517h0M1439 2737h0M1382 2827h0M1065 2096h0M1217 2684h0M1066 2043h0M742 2681h0M1193 2026h0M1615 2528h0M1074 2076h0M673 2677h0M521 2690h0M1010 2683h0M944 2702h0M1203 1995h0M1064 2047h0M395 2116h0M606 2722h0M959 2036h0M852 2044h0M610 2113h0M454 2101h0M1580 2204h0M440 2648h0M1367 1969h0M335 2648h0M1264 2814h0M696 2111h0M1039 2689h0M628 2673h0M1555 2631h0M1274 2038h0M1207 2738h0M1271 2039h0M494 2723h0M600 2053h0M1247 2820h0M770 2044h0M322 2787h0M435 2780h0M796 2757h0M576 2077h0M674 2069h0M1644 2638h0M1338 2044h0M785 2025h0M356 2081h0M1268 1999h0M1075 2095h0M1017 2688h0M1301 2019h0M1680 2544h0M337 2699h0M450 2096h0M1123 1997h0M1155 2768h0M1561 2615h0M997 2752h0M822 2805h0M1187 2722h0M1363 2019h0M1207 2757h0M1166 2684h0M633 2121h0M1666 2446h0M1099 2692h0M1104 2091h0M1532 2637h0M459 2680h0M1611 2297h0M964 2670h0M587 2691h0M464 2700h0M976 2666h0M920 2082h0M689 2720h0M710 2051h0M397 2744h0M1188 2791h0M1446 2702h0M1220 2718h0M749 2698h0M1019 2684h0M1415 2107h0M1291 1998h0M1286 2775h0M526 2675h0M312 2089h0M1103 2076h0M1163 1920h0M823 2708h0M977 2824h0M1140 2707h0M737 2667h0M538 2127h0M484 2113h0M919 2062h0M867 2736h0M608 1981h0M1258 2718h0M798 2114h0M1361 2004h0M1248 2725h0M405 1964h0M985 2089h0M617 2105h0M537 2060h0M1132 2686h0M1057 2664h0M1472 2148h0M1131 2696h0M1220 2719h0M773 2836h0M770 2669h0M1276 2700h0M1513 2641h0M1479 2671h0"/><path stroke="#0000e1" d="M784 2128h0M1416 2124h0M326 2131h0M1318 2076h0M675 2639h0M1030 2125h0M1257 2660h0M1411 2674h0M1422 2125h0M1112 2665h0M1220 2078h0M1177 2669h0M1569 2587h0M1161 2088h0M1231 2678h0M1627 2326h0M1391 2665h0M1476 2664h0M663 2629h0M1447 2672h0M1275 2675h0M628 2637h0M1120 2647h0M770 2127h0M778 2144h0M680 2131h0M752 2627h0M747 2129h0M753 2151h0M601 2640h0M655 2635h0M1239 2085h0M1052 2128h0M318 2627h0M776 2629h0M1191 2075h0M562 2164h0M732 2131h0M576 2643h0M1017 2642h0M868 2631h0M946 2136h0M814 2635h0M806 2127h0M1366 2668h0M522 2642h0M891 2115h0M663 2142h0M974 2117h0M1354 2085h0M1113 2120h0M1201 2672h0M1294 2058h0M1166 2651h0M426 2633h0M890 2129h0M1377 2074h0M1300 2682h0M1134 2665h0M1340 2669h0M1416 2118h0M1460 2646h0M617 2136h0M308 2633h0M696 2130h0M899 2640h0M953 2621h0M844 2629h0M1262 2677h0M672 2137h0M906 2637h0M1321 2675h0M1286 2042h0M808 2129h0M1304 2680h0M1264 2058h0M485 2642h0M1094 2661h0M1393 2107h0M1075 2118h0M919 2643h0M463 2142h0M1009 2649h0M505 2647h0"/><path stroke="#e9ff16" d="M443 2409h0M371 2424h0M297 2363h0M572 2386h0M506 2395h0M488 2422h0M327 2419h0M441 2370h0M542 2393h0M633 2398h0M486 2376h0M476 2379h0"/><path stroke="#0000f1" d="M1047 2635h0M1096 2672h0M1568 2279h0M1060 2124h0M544 2632h0M403 2673h0M701 2633h0M768 2637h0M1672 2379h0M930 2696h0M791 2126h0M451 2152h0M1587 2546h0M1326 2073h0M1366 2097h0M751 2134h0M1280 2670h0M667 2654h0M1297 2698h0M1207 2013h0M1105 2122h0M1455 2827h0M1423 2145h0M1510 2220h0M1103 2661h0M943 2120h0M1316 2057h0M299 2144h0M1383 2659h0M526 2680h0M1495 2037h0M991 2656h0M769 2622h0M936 2115h0M1493 2710h0M353 2619h0M310 2145h0M1273 1993h0M425 2628h0M782 2108h0M681 2129h0M666 2149h0M1650 2445h0M1148 2675h0M400 2629h0M455 2626h0M432 2132h0M417 2636h0M1083 2717h0M368 2131h0M426 2742h0M1423 2140h0M924 2042h0M1088 2646h0M820 2628h0M1083 2662h0M756 2632h0M461 2632h0M1321 2071h0M440 2611h0M503 2052h0M1496 2671h0M349 2645h0M1429 2674h0M496 2125h0M392 2024h0M712 2145h0M346 2620h0M1140 2647h0M1191 2085h0M532 2139h0M1680 2442h0M854 2121h0M755 2648h0M693 2612h0M708 2146h0M1364 2076h0M996 1994h0M331 2142h0M488 2674h0M1652 2434h0M744 2615h0M1298 2669h0M815 2699h0M846 2132h0M1646 2467h0M510 2637h0M1359 2666h0M320 2130h0M973 2094h0M1567 2575h0M883 2628h0M1231 2112h0M825 2627h0M632 2623h0M1555 2601h0M498 2634h0M609 2732h0M1259 2657h0M1084 2644h0M1080 2656h0M675 2632h0M938 2621h0M512 2656h0M507 2635h0M619 2609h0M1563 2628h0M974 2646h0M1659 2360h0M409 2132h0M1164 2688h0M1379 2103h0M650 2639h0M513 2668h0M1330 2675h0M1367 2650h0M393 2125h0M1423 2662h0M1588 2554h0M442 2630h0M783 2120h0M964 2751h0M444 2132h0M910 2138h0M623 2152h0M863 2131h0M712 2065h0M1564 2279h0M752 2756h0M1420 2691h0M843 2139h0M559 2153h0M1385 2096h0M1632 2256h0M547 2638h0M658 2625h0M763 2133h0M1158 2103h0M1382 2101h0M1546 2605h0M1229 2751h0M647 2645h0M568 2638h0M919 2654h0"/><path stroke="#00b4ff" d="M348 2513h0M1258 2192h0M583 2522h0M353 2255h0M1505 2296h0M926 2252h0M1360 2217h0M1617 2383h0M1571 2347h0M380 2257h0M521 2260h0M880 2258h0M1404 2529h0M1158 2233h0M1130 2236h0M606 2527h0M408 2263h0M1123 2523h0M1371 2229h0M1617 2368h0M754 2262h0M1609 2424h0M1346 2214h0M1606 2349h0M1635 2370h0M1364 2204h0M515 2243h0M430 2520h0M1360 2538h0M745 2521h0M1276 2226h0M766 2257h0M545 2248h0M969 2520h0M473 2251h0M1254 2537h0M599 2245h0M1483 2527h0M594 2251h0M399 2248h0M718 2529h0M587 2250h0M993 2528h0M1297 2542h0M892 2241h0M624 2262h0M670 2505h0M918 2243h0M855 2515h0M1294 2231h0M1384 2535h0M459 2261h0M1455 2531h0M1611 2406h0M1446 2517h0M1385 2230h0M323 2529h0M1218 2212h0M830 2522h0M1648 2384h0M1272 2528h0M1617 2372h0M1327 2526h0M812 2255h0M1243 2187h0M324 2512h0M503 2517h0M1073 2256h0M393 2509h0M948 2232h0M1096 2512h0M1200 2219h0M939 2251h0M1143 2247h0M504 2245h0M1286 2199h0M832 2250h0M433 2253h0M513 2516h0M1065 2517h0M321 2503h0M753 2255h0M1627 2386h0M1464 2529h0M1614 2345h0M1548 2506h0M458 2257h0M1330 2213h0M1328 2541h0M899 2507h0M1606 2400h0M896 2245h0M1185 2216h0M1038 2243h0M1087 2238h0"/><path stroke="#d9ff26" d="M498 2408h0M514 2408h0M564 2384h0M387 2336h0M324 2345h0M623 2403h0M562 2372h0M515 2405h0M388 2424h0M619 2353h0M548 2422h0M410 2360h0M412 2353h0M344 2352h0M542 2360h0M495 2393h0M516 2352h0M805 2404h0M356 2425h0M492 2370h0M586 2376h0M459 2363h0M564 2361h0M479 2367h0M506 2404h0"/><path stroke="#67ff98" d="M1068 2421h0M1215 2417h0M913 2462h0M1215 2458h0M336 2447h0M949 2463h0M1053 2439h0M1223 2423h0M838 2456h0M1064 2336h0M1394 2382h0M418 2325h0M570 2319h0M1359 2395h0M339 2457h0M452 2445h0M735 2450h0M1290 2395h0M794 2339h0M967 2326h0M1266 2409h0M526 2455h0M1224 2324h0M692 2324h0M614 2458h0M1160 2319h0M1339 2362h0M1268 2417h0M1339 2425h0M1136 2322h0M607 2317h0M1279 2431h0M1308 2402h0M795 2437h0M1118 2433h0M1298 2316h0M1127 2305h0M790 2325h0M1319 2416h0M1303 2336h0M1296 2385h0M1092 2446h0M1310 2331h0M635 2317h0M935 2337h0M1194 2297h0M750 2443h0M1219 2322h0M999 2315h0M1222 2451h0M1002 2451h0M842 2447h0M519 2327h0M1185 2417h0M1078 2336h0M937 2304h0M1321 2424h0M1194 2366h0M1187 2319h0M784 2447h0M1115 2448h0M602 2456h0M778 2432h0M1302 2361h0M1010 2441h0M508 2312h0M644 2453h0M303 2321h0M761 2450h0M1401 2395h0M1305 2434h0M1194 2393h0M1207 2313h0M503 2308h0M348 2318h0M889 2451h0M1299 2362h0M884 2447h0M1219 2385h0M607 2326h0M1169 2399h0M668 2320h0M1271 2326h0M710 2329h0M1008 2463h0M528 2318h0M1116 2437h0M470 2320h0M1279 2311h0M1247 2438h0M1022 2427h0M938 2446h0M1216 2331h0M698 2346h0M576 2466h0M1227 2440h0M380 2457h0M1358 2415h0M1353 2356h0M1223 2308h0M634 2348h0M895 2444h0M756 2313h0M666 2433h0M983 2446h0M1052 2438h0M472 2451h0M780 2424h0M648 2333h0M864 2447h0M1091 2316h0M465 2448h0"/><path stroke="#06fff9" d="M327 2289h0M538 2281h0M426 2488h0M1256 2517h0M1182 2511h0M1330 2452h0M1369 2279h0M315 2499h0M771 2482h0M548 2286h0M1482 2301h0M1384 2292h0M1347 2241h0M456 2478h0M998 2491h0M772 2275h0M1384 2278h0M1054 2483h0M1463 2472h0M473 2287h0M668 2294h0M875 2285h0M336 2279h0M832 2276h0M1504 2443h0M1105 2497h0M1554 2358h0M1528 2372h0M1282 2255h0M1350 2251h0M1303 2264h0M1438 2309h0M1450 2446h0M431 2476h0M1094 2500h0M1208 2244h0M1527 2388h0M1463 2455h0M1561 2379h0M1479 2416h0M1161 2493h0M1432 2498h0M814 2273h0M1436 2294h0M1361 2500h0M550 2484h0M1367 2265h0M1017 2280h0M1550 2381h0M1505 2327h0M520 2290h0M1512 2362h0M474 2281h0M441 2491h0M703 2484h0M401 2286h0M1533 2446h0M788 2472h0M1438 2282h0M963 2485h0M848 2273h0M1478 2440h0M1431 2496h0M915 2482h0M487 2481h0M918 2485h0M1071 2499h0M327 2486h0M1225 2493h0M1476 2508h0M1132 2255h0M730 2289h0M868 2288h0M1455 2395h0M1506 2310h0M1353 2266h0M1201 2268h0M1512 2427h0M974 2497h0M1294 2514h0M1497 2406h0M1077 2269h0M642 2272h0M976 2285h0M587 2494h0M1458 2441h0M335 2285h0M346 2284h0M1448 2489h0M1361 2503h0M401 2483h0M1527 2400h0M1201 2497h0M884 2276h0M1342 2501h0M831 2293h0M1526 2419h0M1394 2278h0M1323 2493h0M1219 2255h0M319 2283h0M943 2277h0M1520 2470h0M1442 2479h0"/><path stroke="#0002ff" d="M379 2140h0M1228 2658h0M1539 2605h0M1190 2109h0M326 2633h0M672 2149h0M688 2618h0M1472 2182h0M1187 2668h0M735 2158h0M1329 2661h0M531 2167h0M442 2146h0M1144 2111h0M1346 2084h0M712 2142h0M876 2130h0M1100 2126h0M689 2616h0M1271 2075h0M1142 2092h0M1289 2068h0M449 2622h0M1352 2082h0M611 2632h0M1510 2630h0M1328 2122h0M914 2631h0M321 2611h0M921 2622h0M1154 2640h0M1235 2079h0M1135 2659h0M912 2123h0M730 2628h0M759 2629h0M1042 2649h0M969 2625h0M775 2137h0M1546 2250h0M661 2634h0M803 2621h0M932 2626h0M1044 2628h0M1566 2572h0M865 2142h0M1271 2099h0M1433 2164h0M847 2634h0M788 2151h0M825 2146h0M328 2616h0M731 2143h0M957 2622h0M1212 2652h0M1473 2192h0M575 2159h0M1049 2628h0M964 2632h0M519 2144h0M942 2626h0M1167 2103h0M1316 2661h0M408 2150h0M1134 2096h0M1450 2172h0M984 2155h0M894 2627h0M890 2135h0M1417 2655h0M1185 2103h0M1222 2666h0M611 2135h0M1465 2184h0M1358 2674h0M420 2143h0M1139 2638h0M1487 2624h0M473 2137h0M1337 2647h0M954 2131h0M962 2640h0M705 2166h0M747 2161h0M419 2153h0M960 2120h0M948 2635h0M505 2155h0M825 2142h0M890 2620h0M1239 2659h0M1626 2493h0M353 2147h0M1433 2129h0M902 2134h0M508 2622h0M398 2610h0M583 2150h0M1536 2614h0M1492 2635h0M563 2135h0M970 2150h0M1183 2096h0M615 2141h0M806 2626h0M568 2622h0M697 2618h0M1263 2072h0"/><path stroke="#0063ff" d="M1368 2603h0M692 2560h0M706 2557h0M1012 2568h0M553 2210h0M383 2563h0M666 2216h0M630 2577h0M959 2209h0M782 2225h0M1096 2555h0M1379 2188h0M1433 2601h0M411 2568h0M1018 2229h0M1025 2210h0M691 2193h0M752 2202h0M655 2203h0M1273 2189h0M1472 2600h0M522 2607h0M1129 2181h0M921 2206h0M847 2567h0M1296 2135h0M830 2203h0M492 2556h0M326 2553h0M892 2164h0M983 2234h0M971 2194h0M1290 2144h0M706 2236h0M1458 2591h0M646 2192h0M927 2215h0M631 2208h0M1226 2602h0M307 2191h0M494 2571h0M1066 2169h0M658 2217h0M1322 2595h0M1041 2182h0M340 2219h0M1577 2505h0M1158 2179h0M958 2191h0M944 2188h0M1446 2564h0M912 2579h0M1502 2260h0M312 2173h0M619 2195h0M1356 2608h0M1509 2264h0M1601 2487h0M1204 2590h0M1073 2206h0M905 2188h0M918 2547h0M1334 2153h0M990 2217h0M996 2583h0M671 2581h0M319 2575h0M1088 2177h0M763 2551h0M1144 2213h0M1168 2167h0M347 2538h0M1635 2438h0M1276 2115h0M805 2567h0M386 2190h0M1276 2607h0M1153 2594h0M881 2535h0M766 2553h0M1434 2574h0M472 2233h0M470 2536h0M544 2228h0M1367 2560h0M1063 2179h0M960 2526h0M813 2591h0M1447 2583h0M1184 2589h0M756 2174h0M1121 2592h0M547 2550h0M623 2193h0M1065 2207h0M1612 2496h0M1577 2512h0M1532 2270h0M1164 2591h0M904 2178h0M1238 2601h0M1265 2135h0M411 2585h0M873 2222h0M1132 2600h0M982 2187h0M609 2541h0M1242 2126h0M1169 2571h0M599 2194h0M369 2533h0M817 2224h0M1260 2144h0M791 2563h0M438 2535h0M593 2196h0M1460 2566h0M438 2219h0M574 2567h0M1241 2617h0M662 2577h0M739 2232h0M1112 2218h0M466 2238h0M498 2579h0M475 2216h0M605 2552h0M903 2581h0M735 2225h0M922 2181h0M1366 2158h0M398 2231h0M1432 2618h0M1413 2602h0M432 2553h0M699 2186h0M671 2222h0M835 2553h0M579 2562h0M443 2576h0M1049 2562h0M1508 2270h0M411 2216h0M1032 2582h0M807 2205h0M314 2587h0M1190 2179h0M1537 2283h0M521 2205h0M1447 2230h0M1391 2586h0M956 2177h0M1002 2586h0M1291 2597h0M1050 2595h0M434 2574h0M943 2224h0M1596 2336h0M1252 2146h0M402 2200h0M1095 2590h0M1367 2562h0M402 2591h0M556 2556h0M604 2576h0M619 2193h0M1042 2203h0M1240 2165h0M791 2556h0M864 2203h0M733 2201h0M1162 2197h0M1150 2179h0M439 2215h0M776 2221h0M768 2574h0M1100 2568h0M1134 2148h0M1440 2565h0M851 2553h0M1159 2568h0M896 2531h0M625 2196h0M745 2205h0M1460 2585h0M755 2194h0M1450 2212h0M546 2578h0M1563 2548h0M1540 2535h0M537 2563h0M463 2567h0M360 2196h0M842 2209h0M1337 2136h0"/><path stroke="#0000d0" d="M802 2142h0M718 2636h0M1388 2670h0M454 2635h0M953 2126h0M578 2136h0M1579 2281h0M424 2133h0M982 2646h0M684 2637h0M1425 2677h0M908 2123h0M742 2639h0M1275 2052h0M1295 2046h0M1340 2063h0M1091 2107h0M337 2137h0M863 2638h0M322 2635h0M1219 2673h0M870 2117h0M1322 2055h0M343 2126h0M939 2638h0M1470 2176h0M1446 2154h0M519 2139h0M1072 2661h0M641 2636h0M1088 2119h0M1402 2105h0M731 2611h0M1076 2659h0M552 2140h0M1684 2371h0M648 2133h0M954 2641h0M752 2640h0M767 2635h0M1038 2118h0M1464 2665h0M1320 2063h0M536 2642h0M387 2624h0M1240 2074h0M736 2144h0"/><path stroke="#0000b0" d="M511 2642h0M1390 2090h0M803 2640h0M1281 2053h0M1100 2105h0M1233 2068h0"/><path stroke="#77ff88" d="M978 2305h0M1095 2459h0M1178 2402h0M420 2331h0M730 2318h0M779 2316h0M1212 2380h0M1165 2325h0M1090 2417h0M787 2330h0M1089 2440h0M1386 2386h0M1030 2326h0M796 2411h0M1287 2344h0M973 2311h0M592 2442h0M1154 2453h0M911 2447h0M1326 2345h0M1337 2432h0M1271 2323h0M817 2327h0M653 2336h0M639 2440h0M657 2324h0M767 2322h0M1271 2404h0M598 2334h0M453 2446h0M783 2437h0M1143 2433h0M1160 2328h0M878 2318h0M1337 2377h0M1191 2316h0M923 2448h0M1314 2357h0M1216 2350h0M1316 2416h0M294 2441h0M1006 2458h0M1311 2338h0M1243 2395h0M987 2334h0M750 2417h0M618 2344h0M961 2340h0M979 2325h0M1214 2453h0M968 2416h0M795 2452h0M748 2346h0M777 2447h0M462 2442h0M566 2449h0M871 2442h0M441 2314h0M1269 2300h0M1167 2435h0M1324 2385h0M1241 2356h0M1292 2374h0M1018 2339h0M1063 2410h0M1010 2431h0M758 2332h0M510 2332h0M1290 2352h0M798 2310h0M809 2442h0M1251 2396h0M993 2344h0M1003 2460h0M696 2434h0M943 2353h0M492 2461h0M769 2445h0M1351 2333h0M993 2465h0M836 2326h0M1233 2412h0M428 2322h0M1040 2320h0M1321 2307h0M723 2349h0M1233 2334h0M1084 2361h0M1174 2343h0M1264 2348h0M532 2432h0M1139 2406h0M1198 2396h0M1113 2410h0M1246 2358h0M1019 2424h0M500 2315h0M1345 2315h0M841 2466h0M1249 2341h0M823 2340h0M640 2337h0M1051 2341h0M380 2450h0M1297 2416h0M512 2316h0M683 2439h0M692 2399h0M778 2358h0M1272 2408h0M833 2339h0M549 2433h0M819 2350h0M603 2446h0M826 2436h0M1129 2432h0M1202 2368h0M1316 2374h0M950 2336h0M1224 2391h0M1055 2363h0M1121 2359h0M1174 2334h0"/><path stroke="#00a4ff" d="M385 2236h0M1158 2541h0M827 2237h0M538 2255h0M1490 2515h0M351 2245h0M577 2518h0M301 2525h0M795 2262h0M1247 2194h0M1339 2202h0M1436 2260h0M1423 2251h0M480 2534h0M1563 2479h0M1062 2228h0M1447 2558h0M1300 2203h0M1122 2538h0M932 2235h0M1633 2411h0M1368 2535h0M876 2244h0M571 2512h0M594 2262h0M1284 2193h0M935 2523h0M817 2521h0M412 2536h0M513 2529h0M640 2542h0M753 2521h0M1040 2237h0M958 2510h0M1335 2159h0M1598 2445h0M1435 2240h0M791 2516h0M641 2519h0M1606 2454h0M1287 2205h0M1170 2231h0M1578 2466h0M1089 2217h0M923 2523h0M1323 2554h0M617 2232h0M1432 2254h0M1496 2525h0M1506 2527h0M1325 2223h0M1216 2230h0M1064 2215h0M451 2519h0M1001 2517h0M1383 2237h0M1194 2211h0M1034 2531h0M770 2242h0M553 2252h0M1032 2522h0M1284 2545h0M1462 2262h0M1090 2225h0M1154 2227h0M309 2519h0M297 2244h0M1267 2190h0M369 2507h0M386 2512h0M1204 2535h0M1076 2229h0M1329 2201h0M992 2233h0M1115 2543h0M1615 2397h0M1267 2217h0M1314 2533h0M328 2254h0M1290 2221h0M360 2248h0M718 2249h0M1105 2236h0M1587 2346h0M462 2246h0M908 2254h0M851 2220h0M379 2508h0M1124 2236h0M769 2533h0M390 2541h0M1135 2560h0M1600 2456h0M1354 2537h0M624 2521h0M1107 2224h0M599 2530h0M1622 2397h0M882 2516h0M879 2510h0M747 2247h0M322 2538h0M606 2226h0M674 2530h0M788 2247h0M938 2249h0M1031 2240h0M468 2530h0M414 2255h0"/><path stroke="#0033ff" d="M571 2174h0M1387 2629h0M1050 2581h0M1054 2158h0M321 2158h0M1235 2128h0M1455 2611h0M389 2591h0M448 2627h0M910 2151h0M569 2608h0M471 2170h0M601 2595h0M815 2622h0M652 2591h0M514 2567h0M1267 2633h0M1642 2465h0M820 2599h0M1277 2087h0M906 2612h0M411 2603h0M1384 2599h0M1398 2123h0M767 2585h0M748 2611h0M707 2579h0M898 2581h0M652 2158h0M1049 2610h0M1014 2580h0M963 2159h0M1028 2622h0M1615 2322h0M804 2586h0M610 2182h0M1296 2095h0M670 2591h0M908 2618h0M1027 2607h0M1408 2610h0M1043 2171h0M420 2594h0M383 2183h0M759 2162h0M700 2167h0M919 2170h0M457 2599h0M668 2564h0M1285 2107h0M945 2585h0M787 2167h0M1358 2099h0M1552 2577h0M1619 2483h0M395 2160h0M1216 2650h0M1521 2592h0M846 2140h0M778 2176h0M1440 2174h0M568 2594h0M1163 2632h0M386 2159h0M978 2603h0M792 2600h0M486 2190h0M724 2179h0M1127 2148h0M715 2620h0M588 2173h0M889 2603h0M1347 2621h0M655 2587h0M963 2154h0M1082 2625h0M1070 2573h0M1152 2149h0M1091 2622h0M1464 2627h0M401 2152h0M1471 2195h0M1032 2160h0M1319 2632h0M514 2579h0M1256 2096h0M1068 2156h0M1286 2637h0M1514 2235h0M1571 2544h0M400 2164h0M1286 2652h0M735 2587h0M513 2617h0M1244 2610h0M395 2606h0M1131 2639h0M495 2583h0M698 2197h0M850 2155h0M546 2593h0M1323 2641h0M953 2163h0M688 2171h0M1344 2104h0M327 2600h0M378 2590h0M1009 2158h0M667 2173h0M1214 2132h0M401 2181h0"/><path stroke="#ffe500" d="M354 2416h0M520 2379h0M356 2403h0M339 2413h0M339 2360h0M348 2363h0"/><path stroke="#0012ff" d="M1313 2064h0M582 2164h0M1339 2640h0M367 2621h0M1276 2066h0M311 2149h0M1407 2645h0M498 2176h0M1280 2666h0M1464 2649h0M738 2603h0M593 2155h0M856 2614h0M1592 2516h0M939 2145h0M304 2597h0M455 2627h0M1471 2645h0M799 2123h0M1269 2081h0M1028 2139h0M1149 2633h0M1102 2616h0M985 2606h0M1144 2622h0M606 2611h0M942 2596h0M297 2611h0M724 2617h0M1465 2175h0M428 2620h0M1460 2651h0M1403 2655h0M1461 2189h0M1487 2630h0M1107 2653h0M1116 2643h0M871 2613h0M1168 2646h0M1218 2087h0M368 2152h0M1119 2139h0M367 2139h0M360 2165h0M1144 2118h0M804 2135h0M598 2140h0M470 2151h0M761 2147h0M1478 2196h0M806 2622h0M741 2156h0M308 2180h0M355 2158h0M1143 2654h0M1346 2116h0M847 2158h0M1299 2090h0M1444 2657h0M579 2622h0M1278 2066h0M864 2159h0M1348 2094h0M1489 2613h0M1230 2103h0M1361 2092h0M1327 2650h0M528 2184h0M766 2617h0M632 2602h0M1312 2089h0M815 2163h0M1429 2153h0M720 2598h0M820 2142h0M1036 2145h0M982 2167h0M1244 2111h0M859 2624h0M1352 2100h0M1306 2098h0M1526 2227h0M889 2142h0M434 2160h0M1217 2658h0M419 2611h0M838 2125h0M898 2140h0M592 2614h0M890 2633h0M1614 2503h0M471 2633h0M348 2145h0M1107 2128h0M313 2130h0M1601 2311h0M854 2168h0M1648 2452h0M1267 2100h0M681 2154h0M374 2137h0M555 2619h0M1411 2113h0M526 2617h0M542 2160h0M1188 2643h0M1196 2100h0M868 2618h0M1179 2625h0M985 2160h0M1369 2124h0M711 2627h0M1515 2615h0M1032 2615h0"/><path stroke="#0000a0" d="M870 2641h0"/><path stroke="#0022ff" d="M1203 2640h0M379 2147h0M1111 2598h0M1297 2110h0M594 2157h0M1393 2139h0M587 2594h0M659 2147h0M1393 2650h0M799 2153h0M472 2628h0M1002 2603h0M1162 2095h0M336 2146h0M1232 2645h0M471 2177h0M447 2170h0M378 2608h0M302 2144h0M975 2622h0M1088 2626h0M1209 2112h0M1139 2116h0M908 2158h0M484 2600h0M1177 2635h0M1363 2638h0M590 2599h0M1088 2651h0M1436 2663h0M667 2598h0M1409 2651h0M622 2602h0M671 2608h0M1371 2619h0M857 2153h0M1502 2222h0M295 2148h0M517 2159h0M690 2584h0M1383 2646h0M1398 2132h0M1402 2639h0M1241 2631h0M1377 2107h0M728 2173h0M855 2147h0M644 2620h0M698 2170h0M1553 2566h0M1643 2460h0M1187 2629h0M1068 2635h0M1290 2099h0M1611 2323h0M684 2162h0M359 2615h0M536 2161h0M298 2157h0M640 2171h0M882 2596h0M1566 2556h0M1315 2642h0M1593 2531h0M579 2614h0M304 2610h0M1059 2134h0M428 2609h0M804 2604h0M746 2175h0M1264 2620h0M1373 2644h0M1258 2622h0M1282 2640h0M588 2604h0M1586 2296h0M491 2167h0M1440 2162h0M1066 2643h0M424 2186h0M1425 2641h0M1102 2142h0M1450 2665h0M1648 2357h0M1163 2647h0M739 2160h0M387 2154h0M483 2160h0M1295 2655h0M751 2585h0M637 2159h0M456 2155h0M392 2174h0M1081 2634h0M1514 2589h0M803 2159h0M440 2142h0M799 2170h0M1111 2141h0M1480 2634h0M577 2167h0M1191 2130h0M1447 2184h0M1072 2626h0M1457 2177h0M815 2173h0M1212 2097h0M1268 2651h0M819 2155h0M452 2163h0M408 2610h0M464 2590h0M742 2625h0M655 2163h0M376 2599h0M1675 2394h0M1632 2474h0M822 2610h0M1634 2469h0M875 2600h0M875 2146h0M1140 2631h0M896 2599h0M563 2601h0M825 2154h0M420 2605h0M1348 2638h0M1546 2262h0M358 2160h0M524 2177h0M1656 2424h0M884 2119h0M1272 2119h0M1063 2135h0M314 2600h0M1134 2122h0M563 2609h0M1071 2635h0M848 2607h0M321 2606h0M578 2609h0"/><path stroke="#47ffb8" d="M1241 2473h0M1234 2480h0M623 2310h0M1266 2450h0M1215 2290h0M563 2474h0M1228 2297h0M399 2456h0M597 2299h0M730 2309h0M1319 2452h0M1218 2437h0M764 2466h0M1340 2450h0M1374 2326h0M695 2317h0M1370 2291h0M1340 2419h0M1257 2467h0M1307 2302h0M1306 2333h0M1253 2349h0M1196 2308h0M1032 2289h0M673 2309h0M1376 2471h0M1220 2286h0M837 2300h0M1282 2484h0M1439 2409h0M1353 2389h0M1401 2374h0M334 2462h0M1303 2317h0M779 2313h0M1129 2300h0M323 2299h0M971 2297h0M1116 2304h0M756 2466h0M961 2298h0M774 2458h0M1280 2300h0M1275 2292h0M1296 2290h0M1391 2419h0M971 2311h0M1100 2325h0M1016 2305h0M906 2454h0M318 2453h0M1144 2474h0M1473 2410h0M673 2314h0M1414 2402h0M1248 2490h0M524 2298h0M1068 2464h0M1443 2380h0M846 2307h0M1090 2456h0M1008 2311h0M908 2476h0M1340 2444h0M1256 2285h0M325 2468h0M1147 2471h0M1364 2461h0M1150 2466h0M1015 2329h0M1224 2464h0M1436 2419h0M857 2462h0M1123 2484h0M823 2309h0M1081 2465h0M782 2453h0M1243 2455h0M699 2455h0M1169 2302h0M1294 2305h0M705 2478h0M1331 2285h0M589 2297h0M1374 2398h0M587 2467h0M858 2460h0M1446 2381h0M967 2464h0M1062 2301h0M921 2294h0M1366 2332h0M415 2461h0M1139 2482h0M1004 2305h0M1121 2302h0M1346 2437h0M1388 2349h0M656 2307h0M1345 2469h0M1339 2337h0M1394 2431h0M1074 2286h0M1401 2455h0M721 2307h0M404 2461h0"/><path stroke="#0000c0" d="M1542 2618h0M1097 2652h0M1385 2046h0M604 2113h0M1482 2148h0M635 2640h0M1112 1976h0M1108 2717h0M507 1989h0M1134 2809h0M1588 2215h0M1389 2726h0M1211 2752h0M566 2655h0M1099 2094h0M828 2009h0M323 2094h0M1451 2697h0M850 2105h0M827 2698h0M793 2008h0M799 2645h0M1462 2769h0M370 2635h0M1116 2082h0M1542 2664h0M700 2051h0M1505 2700h0M1181 2750h0M1238 2045h0M948 2684h0M544 2673h0M681 2127h0M498 2095h0M490 2740h0M594 2718h0M1518 2676h0M310 2624h0M1131 2664h0M1577 2259h0M471 2092h0M1475 2794h0M362 2669h0M710 2095h0M627 2652h0M1401 2708h0M1286 2051h0M653 2128h0M1367 2720h0M1184 2737h0M1409 2076h0M1062 2658h0M1330 2051h0M1386 2675h0M1032 2702h0M1118 2750h0M346 2108h0M1319 2804h0M358 2131h0M384 2656h0M904 2039h0M859 2094h0M711 2132h0M842 2129h0M1506 2199h0M387 2085h0M303 2040h0M502 2639h0M883 2093h0M1654 2594h0M1167 2839h0M844 2043h0M727 2656h0M656 2662h0M702 2141h0M1354 2055h0M1176 1928h0M1611 2692h0M638 2767h0M563 2678h0M626 2718h0M302 2638h0M1225 2065h0M1240 2057h0M1522 2205h0M1483 2659h0M888 2760h0M323 2685h0M570 2751h0M303 2655h0"/><path stroke="#ffb400" d="M344 2377h0"/><path stroke="#88ff77" d="M1206 2324h0M631 2341h0M972 2421h0M833 2328h0M788 2349h0M736 2377h0M842 2355h0M495 2337h0M1198 2320h0M1255 2390h0M332 2437h0M733 2356h0M1079 2384h0M1209 2445h0M1292 2365h0M1244 2345h0M858 2443h0M507 2322h0M1023 2319h0M1002 2369h0M872 2321h0M465 2333h0M1132 2351h0M775 2330h0M743 2375h0M876 2454h0M1032 2446h0M440 2325h0M596 2333h0M1225 2356h0M1075 2420h0M1235 2421h0M793 2388h0M1224 2328h0M912 2427h0M1079 2345h0M1092 2428h0M1358 2340h0M964 2382h0M1236 2374h0M1139 2425h0M1248 2385h0M1350 2436h0M1186 2430h0M1295 2375h0M555 2331h0M930 2320h0M1161 2297h0M1211 2390h0M1247 2454h0M1116 2393h0M983 2429h0M1136 2436h0M924 2356h0M1158 2413h0M1203 2418h0M898 2434h0M1283 2361h0M488 2445h0M1128 2403h0M1171 2443h0M1113 2417h0M1082 2428h0M1106 2403h0M1012 2333h0M1225 2412h0M946 2400h0M626 2448h0M691 2333h0M710 2424h0M966 2448h0M793 2351h0M900 2342h0M892 2427h0M729 2373h0M1226 2362h0M711 2339h0M528 2428h0M1032 2366h0M700 2446h0M940 2347h0M383 2312h0M918 2428h0M1263 2339h0M1113 2337h0M532 2447h0M900 2316h0M1187 2350h0M707 2387h0M1153 2345h0M1187 2385h0M319 2315h0M691 2340h0M616 2333h0M1046 2332h0M334 2322h0M444 2441h0M397 2315h0"/><path stroke="#a8ff57" d="M706 2357h0M984 2349h0M999 2343h0M639 2365h0M935 2339h0M802 2413h0M982 2380h0M1009 2423h0M409 2434h0M961 2373h0M542 2337h0M931 2391h0M494 2351h0M838 2415h0M1090 2360h0M1060 2401h0M1017 2395h0M619 2356h0M643 2420h0M673 2424h0M1058 2423h0M1041 2377h0M680 2357h0M394 2431h0M1150 2393h0M1227 2404h0M367 2442h0M711 2365h0M998 2397h0M902 2407h0M627 2337h0M802 2363h0M1220 2411h0M688 2433h0M419 2337h0M803 2381h0M537 2416h0M871 2369h0M1265 2397h0M367 2325h0M1068 2348h0M770 2366h0M856 2363h0M1192 2406h0M688 2352h0M551 2402h0M387 2433h0M1121 2421h0M1213 2398h0M762 2391h0M586 2425h0M1084 2367h0M750 2374h0M678 2380h0M552 2444h0M557 2441h0M907 2391h0M1216 2404h0M574 2429h0M536 2330h0M707 2376h0M1127 2358h0M758 2375h0M758 2414h0M1140 2398h0M607 2438h0M857 2353h0M873 2341h0M545 2344h0M688 2354h0M1025 2350h0M584 2340h0M754 2338h0M1154 2363h0M1062 2428h0M368 2316h0M689 2378h0M714 2412h0M1235 2392h0M813 2411h0M583 2351h0M895 2346h0M367 2440h0M921 2366h0M839 2395h0M1179 2385h0M915 2351h0M1025 2387h0M814 2363h0M1190 2344h0M821 2378h0M412 2334h0M1233 2382h0M457 2433h0M1021 2408h0M351 2337h0M752 2367h0M915 2423h0M1001 2384h0M684 2373h0M1327 2385h0M881 2407h0M899 2355h0M782 2383h0M414 2428h0M702 2411h0"/><path stroke="#00e5ff" d="M617 2264h0M1592 2394h0M1408 2514h0M728 2505h0M1302 2515h0M699 2285h0M1487 2336h0M306 2491h0M479 2491h0M1368 2234h0M1276 2218h0M1356 2228h0M452 2280h0M1444 2302h0M1282 2518h0M488 2490h0M1481 2517h0M1569 2459h0M453 2277h0M298 2267h0M614 2490h0M1588 2377h0M778 2492h0M978 2257h0M1524 2459h0M644 2492h0M660 2505h0M1591 2405h0M650 2284h0M826 2264h0M1082 2263h0M735 2269h0M1417 2529h0M686 2519h0M804 2499h0M1010 2267h0M530 2275h0M1111 2501h0M1520 2479h0M1473 2486h0M484 2503h0M643 2487h0M422 2274h0M935 2261h0M1309 2222h0M1515 2499h0M577 2278h0M1299 2519h0M1305 2525h0M1167 2259h0M1034 2508h0M1400 2261h0M818 2499h0M1428 2506h0M1535 2346h0M1557 2399h0M834 2266h0M996 2485h0M1042 2278h0M1395 2237h0M912 2269h0M440 2511h0M954 2497h0M1458 2509h0M574 2265h0M1545 2398h0M1586 2402h0M1297 2221h0M1451 2505h0M608 2494h0M731 2498h0M439 2280h0M411 2500h0M1520 2447h0M972 2270h0M956 2508h0M1568 2338h0M669 2484h0M960 2258h0M848 2498h0M1551 2320h0M1482 2487h0M915 2512h0"/><path stroke="#98ff67" d="M577 2350h0M469 2327h0M520 2337h0M1149 2436h0M767 2346h0M430 2426h0M697 2373h0M1288 2326h0M759 2429h0M536 2435h0M580 2326h0M1081 2402h0M1064 2405h0M1271 2452h0M1118 2376h0M990 2419h0M834 2400h0M1115 2362h0M771 2373h0M1107 2345h0M710 2375h0M1243 2366h0M815 2426h0M684 2364h0M660 2377h0M786 2418h0M907 2354h0M850 2348h0M324 2329h0M987 2422h0M464 2340h0M729 2406h0M728 2354h0M1020 2343h0M1169 2388h0M488 2353h0M647 2425h0M459 2324h0M1052 2355h0M585 2451h0M824 2350h0M556 2336h0M618 2431h0M843 2349h0M444 2346h0M1055 2440h0M802 2422h0M932 2332h0M964 2350h0M605 2333h0M756 2360h0M788 2423h0M867 2336h0M1035 2418h0M1235 2407h0M966 2432h0M724 2438h0M802 2375h0M684 2349h0M1007 2379h0M1234 2353h0M801 2338h0M1211 2413h0M626 2429h0M516 2434h0M1068 2447h0M460 2349h0M297 2419h0M1040 2383h0M745 2365h0M629 2328h0M990 2349h0M758 2365h0M737 2368h0M1180 2428h0M1105 2374h0M1177 2410h0M1124 2368h0M1164 2309h0M714 2349h0M1124 2402h0M1196 2390h0M1218 2371h0M1153 2427h0M515 2339h0M847 2418h0M1020 2364h0M1145 2449h0M780 2374h0M969 2408h0M663 2336h0M921 2438h0M886 2331h0M314 2334h0M760 2423h0M746 2370h0M841 2375h0M875 2417h0M1036 2387h0M430 2435h0M646 2414h0M1150 2410h0M1048 2364h0M986 2407h0M1125 2386h0M430 2446h0M692 2425h0M657 2342h0M864 2441h0M1152 2417h0M570 2344h0M845 2374h0M1230 2397h0M827 2332h0M1075 2404h0M778 2354h0M411 2447h0M927 2440h0M1060 2384h0M784 2393h0M761 2337h0M889 2444h0M796 2384h0M987 2373h0M1166 2379h0M1258 2338h0M951 2351h0M586 2336h0"/><path stroke="#0053ff" d="M502 2198h0M996 2571h0M1036 2192h0M1299 2151h0M1507 2593h0M1205 2159h0M1038 2159h0M450 2216h0M1058 2604h0M1270 2140h0M652 2208h0M1178 2569h0M1251 2591h0M1591 2497h0M649 2558h0M697 2590h0M375 2193h0M591 2230h0M338 2180h0M644 2197h0M1598 2516h0M782 2177h0M366 2587h0M1471 2249h0M356 2579h0M1054 2193h0M1002 2571h0M1006 2209h0M761 2597h0M1432 2610h0M365 2182h0M486 2201h0M731 2578h0M1023 2561h0M1221 2140h0M295 2580h0M447 2577h0M1115 2160h0M1141 2565h0M1488 2239h0M1203 2588h0M1548 2281h0M1450 2612h0M1133 2579h0M1283 2109h0M1655 2367h0M969 2197h0M1284 2610h0M1646 2367h0M1352 2614h0M372 2198h0M697 2539h0M942 2195h0M498 2565h0M1364 2140h0M409 2175h0M1450 2608h0M688 2202h0M373 2228h0M1302 2133h0M1319 2109h0M472 2181h0M1276 2639h0M1027 2175h0M505 2204h0M822 2193h0M1551 2555h0M828 2561h0M1239 2156h0M1428 2615h0M1154 2188h0M366 2568h0M1191 2587h0M1130 2621h0M1487 2591h0M1530 2553h0M924 2585h0M1539 2567h0M1025 2582h0M1335 2587h0M940 2589h0M1418 2606h0M1367 2140h0M447 2190h0M688 2178h0M1028 2580h0M1439 2604h0M606 2581h0M974 2170h0M523 2188h0M584 2187h0M427 2196h0M738 2184h0M600 2600h0M765 2557h0M1363 2147h0M1585 2303h0M328 2566h0M703 2175h0M594 2587h0M398 2195h0M1620 2336h0M377 2573h0M803 2205h0M868 2179h0M897 2184h0M1258 2172h0M1318 2588h0M1435 2202h0M1660 2410h0M295 2184h0M518 2580h0M673 2213h0M839 2586h0M1123 2596h0M1351 2148h0M1134 2604h0M1298 2119h0M1670 2417h0M804 2178h0M476 2194h0M1612 2337h0M1487 2243h0M1425 2172h0M1569 2541h0M430 2577h0M674 2542h0M900 2167h0M521 2216h0M900 2224h0M663 2189h0M1164 2153h0M787 2565h0M1659 2419h0M1385 2150h0M1468 2229h0M815 2572h0M522 2560h0M766 2171h0M1424 2630h0M463 2180h0M350 2576h0M338 2574h0M665 2551h0M1110 2592h0M739 2565h0M974 2570h0M1296 2615h0M611 2602h0M1423 2187h0M332 2589h0M651 2184h0M1412 2209h0M1529 2555h0M1388 2183h0M504 2227h0M809 2540h0M419 2193h0M913 2605h0"/><path stroke="#26ffd9" d="M1329 2283h0M1416 2486h0M425 2483h0M1078 2286h0M747 2290h0M1460 2324h0M684 2481h0M577 2485h0M707 2461h0M849 2291h0M563 2467h0M928 2288h0M1385 2397h0M1332 2435h0M1499 2489h0M1201 2493h0M1011 2291h0M1250 2278h0M1418 2364h0M1446 2320h0M558 2310h0M1513 2333h0M1170 2267h0M1372 2448h0M1439 2327h0M462 2291h0M1424 2444h0M425 2475h0M1485 2400h0M303 2307h0M1406 2421h0M1174 2474h0M416 2477h0M1279 2279h0M1345 2486h0M1523 2387h0M914 2493h0M1468 2304h0M1252 2496h0M1394 2469h0M1459 2455h0M1297 2489h0M1513 2395h0M644 2477h0M980 2477h0M1482 2432h0M1483 2380h0M1484 2389h0M552 2486h0M1130 2475h0M1536 2333h0M1383 2476h0M1447 2325h0M1145 2463h0M698 2471h0M795 2295h0M790 2283h0M1004 2298h0M1106 2470h0M409 2298h0M536 2302h0M1025 2292h0M1497 2371h0M670 2290h0M1377 2318h0M1361 2434h0M1081 2483h0M1464 2364h0M1426 2468h0M732 2488h0M856 2499h0M1516 2380h0M1216 2261h0M1076 2301h0M318 2469h0M986 2284h0M550 2315h0M588 2474h0M851 2489h0M427 2298h0M964 2302h0M1380 2482h0M1227 2266h0M1288 2308h0M1520 2420h0M1498 2381h0M1383 2489h0M762 2286h0M994 2475h0M385 2473h0M1524 2375h0M472 2295h0M905 2283h0M647 2478h0M702 2314h0M1212 2258h0M1513 2438h0M1436 2395h0M1252 2297h0M1404 2464h0M1433 2331h0M394 2481h0M615 2293h0M1433 2431h0M1386 2456h0M1437 2351h0M751 2280h0M1126 2288h0M1547 2391h0M491 2466h0M1306 2492h0M1423 2395h0M1364 2299h0M337 2486h0M779 2296h0M1435 2300h0M1343 2292h0M1489 2373h0M644 2300h0"/><path stroke="#57ffa8" d="M1214 2301h0M1368 2387h0M1249 2305h0M929 2299h0M1279 2324h0M870 2309h0M1209 2433h0M1319 2387h0M1118 2445h0M592 2314h0M577 2446h0M1071 2460h0M1348 2423h0M1330 2453h0M1403 2416h0M847 2451h0M515 2320h0M530 2464h0M1243 2460h0M508 2458h0M1295 2454h0M1121 2324h0M905 2304h0M1089 2325h0M913 2308h0M937 2324h0M1081 2445h0M1270 2341h0M1018 2443h0M1180 2321h0M375 2313h0M1115 2463h0M1394 2439h0M1386 2359h0M1062 2459h0M974 2461h0M1033 2304h0M1266 2463h0M1119 2460h0M504 2467h0M1436 2390h0M1209 2304h0M1217 2315h0M1134 2295h0M1398 2403h0M1201 2442h0M1266 2285h0M495 2460h0M299 2443h0M1463 2362h0M1364 2375h0M864 2453h0M877 2301h0M1361 2283h0M1175 2296h0M481 2459h0M731 2436h0M402 2301h0M1121 2471h0M1307 2299h0M355 2466h0M510 2306h0M1193 2461h0M1042 2465h0M1335 2414h0M1365 2462h0M673 2454h0M873 2325h0M720 2387h0M752 2457h0M782 2312h0M294 2323h0M1160 2306h0M1320 2329h0M1322 2353h0M638 2317h0M1003 2328h0M1330 2321h0M1057 2293h0M1356 2324h0M1363 2473h0M1401 2351h0M577 2319h0M1200 2312h0M1107 2435h0M841 2321h0M1252 2484h0M1223 2336h0M1081 2458h0M718 2322h0M1290 2335h0M1293 2470h0M1365 2316h0M1002 2470h0"/><path stroke="#0094ff" d="M1376 2561h0M1407 2547h0M546 2523h0M856 2254h0M522 2570h0M1321 2215h0M1586 2472h0M1580 2335h0M518 2247h0M1295 2572h0M1119 2233h0M627 2244h0M1546 2306h0M395 2238h0M484 2543h0M922 2233h0M1633 2405h0M1577 2487h0M786 2536h0M504 2551h0M1249 2188h0M453 2245h0M991 2242h0M1626 2415h0M375 2222h0M908 2538h0M763 2237h0M840 2501h0M1394 2203h0M799 2531h0M644 2513h0M1437 2524h0M1270 2581h0M1232 2209h0M580 2216h0M700 2211h0M760 2234h0M299 2527h0M965 2215h0M1464 2533h0M1432 2538h0M646 2247h0M1110 2539h0M992 2522h0M332 2238h0M976 2207h0M1604 2431h0M678 2514h0M1092 2529h0M367 2232h0M976 2230h0M1153 2201h0M1478 2272h0M791 2523h0M399 2545h0M1352 2582h0M900 2215h0M1376 2222h0M1353 2159h0M330 2258h0M398 2240h0M1152 2220h0M534 2244h0M1493 2537h0M1337 2542h0M800 2239h0M1188 2558h0M1475 2567h0M929 2525h0M1619 2424h0M1535 2305h0M895 2229h0M351 2523h0M1643 2402h0M1467 2546h0M724 2523h0M1399 2553h0M1016 2225h0M1010 2535h0M1568 2504h0M1248 2217h0M1040 2225h0M696 2512h0M1614 2407h0M524 2529h0M1131 2579h0M1643 2370h0M891 2229h0M1550 2507h0M1111 2213h0M658 2529h0M976 2537h0M1097 2216h0M406 2252h0M658 2256h0M1441 2548h0M594 2527h0M1195 2176h0M1363 2559h0M966 2236h0M1440 2573h0M1065 2568h0M897 2527h0M1299 2549h0M1225 2556h0M1100 2223h0M727 2249h0M361 2519h0M520 2525h0M390 2225h0M1167 2541h0M399 2215h0M1342 2558h0M1452 2550h0M546 2534h0M787 2233h0M1002 2531h0M862 2235h0M868 2529h0M1238 2546h0M647 2552h0M1143 2235h0M1108 2529h0M1099 2544h0M564 2543h0M1476 2268h0M1139 2235h0M1394 2222h0M1609 2343h0M1079 2559h0M1148 2222h0M1595 2371h0M1495 2544h0M724 2519h0M1108 2548h0"/><path stroke="#ff9400" d="M359 2400h0"/><path stroke="#0043ff" d="M670 2562h0M725 2603h0M1384 2176h0M1146 2209h0M1575 2306h0M1196 2628h0M1306 2111h0M1081 2591h0M1136 2615h0M1359 2132h0M588 2203h0M584 2574h0M1489 2599h0M1017 2602h0M506 2165h0M686 2192h0M1246 2121h0M1542 2270h0M543 2182h0M1521 2262h0M1034 2166h0M1306 2642h0M848 2579h0M640 2587h0M1473 2222h0M1096 2606h0M1020 2208h0M630 2186h0M576 2596h0M575 2185h0M767 2162h0M964 2588h0M1404 2625h0M739 2178h0M1233 2637h0M1593 2521h0M1418 2157h0M1223 2134h0M1511 2252h0M422 2584h0M500 2610h0M784 2596h0M678 2195h0M1458 2607h0M1049 2160h0M766 2597h0M1438 2204h0M425 2234h0M1497 2218h0M1209 2616h0M1259 2117h0M325 2590h0M1412 2617h0M366 2174h0M579 2599h0M1476 2603h0M1329 2606h0M1563 2526h0M663 2587h0M1054 2614h0M974 2181h0M910 2170h0M959 2598h0M334 2169h0M561 2590h0M360 2589h0M1272 2092h0M927 2608h0M1424 2196h0M399 2575h0M1287 2157h0M655 2604h0M902 2574h0M322 2594h0M808 2165h0M1307 2600h0M614 2594h0M611 2194h0M1468 2196h0M394 2573h0M554 2188h0M534 2590h0M1481 2216h0M950 2552h0M1584 2526h0M371 2576h0M1276 2632h0M1130 2597h0M430 2596h0M1260 2137h0M1667 2384h0M1542 2565h0M645 2200h0M820 2203h0M297 2206h0M888 2571h0M1368 2627h0M494 2592h0M1169 2584h0M938 2158h0M995 2590h0M1291 2583h0M673 2161h0M390 2191h0M327 2177h0M1522 2567h0M1390 2615h0M1278 2611h0M1412 2638h0M770 2592h0M443 2594h0M471 2583h0M1656 2382h0M611 2575h0M1172 2620h0M1346 2123h0M602 2582h0M666 2169h0M1498 2572h0M1383 2156h0M1361 2107h0M954 2593h0M530 2180h0M307 2204h0M958 2180h0M866 2595h0M1470 2611h0M487 2613h0M1641 2347h0M768 2194h0M550 2603h0M918 2595h0M1054 2174h0M1011 2168h0M1516 2567h0M923 2156h0M1102 2604h0M1338 2619h0M1344 2598h0"/><path stroke="#ffd500" d="M426 2376h0M362 2371h0M352 2370h0M402 2394h0M415 2381h0"/><path stroke="#ffc400" d="M416 2395h0M379 2368h0M358 2367h0M394 2367h0M419 2384h0M322 2392h0"/><path stroke="#ff8400" d="M400 2386h0M367 2381h0"/><path stroke="#0073ff" d="M466 2584h0M1138 2194h0M1582 2340h0M1057 2218h0M1082 2572h0M1375 2573h0M1300 2586h0M997 2218h0M641 2233h0M1098 2182h0M1258 2602h0M887 2579h0M310 2581h0M343 2211h0M659 2223h0M1644 2441h0M946 2555h0M390 2213h0M793 2545h0M331 2206h0M442 2242h0M339 2214h0M398 2555h0M1216 2549h0M481 2234h0M825 2550h0M1177 2613h0M750 2533h0M821 2573h0M326 2198h0M1119 2549h0M1202 2556h0M624 2528h0M930 2229h0M417 2163h0M1214 2205h0M1390 2606h0M1454 2233h0M737 2198h0M1439 2242h0M844 2537h0M1500 2245h0M1017 2185h0M1156 2578h0M449 2553h0M1273 2159h0M737 2571h0M729 2553h0M1206 2170h0M398 2569h0M1234 2189h0M373 2208h0M452 2232h0M474 2545h0M839 2556h0M529 2211h0M950 2231h0M495 2242h0M1240 2172h0M537 2226h0M711 2555h0M968 2230h0M1202 2195h0M1127 2210h0M492 2244h0M1231 2165h0M1318 2147h0M984 2215h0M1006 2550h0M572 2538h0M1287 2588h0M1519 2271h0M420 2221h0M602 2225h0M1423 2573h0M1321 2166h0M483 2186h0M541 2187h0M734 2548h0M895 2208h0M1228 2563h0M544 2566h0M504 2234h0M912 2215h0M329 2557h0M1040 2555h0M715 2582h0M564 2558h0M1347 2181h0M1562 2505h0M624 2206h0M480 2200h0M1460 2541h0M759 2571h0M1494 2555h0M783 2573h0M1274 2559h0M475 2572h0M883 2207h0M1103 2205h0M1047 2560h0M1403 2608h0M988 2545h0M535 2546h0M1276 2593h0M844 2218h0M1209 2157h0M824 2180h0M696 2547h0M650 2232h0M790 2233h0M1513 2545h0M982 2567h0M583 2238h0M503 2564h0M382 2220h0M729 2561h0M383 2535h0M1027 2204h0M1347 2579h0M504 2212h0M1080 2191h0M1288 2170h0M593 2192h0M412 2204h0M1354 2601h0M1410 2190h0M675 2556h0M704 2524h0M1512 2528h0M1265 2567h0M1382 2201h0M742 2219h0M801 2194h0M815 2200h0M1377 2602h0M1403 2572h0M594 2220h0M1287 2162h0M1526 2569h0M704 2196h0M753 2554h0M516 2584h0M1307 2171h0M767 2211h0M1076 2218h0M1289 2562h0M317 2205h0M1590 2488h0M1192 2197h0M1200 2580h0M618 2535h0M1122 2556h0M588 2553h0M1375 2578h0M1443 2578h0M1055 2204h0M888 2547h0M428 2550h0M458 2568h0M1510 2272h0M1314 2169h0M345 2569h0M1339 2185h0M1219 2170h0M391 2199h0M1354 2146h0M294 2574h0M480 2242h0M1468 2250h0M1439 2587h0M894 2175h0M1091 2569h0M502 2571h0M1327 2161h0M780 2545h0M1338 2569h0M1025 2542h0M607 2219h0M1468 2240h0M1054 2553h0M1049 2208h0M974 2573h0M495 2206h0M721 2218h0M1106 2568h0M769 2214h0M1144 2597h0M537 2531h0M1177 2190h0M415 2529h0M1262 2595h0M515 2547h0M850 2211h0M698 2224h0M888 2568h0M1295 2623h0M483 2206h0M1394 2165h0M607 2229h0"/><path stroke="#00f5ff" d="M1146 2273h0M737 2491h0M1264 2527h0M1146 2498h0M398 2486h0M1120 2491h0M1327 2499h0M367 2501h0M807 2275h0M1034 2490h0M1456 2289h0M907 2470h0M1542 2334h0M630 2280h0M1393 2486h0M1366 2477h0M351 2284h0M545 2497h0M1136 2506h0M1578 2396h0M1290 2502h0M1483 2510h0M1530 2329h0M1110 2268h0M836 2489h0M1465 2479h0M1521 2332h0M1030 2503h0M874 2281h0M527 2295h0M1078 2510h0M1254 2268h0M366 2269h0M1368 2282h0M1369 2504h0M1214 2522h0M920 2492h0M1134 2262h0M1212 2493h0M1096 2275h0M1545 2327h0M483 2290h0M1009 2259h0M540 2491h0M1400 2502h0M391 2493h0M305 2479h0M1211 2519h0M583 2273h0M646 2470h0M1239 2274h0M1220 2237h0M986 2504h0M606 2285h0M303 2470h0M364 2281h0M376 2480h0M1558 2475h0M793 2281h0M937 2267h0M371 2261h0M1449 2475h0M388 2273h0M601 2489h0M1271 2535h0M1521 2488h0M1000 2498h0M1180 2526h0M974 2487h0M1273 2235h0M1199 2287h0M1522 2412h0M1451 2300h0M1021 2495h0M1108 2270h0M553 2499h0M1015 2487h0M882 2500h0M1207 2506h0M1176 2255h0M520 2500h0M835 2262h0M1494 2294h0M398 2506h0M1335 2493h0M453 2494h0M1554 2482h0M1341 2511h0M1359 2514h0M1060 2497h0M690 2283h0M298 2491h0M1347 2270h0M994 2482h0M1520 2499h0M1262 2250h0M784 2288h0M529 2281h0M1482 2292h0M1255 2236h0M374 2497h0M956 2266h0"/><path stroke="#37ffc8" d="M820 2310h0M1121 2292h0M810 2287h0M1407 2334h0M1450 2435h0M1420 2442h0M1272 2464h0M441 2460h0M1380 2330h0M1456 2358h0M1400 2434h0M1455 2443h0M1110 2290h0M708 2289h0M1349 2453h0M334 2303h0M1029 2474h0M462 2298h0M1537 2434h0M1433 2324h0M936 2478h0M1467 2392h0M1366 2312h0M545 2471h0M710 2303h0M450 2462h0M499 2468h0M763 2298h0M676 2466h0M1341 2314h0M576 2472h0M1290 2266h0M415 2299h0M1513 2413h0M1535 2413h0M543 2308h0M1021 2282h0M1420 2357h0M1423 2411h0M1396 2362h0M1263 2289h0M600 2304h0M435 2296h0M1438 2367h0M1203 2285h0M338 2475h0M1411 2481h0M537 2296h0M802 2453h0M1192 2469h0M1523 2404h0M1007 2470h0M1235 2468h0M1456 2385h0M1372 2431h0M466 2309h0M1100 2291h0M1282 2446h0M567 2297h0M1400 2319h0M1263 2301h0M580 2458h0M1375 2294h0M626 2276h0M894 2480h0M502 2295h0M774 2305h0M1156 2490h0M678 2285h0M775 2465h0M1231 2290h0M1144 2292h0M1017 2468h0M1159 2283h0M1474 2397h0M1396 2395h0M1431 2366h0M429 2306h0M1059 2300h0M1345 2299h0M1132 2462h0M713 2315h0M1368 2341h0M936 2297h0M1403 2300h0M1455 2390h0M1395 2460h0M1184 2480h0M610 2463h0M1236 2485h0M1423 2427h0M821 2292h0"/><path stroke="#c8ff37" d="M511 2369h0M720 2423h0M735 2364h0M560 2401h0M649 2395h0M398 2430h0M744 2387h0M820 2371h0M592 2423h0M703 2377h0M801 2400h0M912 2390h0M1084 2392h0M527 2347h0M543 2368h0M297 2347h0M572 2395h0M891 2374h0M852 2410h0M507 2370h0M559 2419h0M378 2435h0M606 2418h0M911 2399h0M1147 2412h0M816 2387h0M946 2375h0M890 2359h0M636 2404h0M370 2335h0M465 2409h0M977 2423h0M1073 2371h0M966 2399h0M582 2382h0"/><path stroke="#b8ff47" d="M814 2395h0M672 2344h0M865 2394h0M639 2390h0M610 2368h0M638 2339h0M983 2396h0M603 2432h0M718 2401h0M1102 2360h0M556 2411h0M907 2412h0M892 2398h0M564 2347h0M734 2405h0M1007 2401h0M448 2342h0M473 2355h0M899 2397h0M751 2403h0M577 2385h0M644 2431h0M510 2418h0M1266 2405h0M1085 2384h0M776 2415h0M579 2424h0M862 2373h0M765 2408h0M896 2419h0M1072 2384h0M834 2348h0M596 2351h0M523 2420h0M928 2344h0M867 2360h0M314 2356h0M832 2384h0M602 2404h0M370 2433h0M600 2374h0M957 2370h0M714 2385h0M881 2420h0M763 2404h0M1041 2395h0M520 2384h0M838 2361h0M883 2432h0M526 2352h0M985 2394h0M928 2404h0M559 2350h0M447 2420h0M624 2374h0M824 2384h0M444 2358h0M330 2428h0M971 2352h0M561 2374h0M792 2403h0M479 2413h0"/><path stroke="#fff500" d="M366 2408h0M306 2389h0M302 2364h0M393 2402h0M448 2384h0M316 2390h0M444 2384h0M412 2377h0"/><path stroke="#16ffe9" d="M951 2283h0M1257 2493h0M882 2285h0M490 2293h0M371 2278h0M1117 2507h0M897 2286h0M979 2475h0M334 2291h0M1186 2278h0M827 2477h0M775 2290h0M1055 2471h0M1096 2495h0M401 2270h0M739 2286h0M1504 2431h0M1164 2270h0M1479 2404h0M1544 2447h0M329 2479h0M1132 2482h0M1103 2494h0M1505 2392h0M1195 2505h0M1440 2316h0M1531 2431h0M540 2474h0M911 2467h0M1123 2260h0M734 2301h0M1294 2248h0M888 2297h0M1015 2275h0M1212 2263h0M1502 2341h0M831 2296h0M1480 2347h0M996 2283h0M1303 2243h0M1402 2271h0M882 2478h0M655 2291h0M755 2496h0M1420 2294h0M1519 2364h0M1098 2482h0M1463 2466h0M930 2479h0M1542 2425h0M511 2280h0M1374 2494h0M689 2476h0M1524 2354h0M1503 2398h0M1546 2409h0M386 2296h0M1506 2383h0M1215 2269h0M1486 2404h0M1468 2320h0M1264 2502h0M802 2299h0M1499 2396h0M1283 2262h0M1393 2410h0M1532 2339h0M1386 2306h0M1426 2491h0M1424 2463h0M1463 2349h0M864 2275h0M398 2475h0M514 2475h0M1360 2286h0M1471 2389h0M386 2278h0M1268 2489h0M1286 2279h0M1411 2305h0M1423 2389h0M1092 2272h0M1518 2348h0M936 2472h0M1518 2329h0M1547 2440h0M420 2465h0M876 2485h0M1510 2483h0M668 2470h0M416 2290h0M1474 2412h0M1208 2488h0M1316 2276h0M1351 2274h0M1540 2370h0M458 2472h0M1314 2491h0M1396 2494h0M1337 2265h0M689 2292h0M891 2281h0M1470 2464h0M784 2300h0M519 2483h0"/><path stroke="#00d4ff" d="M876 2267h0M1526 2481h0M494 2253h0M380 2263h0M692 2495h0M825 2504h0M1604 2387h0M521 2285h0M1175 2233h0M1567 2361h0M1402 2478h0M584 2510h0M863 2249h0M1506 2304h0M1409 2266h0M492 2273h0M1328 2237h0M1536 2481h0M1520 2297h0M354 2259h0M1299 2525h0M356 2494h0M363 2509h0M1545 2484h0M854 2502h0M512 2501h0M863 2258h0M1380 2249h0M1266 2257h0M567 2271h0M383 2266h0M1419 2257h0M824 2262h0M419 2245h0M635 2255h0M450 2496h0M1308 2540h0M822 2497h0M655 2267h0M1466 2519h0M474 2268h0M1436 2518h0M1200 2505h0M472 2254h0M536 2510h0M457 2505h0M1305 2224h0M593 2274h0M1580 2356h0M1587 2352h0M395 2274h0M1070 2272h0M993 2254h0M1183 2237h0M1156 2498h0M583 2487h0M1230 2228h0M1110 2522h0M1451 2528h0M388 2492h0M1225 2508h0M747 2480h0M507 2510h0M322 2493h0M431 2260h0M598 2510h0M720 2276h0M1223 2228h0M922 2267h0M1130 2230h0M1150 2245h0M545 2275h0M792 2500h0M1080 2506h0M777 2255h0M1124 2273h0M1540 2317h0M736 2260h0M1319 2516h0M1470 2526h0M1338 2227h0M1574 2405h0M762 2496h0M1594 2419h0M1243 2238h0M1331 2519h0M1427 2516h0M1065 2258h0M1184 2230h0M359 2269h0M1624 2392h0M1135 2529h0M655 2260h0M1066 2499h0"/><path stroke="#0084ff" d="M1319 2174h0M1271 2170h0M977 2545h0M1274 2554h0M738 2554h0M1438 2251h0M1484 2558h0M1129 2568h0M1027 2550h0M1443 2559h0M1426 2595h0M1402 2204h0M406 2542h0M647 2215h0M626 2540h0M902 2223h0M1415 2215h0M695 2230h0M1447 2241h0M1150 2198h0M739 2239h0M1226 2188h0M952 2206h0M1255 2613h0M1329 2553h0M1071 2225h0M1238 2574h0M1579 2482h0M1162 2562h0M607 2522h0M1104 2557h0M1444 2261h0M1110 2561h0M1210 2206h0M380 2526h0M1199 2569h0M1618 2452h0M706 2247h0M1297 2145h0M1296 2602h0M1137 2171h0M1541 2526h0M899 2519h0M1017 2533h0M1168 2548h0M1512 2283h0M841 2532h0M1162 2213h0M909 2195h0M360 2542h0M1195 2208h0M1635 2354h0M1323 2192h0M386 2544h0M1305 2159h0M476 2524h0M1349 2553h0M822 2210h0M560 2571h0M898 2542h0M1206 2200h0M903 2214h0M926 2206h0M380 2237h0M1623 2342h0M1338 2555h0M526 2231h0M569 2527h0M1610 2437h0M620 2222h0M1614 2353h0M473 2240h0M1259 2166h0M1534 2273h0M1188 2207h0M1328 2185h0M392 2564h0M442 2526h0M1564 2511h0M922 2192h0M830 2213h0M588 2547h0M428 2217h0M491 2237h0M796 2207h0M1329 2190h0M950 2563h0M724 2541h0M958 2564h0M1344 2199h0M328 2229h0M707 2225h0M1007 2530h0M388 2528h0M833 2215h0M641 2561h0M569 2227h0M1430 2229h0M1377 2206h0M952 2238h0M987 2535h0M830 2563h0M1312 2141h0M440 2231h0M605 2559h0M558 2251h0M1002 2227h0M942 2529h0M1320 2155h0M527 2239h0M1342 2589h0M402 2226h0M1072 2555h0M1442 2545h0M439 2537h0M455 2222h0M1200 2212h0M1489 2566h0M917 2540h0M363 2230h0M1434 2568h0M468 2227h0M703 2543h0M699 2245h0M1208 2558h0M428 2529h0M628 2252h0M625 2231h0M1150 2212h0M1354 2191h0M1004 2546h0M1009 2222h0M676 2200h0M1598 2474h0M1204 2171h0M555 2530h0M1198 2565h0M504 2248h0M860 2223h0M1036 2579h0M776 2533h0M1412 2203h0M726 2213h0M383 2231h0M950 2539h0M1056 2588h0M1436 2588h0M1360 2594h0M1401 2199h0M1187 2197h0M680 2226h0M591 2518h0M387 2210h0M1265 2570h0M1244 2148h0M1513 2535h0M819 2529h0M524 2225h0M962 2543h0M639 2533h0M1473 2257h0M569 2231h0M1380 2182h0M724 2236h0"/><path stroke="#f9ff06" d="M312 2372h0M435 2370h0M420 2358h0M598 2413h0M408 2402h0M318 2422h0M322 2406h0M330 2367h0M404 2360h0M551 2369h0M472 2401h0M511 2380h0M464 2383h0M463 2394h0M476 2392h0M551 2378h0M542 2407h0M438 2398h0M393 2351h0"/><path stroke="#ff8400" d="M355 2384h0"/><path stroke="#0022ff" d="M837 2156h0M1020 2175h0M1338 2624h0M690 2601h0M447 2182h0M1314 2638h0M752 2610h0M559 2166h0M998 2607h0M471 2610h0M1281 2623h0M420 2616h0M808 2172h0M1105 2148h0M1454 2624h0M1275 2649h0M426 2171h0M1411 2629h0M623 2618h0M551 2608h0M1379 2621h0M465 2607h0M1112 2625h0M388 2165h0M1490 2218h0M1449 2190h0M1268 2084h0M1035 2635h0M1347 2628h0M1426 2162h0M644 2613h0M604 2166h0M529 2625h0M1247 2086h0M960 2136h0M1670 2412h0M1311 2627h0M907 2599h0M388 2601h0M1198 2621h0M464 2169h0M1063 2624h0M335 2172h0M1268 2662h0M803 2167h0M1307 2085h0M615 2159h0M480 2625h0M1262 2106h0M1039 2613h0M1111 2151h0M895 2160h0M1228 2110h0M1041 2619h0M568 2155h0M1353 2110h0M1474 2634h0M1076 2609h0M1396 2130h0M1358 2636h0M312 2158h0M1425 2154h0M1395 2639h0M627 2170h0M1256 2629h0M555 2163h0M572 2185h0M338 2597h0M748 2600h0M1184 2606h0M516 2161h0M363 2602h0M342 2155h0M1448 2647h0M1062 2133h0M504 2175h0M1216 2641h0M1398 2659h0M944 2144h0M1017 2167h0M1281 2644h0M495 2172h0M881 2623h0M1554 2559h0M664 2619h0M942 2151h0M1178 2644h0M411 2590h0M1231 2620h0M614 2177h0M514 2611h0M475 2604h0M1086 2149h0M881 2179h0M1407 2143h0M820 2580h0M1099 2645h0M455 2164h0M675 2163h0M988 2602h0M1535 2584h0M832 2147h0M775 2598h0M816 2613h0M1441 2626h0M1202 2113h0M1022 2163h0M1318 2668h0M1497 2623h0M1598 2534h0M478 2594h0M1378 2114h0M452 2598h0M935 2163h0M545 2614h0M1175 2136h0M1396 2644h0M1608 2509h0M1084 2142h0M1530 2235h0M637 2168h0M962 2128h0M641 2600h0M1061 2620h0M822 2604h0M946 2165h0"/><path stroke="#00c4ff" d="M306 2252h0M529 2248h0M444 2257h0M1550 2499h0M1481 2279h0M1591 2440h0M719 2261h0M1084 2524h0M906 2506h0M482 2499h0M812 2263h0M1017 2260h0M1475 2536h0M1606 2374h0M1105 2523h0M1377 2511h0M1043 2252h0M1236 2515h0M1068 2524h0M1160 2238h0M1218 2532h0M692 2260h0M1434 2270h0M1572 2451h0M599 2521h0M1263 2519h0M816 2249h0M793 2513h0M849 2257h0M667 2512h0M1086 2247h0M570 2250h0M829 2516h0M1244 2533h0M1402 2517h0M827 2527h0M1257 2539h0M1602 2422h0M743 2493h0M1354 2221h0M579 2255h0M991 2266h0M1175 2245h0M1371 2247h0M819 2494h0M1285 2204h0M1563 2338h0M585 2266h0M1582 2447h0M650 2505h0M1223 2516h0M923 2251h0M1210 2233h0M1122 2516h0M1581 2377h0M1247 2536h0M1188 2531h0M627 2502h0M763 2252h0M1603 2371h0M1419 2545h0M1526 2497h0M949 2505h0M414 2509h0M1617 2412h0M1596 2376h0M1049 2516h0M361 2497h0M628 2507h0M397 2267h0M298 2510h0M746 2272h0M1258 2229h0M1596 2449h0M483 2273h0M1163 2256h0M799 2517h0M546 2532h0M1604 2359h0M787 2264h0M664 2517h0M1169 2526h0M396 2504h0M1000 2243h0M1099 2253h0M345 2261h0M1169 2236h0M1488 2513h0M1461 2278h0M812 2514h0M1258 2210h0M967 2505h0"/><path stroke="#b8ff47" d="M825 2405h0M683 2416h0M715 2382h0M538 2423h0M857 2402h0M742 2355h0M575 2413h0M513 2425h0M445 2419h0M674 2376h0M746 2401h0M1132 2375h0M930 2419h0M480 2341h0M870 2395h0M1122 2411h0M392 2321h0M919 2373h0M676 2427h0M495 2431h0M596 2408h0M732 2377h0M622 2361h0M344 2442h0M672 2404h0M666 2411h0M922 2409h0M846 2373h0M628 2341h0M630 2378h0M312 2431h0M1091 2407h0M340 2430h0M360 2430h0M672 2396h0M665 2367h0M679 2404h0M673 2392h0M1208 2410h0M578 2438h0M889 2405h0M602 2401h0M1139 2380h0M726 2420h0M859 2368h0M1021 2401h0M600 2349h0M858 2382h0M970 2389h0M470 2414h0M475 2344h0M811 2368h0M630 2361h0M1107 2414h0M796 2359h0M952 2395h0M590 2367h0M535 2364h0M582 2388h0M756 2390h0M834 2377h0M887 2350h0M899 2415h0M623 2388h0"/><path stroke="#0033ff" d="M1095 2594h0M1663 2372h0M718 2612h0M750 2590h0M1126 2137h0M508 2183h0M712 2164h0M338 2583h0M1594 2533h0M1459 2187h0M1612 2502h0M409 2206h0M1034 2591h0M437 2583h0M722 2603h0M1524 2238h0M540 2170h0M298 2171h0M992 2609h0M881 2148h0M1219 2638h0M1392 2156h0M1379 2628h0M1483 2590h0M844 2168h0M1339 2100h0M418 2587h0M1419 2631h0M1327 2619h0M1074 2617h0M1154 2614h0M849 2172h0M444 2167h0M549 2192h0M1283 2080h0M535 2599h0M1385 2612h0M567 2168h0M1224 2629h0M1562 2556h0M297 2609h0M1467 2612h0M794 2161h0M1151 2129h0M700 2154h0M1363 2123h0M873 2177h0M1019 2606h0M1376 2143h0M836 2182h0M1238 2638h0M923 2608h0M443 2605h0M808 2155h0M332 2164h0M1362 2115h0M953 2614h0M1491 2225h0M1115 2177h0M1555 2276h0M793 2176h0M1055 2596h0M1656 2402h0M1481 2238h0M504 2606h0M1300 2101h0M842 2602h0M1291 2090h0M953 2156h0M1007 2173h0M831 2171h0M499 2183h0M902 2631h0M762 2174h0M1247 2099h0M450 2205h0M1579 2536h0M709 2601h0M514 2153h0M962 2606h0M442 2158h0M1015 2614h0M462 2161h0M1129 2626h0M431 2591h0M1354 2636h0M1290 2642h0M1216 2095h0M1040 2164h0M1281 2094h0M347 2166h0M1209 2640h0M960 2583h0M1504 2597h0M679 2581h0M1423 2649h0M1154 2652h0M1202 2118h0M1031 2153h0M777 2604h0M1108 2156h0M1625 2477h0M1232 2133h0M1156 2140h0M390 2187h0M1378 2640h0M1340 2129h0M1330 2106h0M328 2602h0M314 2227h0M1212 2623h0M1218 2626h0M1071 2144h0M863 2598h0M329 2159h0M632 2172h0M468 2154h0M654 2600h0M1434 2628h0M865 2181h0M1335 2111h0M1147 2645h0M1171 2628h0M748 2590h0M1477 2621h0"/><path stroke="#f9ff06" d="M374 2420h0M419 2412h0M462 2412h0M482 2380h0M457 2409h0M449 2400h0M331 2407h0M465 2375h0M414 2354h0M430 2393h0M411 2408h0"/><path stroke="#67ff98" d="M987 2439h0M1231 2449h0M1329 2352h0M694 2333h0M680 2463h0M701 2443h0M661 2318h0M799 2326h0M1287 2452h0M680 2442h0M659 2436h0M295 2455h0M1385 2341h0M638 2461h0M942 2449h0M1270 2454h0M494 2323h0M1323 2449h0M314 2311h0M1351 2431h0M1212 2319h0M707 2423h0M1303 2442h0M311 2316h0M1367 2418h0M1409 2345h0M463 2453h0M1254 2312h0M1121 2381h0M593 2319h0M945 2313h0M1203 2306h0M1119 2352h0M902 2319h0M540 2315h0M1183 2335h0M1307 2351h0M963 2462h0M1251 2311h0M1180 2452h0M1038 2440h0M886 2343h0M667 2456h0M1406 2410h0M1330 2370h0M1329 2394h0M1198 2428h0M1306 2427h0M505 2448h0M459 2313h0M1332 2375h0M738 2324h0M634 2463h0M472 2425h0M716 2446h0M1170 2462h0M1065 2444h0M627 2316h0M299 2319h0M1191 2444h0M406 2457h0M1171 2331h0M956 2439h0M701 2310h0M555 2454h0M1162 2455h0M1450 2469h0M1075 2322h0M463 2304h0M1278 2408h0M497 2453h0M1208 2460h0M1100 2468h0M392 2450h0M832 2457h0M700 2338h0M824 2443h0M1006 2319h0M807 2430h0M1379 2381h0M682 2326h0M1074 2421h0M1023 2329h0M793 2449h0M1343 2428h0M953 2314h0M1344 2375h0M1226 2455h0M1393 2386h0M1337 2389h0M881 2442h0M1208 2457h0M738 2428h0M807 2461h0M911 2319h0M1247 2434h0M1284 2400h0M919 2313h0M438 2430h0M727 2326h0M1246 2327h0"/><path stroke="#0012ff" d="M395 2169h0M1215 2097h0M873 2149h0M1367 2117h0M1028 2153h0M986 2623h0M1124 2119h0M1328 2080h0M1435 2639h0M517 2168h0M879 2142h0M543 2625h0M431 2618h0M966 2616h0M1576 2295h0M1003 2624h0M1524 2613h0M906 2138h0M984 2142h0M631 2615h0M682 2608h0M1590 2295h0M977 2606h0M686 2144h0M1302 2648h0M1431 2651h0M432 2614h0M679 2139h0M1411 2664h0M961 2146h0M1227 2079h0M623 2143h0M728 2598h0M702 2609h0M799 2612h0M1462 2652h0M1388 2109h0M612 2158h0M1486 2205h0M995 2148h0M411 2161h0M1003 2613h0M1531 2254h0M684 2591h0M1017 2127h0M1352 2093h0M748 2633h0M568 2616h0M1483 2205h0M1240 2093h0M464 2579h0M801 2627h0M737 2624h0M1362 2066h0M655 2615h0M784 2616h0M1512 2620h0M1031 2641h0M1250 2665h0M318 2168h0M1418 2141h0M1579 2555h0M729 2157h0M640 2606h0M1003 2127h0M1355 2647h0M405 2141h0M980 2146h0M515 2174h0M1251 2079h0M976 2628h0M449 2615h0M1519 2244h0M1305 2107h0M853 2144h0M1279 2632h0M1512 2603h0M1188 2108h0M1523 2231h0M391 2153h0M480 2617h0M384 2613h0M1303 2070h0M1042 2144h0M627 2591h0M1043 2129h0M1168 2637h0M1049 2133h0M1447 2639h0M560 2184h0M885 2615h0M1342 2108h0M1201 2106h0M1317 2082h0M1332 2095h0M465 2624h0M646 2176h0M924 2610h0M664 2155h0M609 2614h0M1088 2136h0M849 2621h0M973 2141h0M1541 2574h0M1318 2651h0M323 2151h0M1418 2661h0M489 2605h0M411 2142h0M1034 2134h0M617 2613h0M1041 2637h0M1170 2127h0M954 2605h0M1602 2519h0M1506 2612h0M652 2624h0M372 2617h0M1153 2105h0M1377 2661h0M404 2130h0M1543 2259h0M516 2601h0M1627 2331h0M377 2621h0M340 2616h0M958 2616h0M1337 2661h0M1003 2158h0"/><path stroke="#88ff77" d="M833 2427h0M452 2429h0M412 2329h0M833 2361h0M850 2428h0M1198 2364h0M864 2349h0M864 2368h0M670 2349h0M1279 2380h0M1207 2333h0M332 2319h0M959 2358h0M755 2350h0M1129 2341h0M558 2339h0M1039 2433h0M724 2410h0M410 2441h0M736 2338h0M1273 2367h0M491 2436h0M795 2432h0M775 2345h0M668 2436h0M652 2370h0M913 2435h0M474 2430h0M724 2374h0M1130 2416h0M1056 2335h0M1234 2358h0M904 2349h0M726 2347h0M1123 2436h0M1140 2392h0M536 2335h0M1110 2369h0M522 2442h0M871 2407h0M1036 2347h0M839 2405h0M711 2407h0M1116 2377h0M1234 2320h0M1047 2350h0M716 2358h0M611 2422h0M602 2343h0M537 2446h0M1271 2417h0M1000 2318h0M1107 2354h0M1257 2420h0M731 2429h0M999 2414h0M777 2389h0M836 2418h0M1266 2330h0M319 2433h0M370 2454h0M1032 2360h0M751 2327h0M1146 2438h0M452 2333h0M1102 2440h0M1047 2421h0M736 2445h0M900 2404h0M649 2319h0M1010 2409h0M1058 2379h0M479 2446h0M1199 2403h0M1211 2341h0M1345 2363h0M1152 2353h0M1078 2353h0M1050 2428h0M396 2426h0M722 2333h0M616 2424h0M1082 2439h0M1314 2397h0M527 2332h0M1088 2392h0M1073 2339h0M1017 2414h0M1086 2365h0M304 2438h0M854 2451h0M1207 2427h0M739 2329h0M1284 2390h0M1241 2411h0M296 2337h0M1300 2404h0M902 2370h0M720 2363h0M971 2316h0M423 2336h0M652 2437h0M1033 2333h0M1058 2415h0M1136 2354h0M1202 2407h0M816 2354h0M476 2442h0M1011 2362h0M358 2455h0M766 2424h0M388 2319h0M524 2325h0"/><path stroke="#00d4ff" d="M1577 2453h0M908 2261h0M888 2248h0M863 2263h0M512 2504h0M307 2486h0M1078 2258h0M704 2494h0M855 2262h0M642 2504h0M1561 2443h0M491 2503h0M1114 2260h0M691 2255h0M369 2495h0M1612 2430h0M1008 2511h0M524 2513h0M479 2265h0M1129 2523h0M690 2509h0M1311 2214h0M754 2510h0M1550 2485h0M720 2499h0M1388 2249h0M553 2264h0M616 2514h0M1243 2246h0M463 2265h0M704 2497h0M1626 2376h0M610 2267h0M539 2264h0M1116 2251h0M973 2276h0M1364 2247h0M1318 2507h0M563 2516h0M1171 2518h0M1342 2238h0M1008 2506h0M1236 2238h0M1130 2256h0M705 2272h0M983 2263h0M1554 2423h0M384 2255h0M343 2268h0M340 2510h0M1200 2520h0M431 2490h0M663 2265h0M1196 2246h0M1129 2531h0M1582 2458h0M334 2495h0M1305 2508h0M779 2263h0M1168 2251h0M1105 2255h0M1572 2418h0M1279 2526h0M1192 2237h0M1223 2255h0M1378 2256h0M696 2494h0M894 2262h0M492 2269h0M712 2489h0M1396 2530h0M1598 2408h0M434 2266h0M1091 2251h0M1045 2262h0M1052 2250h0M1323 2240h0M1475 2518h0M1406 2254h0M388 2505h0"/><path stroke="#0002ff" d="M1544 2594h0M364 2623h0M1414 2670h0M1514 2227h0M1225 2636h0M832 2129h0M1028 2648h0M774 2638h0M840 2633h0M1442 2658h0M1454 2637h0M1126 2103h0M379 2611h0M1449 2163h0M1076 2131h0M1537 2239h0M784 2141h0M1127 2130h0M344 2613h0M966 2139h0M397 2132h0M1257 2076h0M1395 2660h0M396 2147h0M1534 2598h0M563 2622h0M1304 2048h0M1263 2646h0M1209 2668h0M1553 2263h0M1308 2669h0M1211 2080h0M1421 2131h0M342 2628h0M1103 2628h0M1440 2156h0M1292 2658h0M1527 2608h0M1504 2604h0M322 2620h0M1310 2084h0M1456 2660h0M652 2614h0M1103 2633h0M514 2629h0M1361 2083h0M571 2633h0M1066 2652h0M1232 2095h0M1610 2311h0M696 2138h0M1454 2156h0M1287 2078h0M723 2169h0M737 2137h0M1104 2646h0M913 2619h0M706 2617h0M1496 2637h0M1658 2351h0M1409 2135h0M1484 2189h0M1195 2647h0M1495 2646h0M1606 2521h0M646 2140h0M1044 2610h0M1198 2664h0M910 2634h0M723 2138h0M1080 2121h0M402 2171h0M432 2156h0M761 2609h0M1204 2654h0M1166 2117h0M1176 2118h0M1057 2637h0M601 2173h0M582 2617h0M1297 2064h0M1480 2639h0M910 2155h0M554 2633h0"/><path stroke="#0073ff" d="M1341 2570h0M1150 2588h0M621 2545h0M1007 2542h0M714 2218h0M539 2574h0M465 2198h0M1298 2158h0M1091 2561h0M1137 2550h0M1316 2547h0M802 2563h0M1264 2165h0M667 2222h0M356 2215h0M1033 2553h0M891 2190h0M1417 2203h0M593 2542h0M658 2199h0M930 2191h0M323 2200h0M959 2552h0M1103 2220h0M1219 2579h0M859 2554h0M816 2543h0M1488 2582h0M1020 2543h0M1084 2568h0M1136 2201h0M1294 2172h0M442 2559h0M646 2241h0M1318 2564h0M624 2555h0M779 2556h0M896 2559h0M710 2195h0M1248 2555h0M1264 2173h0M775 2527h0M1153 2537h0M1410 2587h0M1411 2194h0M986 2551h0M1361 2568h0M1139 2219h0M1488 2264h0M1351 2182h0M1464 2585h0M795 2212h0M1353 2178h0M1644 2387h0M1568 2465h0M447 2223h0M1481 2234h0M375 2183h0M703 2204h0M1126 2205h0M599 2564h0M729 2533h0M1114 2192h0M580 2545h0M1358 2152h0M1083 2210h0M714 2209h0M852 2226h0M918 2557h0M1096 2569h0M1636 2462h0M834 2228h0M914 2540h0M582 2561h0M730 2540h0M1238 2565h0M1635 2448h0M1000 2555h0M1398 2588h0M483 2218h0M860 2208h0M298 2222h0M1330 2147h0M810 2231h0M1234 2185h0M330 2224h0M1259 2605h0M1308 2176h0M456 2562h0M1240 2194h0M1300 2557h0M1560 2524h0M1600 2323h0M803 2575h0M895 2201h0M443 2190h0M1232 2570h0M780 2193h0M1082 2586h0M427 2178h0M514 2560h0M1087 2179h0M1172 2213h0M1284 2559h0M1627 2440h0M1239 2142h0M875 2536h0M1376 2174h0M487 2541h0M972 2572h0M584 2205h0M558 2220h0M979 2215h0M330 2214h0M769 2230h0M398 2209h0M826 2202h0M307 2556h0M1407 2181h0M884 2199h0M388 2218h0M1065 2546h0M1203 2176h0M1190 2567h0M1289 2147h0M624 2552h0M1263 2127h0M1083 2223h0M1528 2536h0M1408 2221h0M323 2226h0M318 2219h0M1174 2589h0M605 2549h0M761 2214h0M763 2543h0M300 2535h0M1414 2558h0M346 2559h0M1457 2239h0M810 2534h0M1503 2570h0M626 2186h0M1076 2163h0M586 2232h0M369 2551h0M1159 2187h0M1240 2179h0M1344 2132h0M1456 2577h0M624 2221h0M1419 2574h0M1528 2525h0M1513 2583h0M1388 2554h0M570 2569h0M1191 2595h0M352 2235h0M1307 2623h0M1003 2210h0M991 2549h0M769 2571h0M948 2571h0M940 2182h0M808 2209h0M630 2545h0M454 2242h0M840 2543h0M1110 2173h0"/><path stroke="#00b4ff" d="M1226 2522h0M843 2517h0M926 2509h0M1199 2227h0M606 2258h0M446 2509h0M1377 2532h0M1540 2501h0M705 2252h0M546 2506h0M1208 2225h0M1273 2198h0M1247 2530h0M1602 2441h0M958 2231h0M1360 2532h0M1187 2533h0M761 2256h0M1343 2534h0M331 2523h0M303 2511h0M347 2517h0M796 2252h0M1591 2364h0M669 2510h0M416 2513h0M752 2504h0M428 2516h0M852 2513h0M1001 2267h0M1256 2214h0M577 2250h0M1236 2226h0M978 2246h0M892 2523h0M738 2517h0M1097 2238h0M1028 2535h0M1609 2419h0M1275 2543h0M651 2251h0M758 2275h0M1406 2542h0M898 2253h0M601 2266h0M1016 2527h0M702 2259h0M581 2512h0M747 2256h0M780 2245h0M758 2515h0M751 2247h0M569 2507h0M1203 2239h0M390 2245h0M943 2239h0M935 2232h0M1576 2456h0M1432 2524h0M1010 2520h0M408 2258h0M1263 2541h0M1002 2246h0M1254 2201h0M823 2512h0M1390 2538h0M647 2517h0M990 2515h0M438 2251h0M641 2254h0M1415 2245h0M1044 2513h0M1299 2532h0M879 2524h0M351 2507h0M1176 2224h0M800 2259h0M1113 2231h0M1162 2539h0M1582 2468h0M1175 2530h0M463 2511h0M537 2507h0M940 2510h0M1617 2430h0M1514 2511h0M1428 2549h0M769 2510h0M1543 2495h0M1157 2529h0M1238 2221h0M596 2497h0"/><path stroke="#77ff88" d="M1215 2428h0M958 2310h0M1148 2343h0M1398 2358h0M872 2349h0M1228 2421h0M1095 2344h0M1168 2343h0M1042 2326h0M564 2450h0M992 2434h0M944 2430h0M1026 2446h0M925 2326h0M934 2441h0M955 2429h0M1052 2320h0M412 2324h0M819 2437h0M1247 2404h0M896 2368h0M1290 2304h0M1288 2391h0M945 2319h0M968 2334h0M1048 2451h0M664 2443h0M510 2455h0M1114 2322h0M679 2334h0M1041 2332h0M1049 2378h0M886 2438h0M695 2362h0M840 2329h0M1102 2448h0M768 2438h0M1074 2407h0M1150 2320h0M1199 2434h0M1138 2449h0M761 2351h0M1283 2420h0M345 2450h0M450 2323h0M897 2329h0M487 2322h0M414 2440h0M1272 2375h0M448 2317h0M1231 2438h0M660 2451h0M1322 2407h0M1226 2288h0M1177 2420h0M978 2439h0M1304 2385h0M633 2457h0M898 2426h0M602 2325h0M885 2306h0M719 2425h0M1339 2367h0M1027 2337h0M1248 2354h0M1276 2358h0M976 2317h0M1199 2344h0M1138 2369h0M1241 2432h0M1252 2422h0M1184 2343h0M1192 2348h0M744 2320h0M1148 2360h0M325 2458h0M1196 2430h0M1105 2416h0M744 2437h0M1063 2325h0M1187 2357h0M1117 2334h0M1099 2334h0M457 2317h0M793 2318h0M888 2309h0M1343 2395h0M1218 2337h0M498 2441h0M1271 2424h0M1388 2410h0M403 2321h0M748 2317h0M1097 2451h0M681 2424h0M462 2324h0M1345 2389h0M803 2431h0M559 2431h0M975 2335h0M930 2401h0M746 2450h0M909 2373h0M553 2346h0M571 2441h0M1284 2340h0M1251 2319h0M786 2337h0M1087 2331h0M849 2434h0M1297 2338h0M1385 2376h0"/><path stroke="#0000b0" d="M334 2636h0M1467 2164h0M606 2638h0M1531 2622h0"/><path stroke="#0084ff" d="M1314 2180h0M887 2543h0M741 2211h0M1137 2548h0M325 2239h0M884 2566h0M759 2560h0M1592 2331h0M769 2541h0M415 2200h0M323 2552h0M692 2232h0M946 2216h0M440 2562h0M1014 2559h0M1143 2548h0M355 2548h0M834 2533h0M675 2235h0M1059 2573h0M464 2230h0M1220 2178h0M1503 2538h0M1304 2588h0M990 2195h0M335 2203h0M746 2228h0M1624 2350h0M530 2563h0M868 2537h0M1053 2542h0M1427 2235h0M321 2555h0M855 2217h0M1262 2582h0M965 2204h0M862 2557h0M422 2212h0M750 2547h0M511 2231h0M1331 2166h0M1582 2486h0M1171 2206h0M1123 2200h0M1227 2569h0M1196 2551h0M762 2190h0M1048 2588h0M450 2199h0M491 2225h0M308 2548h0M440 2552h0M1280 2200h0M1215 2194h0M316 2524h0M1233 2196h0M1236 2604h0M1351 2199h0M724 2225h0M1188 2581h0M938 2532h0M458 2214h0M1552 2529h0M1425 2578h0M1019 2553h0M787 2529h0M895 2549h0M1066 2206h0M1288 2551h0M1310 2565h0M865 2225h0M631 2558h0M993 2221h0M1434 2218h0M790 2531h0M958 2521h0M1270 2155h0M785 2212h0M435 2539h0M1374 2210h0M464 2539h0M1366 2210h0M1482 2564h0M1131 2554h0M1623 2464h0M1603 2467h0M1096 2164h0M459 2530h0M1076 2583h0M806 2218h0M1290 2181h0M1074 2561h0M961 2535h0M456 2533h0M856 2569h0M1493 2536h0M920 2241h0M1510 2547h0M666 2554h0M904 2545h0M588 2227h0M1035 2544h0M672 2515h0M1483 2546h0M1447 2573h0M586 2529h0M659 2228h0M1388 2567h0M801 2224h0M660 2533h0M452 2543h0M505 2259h0M1074 2592h0M1612 2360h0M962 2223h0M1168 2159h0M1009 2218h0M714 2540h0M1227 2164h0M726 2589h0M1568 2527h0M442 2199h0M681 2203h0M1148 2178h0M1462 2572h0M1039 2228h0M310 2215h0M1112 2530h0M1488 2267h0M415 2547h0M343 2234h0M971 2225h0M928 2572h0M419 2541h0M680 2214h0M710 2551h0M1546 2531h0M447 2558h0M691 2234h0M742 2517h0M1078 2536h0M794 2550h0M650 2581h0M1314 2197h0M1256 2157h0M695 2235h0M1407 2566h0M340 2551h0M864 2568h0M1103 2210h0M834 2233h0M1364 2187h0M1391 2195h0M1594 2479h0M1279 2575h0M539 2555h0M841 2228h0M600 2202h0M371 2215h0M644 2191h0M1560 2307h0M1154 2573h0M1274 2211h0M1047 2185h0M1043 2191h0M1524 2523h0M572 2216h0M1531 2300h0"/><path stroke="#06fff9" d="M1566 2401h0M1246 2258h0M1223 2252h0M1231 2268h0M862 2282h0M1342 2490h0M1506 2420h0M1055 2277h0M723 2481h0M824 2484h0M946 2291h0M1038 2495h0M476 2496h0M582 2483h0M691 2488h0M802 2487h0M1380 2275h0M1215 2492h0M1540 2399h0M1031 2275h0M326 2276h0M367 2288h0M1460 2304h0M1107 2285h0M1440 2451h0M1503 2403h0M945 2284h0M1294 2260h0M1452 2495h0M1476 2317h0M1498 2470h0M550 2286h0M304 2278h0M839 2277h0M418 2493h0M678 2482h0M1422 2479h0M1420 2495h0M1107 2505h0M1536 2349h0M643 2286h0M823 2495h0M1453 2453h0M311 2287h0M656 2275h0M561 2282h0M1456 2473h0M1283 2242h0M968 2284h0M923 2287h0M1243 2255h0M450 2486h0M1462 2495h0M796 2487h0M1419 2475h0M659 2284h0M1392 2521h0M568 2472h0M1551 2366h0M853 2283h0M1111 2270h0M584 2280h0M346 2491h0M1278 2495h0M1396 2304h0M1452 2333h0M528 2496h0M1554 2410h0M1089 2493h0M1417 2274h0M1300 2507h0M1443 2503h0M593 2481h0M1400 2506h0M947 2489h0M1550 2378h0M1494 2495h0M1392 2476h0M1475 2327h0M623 2295h0M902 2487h0M530 2291h0M1482 2344h0M789 2273h0M470 2275h0M1174 2494h0M1350 2496h0M1144 2263h0M1401 2467h0M607 2485h0M889 2481h0M1219 2503h0M1115 2478h0M484 2481h0M1494 2455h0M708 2282h0M1514 2328h0M1169 2475h0M1525 2398h0M442 2292h0M668 2479h0M1533 2452h0M1312 2268h0M1388 2271h0M972 2278h0M868 2491h0M1135 2280h0M1407 2495h0M1220 2241h0M764 2491h0M948 2481h0M470 2489h0M312 2487h0M927 2500h0M1443 2341h0M1444 2494h0M922 2280h0M1273 2509h0M1475 2499h0M1427 2355h0"/><path stroke="#ffe500" d="M311 2397h0M343 2359h0M331 2357h0M318 2375h0M302 2382h0M375 2406h0"/><path stroke="#ffd500" d="M439 2386h0M344 2399h0M366 2413h0M382 2395h0M369 2351h0M356 2361h0M384 2361h0M295 2373h0M298 2380h0M397 2404h0M324 2394h0M306 2376h0M382 2364h0M313 2378h0"/><path stroke="#98ff67" d="M842 2434h0M790 2420h0M697 2392h0M1097 2380h0M1112 2387h0M355 2319h0M1192 2371h0M1238 2343h0M1156 2370h0M1041 2344h0M1002 2406h0M960 2396h0M1024 2420h0M1182 2397h0M997 2355h0M1312 2366h0M934 2409h0M697 2411h0M455 2437h0M1243 2421h0M1185 2437h0M597 2430h0M1095 2428h0M827 2396h0M1179 2369h0M1112 2400h0M1142 2349h0M640 2395h0M585 2435h0M806 2371h0M805 2336h0M707 2429h0M1150 2446h0M823 2410h0M659 2414h0M1115 2346h0M1030 2350h0M1066 2367h0M919 2412h0M572 2332h0M868 2384h0M1242 2403h0M1188 2406h0M1122 2341h0M1127 2393h0M1012 2354h0M1041 2388h0M515 2441h0M857 2425h0M1096 2403h0M801 2434h0M1023 2375h0M783 2344h0M811 2435h0M1186 2394h0M1067 2357h0M755 2437h0M988 2367h0M1253 2377h0M574 2333h0M942 2437h0M1055 2347h0M936 2419h0M898 2377h0M927 2354h0M371 2312h0M887 2393h0M1289 2402h0M442 2435h0M951 2323h0M1126 2412h0M1257 2437h0M739 2432h0M646 2324h0M998 2376h0M358 2320h0M1137 2359h0M687 2413h0M479 2326h0M964 2433h0M946 2335h0M674 2331h0M619 2442h0M923 2379h0M847 2332h0M635 2332h0M1191 2356h0M583 2413h0M1272 2382h0M902 2427h0M951 2409h0M1211 2442h0M958 2338h0M1294 2394h0M1231 2364h0M523 2428h0M779 2399h0M1086 2350h0M1147 2395h0M904 2420h0M569 2434h0M767 2416h0M1000 2363h0M1293 2360h0M782 2373h0M979 2448h0M1210 2365h0M775 2385h0M519 2432h0M1032 2409h0M418 2436h0M482 2345h0M737 2388h0M322 2333h0M743 2414h0M604 2421h0M1014 2354h0M1247 2417h0M1009 2413h0"/><path stroke="#0063ff" d="M1446 2200h0M716 2181h0M508 2580h0M762 2587h0M1262 2609h0M775 2200h0M1215 2569h0M387 2550h0M862 2554h0M1425 2559h0M1217 2603h0M592 2185h0M564 2192h0M354 2565h0M874 2181h0M667 2226h0M1022 2219h0M1015 2572h0M914 2564h0M1111 2584h0M1497 2565h0M954 2188h0M839 2567h0M435 2184h0M519 2207h0M886 2186h0M1422 2620h0M660 2564h0M1004 2192h0M721 2567h0M625 2216h0M651 2539h0M929 2220h0M915 2547h0M1158 2171h0M962 2216h0M779 2185h0M1438 2223h0M1474 2591h0M1230 2158h0M1343 2166h0M1200 2148h0M809 2572h0M578 2223h0M1252 2599h0M614 2568h0M890 2220h0M1039 2544h0M324 2185h0M1514 2248h0M303 2573h0M982 2225h0M567 2553h0M963 2578h0M1529 2281h0M458 2550h0M801 2555h0M1063 2575h0M324 2187h0M1114 2578h0M715 2201h0M871 2202h0M985 2583h0M1412 2581h0M1019 2195h0M1300 2588h0M921 2220h0M1355 2566h0M1180 2146h0M1375 2152h0M483 2561h0M620 2573h0M758 2198h0M1185 2567h0M1527 2284h0M324 2566h0M1210 2174h0M1034 2207h0M764 2227h0M926 2553h0M1359 2575h0M1076 2193h0M1169 2153h0M1335 2592h0M1322 2622h0M1252 2163h0M1062 2594h0M1601 2335h0M346 2546h0M1473 2542h0M596 2557h0M1518 2559h0M1176 2207h0M1172 2190h0M470 2549h0M786 2552h0M903 2568h0M1115 2573h0M1373 2159h0M1312 2106h0M1386 2198h0M483 2571h0M727 2224h0M695 2576h0M1555 2533h0M1447 2593h0M1327 2584h0M1444 2212h0M746 2556h0M489 2543h0M1292 2559h0M1082 2203h0M507 2219h0M796 2184h0M1336 2576h0M1265 2143h0M886 2592h0M723 2556h0M1032 2226h0M1577 2527h0M1467 2224h0M1194 2163h0M755 2208h0M1636 2350h0M627 2577h0M1342 2615h0M1191 2154h0M1182 2178h0M703 2567h0M650 2563h0M1417 2187h0M778 2552h0M1211 2119h0M775 2215h0M1298 2190h0M1303 2591h0M1668 2392h0M558 2210h0M1288 2603h0M644 2573h0M1446 2218h0M1451 2208h0M334 2199h0M516 2218h0M704 2217h0M555 2199h0M1108 2172h0M1131 2197h0M1023 2238h0M634 2200h0M335 2526h0M1043 2573h0M298 2211h0M1420 2178h0M434 2209h0M990 2577h0M678 2564h0M961 2170h0M1320 2585h0M364 2582h0M798 2546h0M851 2198h0M1428 2202h0M418 2572h0M1123 2173h0M859 2586h0M1424 2607h0M910 2189h0M1183 2602h0M922 2196h0M818 2190h0M1137 2592h0M483 2584h0M1392 2574h0M1233 2593h0M1519 2541h0M1043 2569h0M1312 2150h0M1114 2201h0M1324 2140h0M378 2566h0M1222 2597h0M697 2562h0M468 2189h0M350 2208h0M1092 2590h0M1136 2186h0M1395 2566h0M1288 2615h0M1254 2154h0M1073 2176h0M597 2548h0M850 2193h0M1286 2571h0M312 2574h0M1560 2539h0M1158 2573h0M1494 2605h0M527 2194h0"/><path stroke="#00e5ff" d="M562 2482h0M489 2280h0M1331 2513h0M628 2486h0M1059 2269h0M1394 2252h0M1584 2382h0M806 2270h0M387 2483h0M1314 2238h0M929 2264h0M462 2488h0M1543 2413h0M1522 2310h0M466 2271h0M1241 2231h0M520 2492h0M1355 2516h0M829 2499h0M350 2505h0M776 2490h0M1341 2524h0M1271 2239h0M1332 2275h0M1561 2367h0M515 2273h0M1224 2237h0M1410 2258h0M1560 2411h0M413 2272h0M552 2276h0M304 2503h0M723 2490h0M311 2266h0M665 2267h0M896 2278h0M399 2496h0M1041 2523h0M1001 2260h0M560 2494h0M1266 2230h0M1447 2278h0M1251 2545h0M945 2500h0M1554 2455h0M771 2498h0M1456 2501h0M528 2492h0M1355 2513h0M1192 2253h0M896 2492h0M1504 2502h0M1073 2508h0M1395 2513h0M1185 2261h0M1345 2515h0M1408 2523h0M854 2269h0M1106 2260h0M321 2487h0M1436 2511h0M1167 2496h0M1456 2514h0M402 2253h0M1246 2230h0M1575 2419h0M551 2506h0M1047 2271h0M1415 2516h0M433 2276h0M407 2279h0M612 2281h0M456 2271h0M1423 2281h0M916 2286h0M799 2268h0M343 2484h0M1030 2282h0M434 2505h0M747 2503h0M819 2507h0M702 2519h0M1384 2511h0M1367 2510h0M1335 2243h0M1102 2515h0M342 2480h0M1088 2509h0M1238 2500h0M496 2267h0M422 2263h0M1291 2239h0M1473 2287h0M1528 2485h0M947 2496h0M1490 2485h0M1377 2522h0M1143 2513h0M1369 2267h0M1446 2285h0M1248 2506h0M696 2503h0M1162 2511h0M1562 2416h0"/><path stroke="#00a4ff" d="M1263 2557h0M862 2240h0M1275 2197h0M731 2524h0M891 2253h0M494 2520h0M1232 2574h0M867 2521h0M1303 2561h0M627 2241h0M1332 2537h0M1563 2435h0M1118 2224h0M1225 2538h0M1074 2242h0M657 2548h0M1081 2229h0M1567 2492h0M748 2548h0M1621 2462h0M422 2557h0M801 2526h0M1144 2571h0M1627 2423h0M1622 2356h0M1337 2549h0M1319 2539h0M1634 2388h0M1251 2204h0M1570 2312h0M1505 2287h0M605 2243h0M1464 2270h0M1457 2561h0M297 2520h0M1409 2234h0M1073 2520h0M689 2524h0M1097 2521h0M1379 2228h0M1455 2255h0M1046 2523h0M435 2517h0M1014 2243h0M566 2522h0M447 2243h0M1585 2480h0M1146 2231h0M343 2248h0M881 2239h0M1121 2245h0M683 2498h0M1130 2549h0M699 2518h0M404 2518h0M946 2542h0M520 2550h0M1620 2361h0M682 2224h0M1522 2303h0M1028 2523h0M915 2239h0M1578 2474h0M1522 2516h0M364 2528h0M421 2252h0M1474 2279h0M1594 2473h0M1326 2568h0M873 2232h0M304 2244h0M408 2243h0M698 2253h0M836 2242h0M1476 2550h0M1088 2515h0M350 2516h0M1323 2526h0M369 2515h0M1177 2543h0M633 2533h0M1568 2327h0M535 2250h0M318 2253h0M1598 2478h0M1426 2245h0M449 2253h0M1066 2241h0M1052 2199h0M620 2254h0M1177 2554h0M1231 2552h0M415 2552h0M1318 2207h0M491 2250h0M1434 2582h0M946 2520h0M956 2223h0M560 2523h0M689 2247h0M1500 2272h0M711 2244h0M355 2226h0M1278 2537h0M1572 2473h0M1152 2545h0M1089 2535h0M1343 2224h0M606 2509h0M1342 2171h0M428 2539h0M804 2248h0M1359 2553h0M1350 2546h0"/><path stroke="#000080" d="M1245 1959h0M670 2103h0M584 2671h0M1187 2676h0M1247 2003h0M1022 2698h0M1055 2107h0M832 2677h0M908 2718h0M661 2770h0M1618 2706h0M764 2117h0M1126 1881h0M375 2686h0M1375 2818h0M514 2118h0M970 2056h0M1567 2709h0M435 2681h0M756 2083h0M1568 2611h0M771 2648h0M1252 2772h0M1325 2047h0M1324 2748h0M401 2078h0M1126 2692h0M1450 2103h0M1531 2226h0M1121 2740h0M1441 2090h0M1458 2103h0M1154 2069h0M778 2720h0M731 1997h0M456 2688h0M648 2986h0M1256 2006h0M1122 2050h0M943 2062h0M1403 2051h0M1439 2698h0M1276 2718h0M476 2122h0M1259 2776h0M938 2842h0M503 2658h0M1285 2027h0M1374 2067h0M788 2654h0M1268 2014h0M1067 2690h0M468 2090h0M1417 2692h0M1447 2131h0M922 2077h0M647 2118h0M1160 2055h0M1530 2776h0M1100 2795h0M633 2825h0M592 2646h0M1576 2626h0M1216 2059h0M691 2115h0M413 2068h0M1422 2102h0M1087 2070h0M1040 2731h0M383 2655h0M880 2114h0M948 2694h0M1002 2087h0M945 2653h0M814 2658h0M1186 1931h0M1140 2675h0M904 2111h0M431 2699h0M586 2056h0M1614 2659h0M772 2078h0M299 2640h0M659 2654h0M1468 2162h0M1530 2668h0M373 1924h0M1419 2772h0M1579 2607h0M1063 2061h0M852 2650h0M553 2656h0M1274 2018h0M980 2657h0M911 2682h0M382 2658h0M393 2102h0M712 2753h0M401 2060h0M609 2710h0M410 2080h0M505 2688h0M1220 2699h0M724 2657h0M874 2711h0M883 2653h0M1143 2692h0M1104 2685h0M1161 2069h0M315 2094h0M1075 2674h0M584 2128h0M1364 2691h0M371 2655h0M1226 2011h0M690 2676h0M825 2106h0M1489 2815h0M313 2678h0M795 2704h0M1517 2715h0M1343 2026h0M1368 2040h0M497 2068h0M1625 2552h0M1040 2103h0M1032 2656h0M715 2099h0M1383 2029h0M539 2041h0M1292 2724h0M385 1982h0M1608 2585h0M896 2086h0M695 2717h0M785 2650h0M1526 2684h0M1381 2789h0M1063 2837h0M700 2757h0M310 2109h0M1150 2690h0M318 2659h0M608 2684h0M778 2062h0M1386 2733h0M1396 2081h0M672 2799h0M1171 2766h0M1455 2111h0M476 2674h0M1639 2333h0M1098 2054h0M506 2681h0M379 2645h0M1593 2202h0M1475 2679h0M1367 2768h0M1303 1976h0M1413 2788h0M784 2737h0M1386 2750h0M640 2649h0M562 2657h0M691 2102h0M592 2725h0M1177 2844h0M923 1993h0M450 2117h0M532 2129h0M913 2672h0M1396 2695h0M1174 2776h0M1524 2186h0M703 2730h0M1196 2061h0M305 2720h0M1383 2683h0M1414 2700h0M1272 2686h0M1503 2656h0M1385 2709h0M446 2099h0M864 2115h0M1430 2714h0M673 2110h0M1215 2690h0M1150 2020h0M720 2667h0M462 2061h0M1087 2716h0M587 2653h0M550 2672h0M1150 2721h0M635 2073h0M1026 2660h0M640 2737h0M892 2687h0M688 2738h0M1296 2738h0M839 2076h0M698 2763h0M526 2688h0M1253 2021h0M408 2794h0M302 2653h0M537 2773h0M1360 2049h0M1370 2018h0M974 2701h0M768 2118h0M824 1978h0M1444 2682h0M612 2090h0M707 2674h0M1059 2094h0M883 2046h0M548 2130h0M331 2776h0M1375 2016h0M960 2690h0M1258 2733h0M758 2710h0M539 2687h0M776 2831h0M1042 2662h0M1194 2046h0M716 2684h0M370 1959h0M1140 2016h0M915 2067h0M1251 2025h0M427 2661h0M767 2724h0M1109 2099h0M1207 2031h0M1371 2683h0M898 2103h0M334 2100h0M364 2720h0M1165 2049h0M524 2092h0M1032 2105h0M1579 2754h0M971 2087h0M760 2050h0M895 2669h0M1491 2766h0M410 2091h0M1417 2061h0M1432 1990h0M365 2007h0M1262 2710h0M813 2746h0M960 2057h0M930 2715h0M509 2677h0M909 2766h0M801 2663h0M331 2726h0M560 2730h0M548 2112h0M1486 2133h0M713 2645h0M1175 2705h0M481 2108h0M1252 2705h0M475 2036h0M923 2753h0M1531 2108h0M1004 2049h0M1096 2769h0M849 2667h0M1130 2026h0M646 2124h0M1055 2096h0M1247 1992h0M760 2681h0M444 2711h0M943 2067h0M1398 2729h0M1044 2110h0M1210 2055h0M310 2073h0M641 2096h0M392 2665h0M1314 2701h0M681 2757h0M1531 2638h0M1350 2032h0M512 2057h0M1623 2508h0M398 2638h0M694 2677h0M1067 2665h0M866 2813h0M1537 2214h0M1402 2695h0M1487 2155h0M770 2818h0M1602 2554h0M1336 2697h0M1445 2730h0M913 2108h0M1596 2576h0M427 2126h0M668 2112h0M975 2808h0M1641 2488h0M830 2750h0M724 2692h0M1073 2034h0M1026 2050h0M1280 2711h0"/><path stroke="#fff500" d="M423 2401h0M379 2357h0M359 2355h0M455 2387h0M308 2406h0M362 2408h0M337 2364h0M331 2373h0M484 2387h0M399 2365h0M446 2387h0"/><path stroke="#0000d0" d="M1075 2111h0M295 2127h0M1246 2057h0M1490 2196h0M1130 2104h0M1188 2081h0M825 2126h0M1143 2668h0M1062 2120h0M1258 2672h0M913 2120h0M1089 2661h0M1014 2649h0M856 2632h0M1113 2102h0M918 2117h0M482 2638h0M312 2632h0M810 2640h0M1266 2668h0M759 2125h0M1289 2679h0M371 2124h0M794 2637h0M823 2134h0M466 2135h0M1111 2659h0M599 2150h0M1472 2641h0M1521 2223h0M1105 2110h0"/><path stroke="#0043ff" d="M1311 2076h0M513 2185h0M783 2189h0M1120 2585h0M1559 2570h0M1211 2150h0M1210 2584h0M376 2161h0M676 2597h0M1100 2149h0M1318 2613h0M393 2580h0M774 2594h0M934 2153h0M499 2215h0M1322 2126h0M833 2164h0M1468 2609h0M484 2611h0M444 2177h0M475 2211h0M1427 2635h0M1052 2602h0M859 2190h0M1182 2129h0M777 2584h0M1077 2617h0M878 2588h0M816 2602h0M1411 2170h0M1480 2604h0M1112 2607h0M1024 2172h0M323 2173h0M1148 2132h0M1162 2138h0M1031 2600h0M1256 2123h0M358 2556h0M1033 2609h0M483 2577h0M727 2161h0M935 2584h0M731 2176h0M1517 2599h0M328 2180h0M842 2164h0M1592 2506h0M414 2167h0M1544 2560h0M1030 2173h0M1176 2153h0M1216 2614h0M345 2596h0M755 2171h0M1274 2108h0M616 2185h0M1650 2427h0M932 2145h0M1564 2297h0M926 2174h0M870 2592h0M1129 2614h0M1327 2125h0M825 2163h0M1022 2571h0M1120 2159h0M511 2178h0M434 2173h0M1395 2559h0M343 2206h0M448 2602h0M964 2173h0M487 2181h0M1046 2177h0M1115 2617h0M338 2591h0M1190 2143h0M1219 2617h0M538 2606h0M857 2175h0M1274 2127h0M1620 2473h0M596 2571h0M1441 2195h0M851 2188h0M545 2199h0M1233 2116h0M1407 2157h0M1143 2160h0M1268 2154h0M1289 2114h0M904 2585h0M719 2578h0M803 2229h0M546 2171h0M1159 2606h0M1431 2170h0M1537 2573h0M346 2199h0M760 2590h0M1382 2639h0M967 2599h0M518 2194h0M1487 2603h0M1461 2211h0M969 2169h0M674 2174h0M1212 2132h0M689 2576h0M1244 2116h0M1263 2607h0M979 2615h0M363 2564h0M1129 2189h0M1202 2141h0M665 2180h0M792 2169h0M992 2186h0M999 2165h0M1146 2627h0M1377 2165h0M891 2176h0M992 2159h0M424 2158h0M1365 2113h0M1012 2145h0M1278 2118h0M1411 2146h0M1650 2360h0M502 2588h0M1415 2613h0M414 2188h0M1233 2615h0M296 2169h0M1651 2418h0"/><path stroke="#16ffe9" d="M1073 2277h0M1515 2468h0M558 2290h0M1383 2464h0M827 2291h0M1240 2486h0M1399 2280h0M1508 2316h0M1492 2455h0M1388 2441h0M1074 2481h0M1273 2477h0M1439 2332h0M1151 2478h0M866 2471h0M1528 2439h0M513 2484h0M1426 2319h0M1144 2493h0M1499 2338h0M1450 2311h0M632 2496h0M1327 2480h0M809 2480h0M528 2479h0M570 2482h0M300 2479h0M1538 2466h0M497 2290h0M986 2485h0M1482 2317h0M652 2488h0M1495 2354h0M786 2478h0M1258 2511h0M1393 2258h0M1470 2304h0M1473 2427h0M1246 2510h0M1442 2507h0M1199 2485h0M1260 2248h0M1303 2257h0M1182 2485h0M1171 2482h0M1568 2387h0M1443 2487h0M1393 2292h0M1355 2459h0M1513 2419h0M1376 2465h0M1054 2475h0M722 2295h0M1135 2303h0M596 2472h0M735 2484h0M650 2307h0M1243 2270h0M1210 2481h0M1007 2280h0M1506 2471h0M471 2473h0M1155 2288h0M714 2273h0M1217 2276h0M406 2288h0M573 2288h0M385 2289h0M1420 2323h0M1483 2470h0M1409 2273h0M1544 2434h0M1393 2510h0M1558 2451h0M1346 2284h0M1497 2421h0M1031 2480h0M1423 2298h0M1011 2294h0M1430 2488h0M987 2303h0M1482 2497h0M511 2489h0M1274 2267h0M1066 2282h0M1401 2330h0M802 2470h0M1508 2459h0M1318 2249h0M1124 2286h0M770 2288h0M1463 2432h0M463 2470h0M873 2273h0M1048 2490h0M1481 2335h0M611 2292h0M1321 2279h0M1509 2451h0M1526 2448h0M1560 2358h0M442 2474h0M817 2282h0M1062 2490h0M1507 2346h0M920 2477h0M817 2471h0M516 2288h0M1404 2285h0M1450 2376h0M1422 2342h0M1515 2446h0M1041 2293h0M1211 2273h0M548 2310h0M1116 2492h0M1020 2481h0M1567 2368h0M833 2486h0M1338 2257h0M1347 2276h0M1071 2472h0"/><path stroke="#57ffa8" d="M1508 2412h0M389 2309h0M746 2298h0M1006 2451h0M830 2317h0M1383 2384h0M396 2455h0M1294 2308h0M1305 2472h0M1343 2444h0M839 2288h0M1380 2364h0M1327 2399h0M1094 2312h0M1056 2307h0M1254 2342h0M1417 2422h0M784 2461h0M1284 2471h0M1020 2457h0M382 2452h0M1362 2358h0M1160 2461h0M1302 2421h0M1057 2450h0M899 2452h0M1034 2466h0M713 2321h0M1071 2326h0M1316 2298h0M1409 2379h0M586 2313h0M1140 2440h0M1275 2284h0M1452 2401h0M1271 2430h0M386 2302h0M1290 2320h0M1048 2322h0M735 2472h0M1406 2303h0M1177 2461h0M1407 2407h0M1318 2399h0M1088 2461h0M1339 2352h0M709 2459h0M553 2304h0M1312 2311h0M1367 2440h0M1185 2473h0M1415 2426h0M1134 2468h0M1267 2467h0M1268 2321h0M1371 2396h0M1417 2398h0M1385 2418h0M818 2334h0M761 2439h0M869 2302h0M1318 2369h0M1295 2449h0M1113 2474h0M1177 2306h0M831 2468h0M452 2457h0M315 2451h0M423 2310h0M1328 2329h0M954 2319h0M1295 2442h0M862 2315h0M863 2342h0M1196 2322h0M1179 2270h0M380 2465h0M524 2311h0M924 2317h0M926 2453h0M537 2457h0M1201 2337h0M619 2319h0M674 2458h0M1343 2346h0M826 2320h0M490 2315h0M639 2307h0M1312 2412h0M559 2322h0M616 2329h0M977 2298h0M1350 2305h0M1244 2330h0M658 2462h0M330 2450h0M886 2461h0M295 2311h0M1380 2418h0M352 2460h0M1144 2304h0M1239 2300h0M608 2310h0M543 2449h0M724 2341h0M1110 2438h0M793 2459h0M1070 2451h0M441 2450h0M423 2450h0M926 2467h0M942 2459h0M879 2469h0M963 2320h0M1349 2398h0M1349 2382h0M1230 2301h0M1179 2315h0M1366 2364h0M1412 2373h0M585 2441h0M431 2462h0M1388 2404h0M1354 2405h0M1267 2446h0M1315 2385h0M635 2447h0M1321 2475h0M1358 2464h0M1036 2321h0"/><path stroke="#47ffb8" d="M537 2469h0M1081 2280h0M998 2467h0M1402 2427h0M1084 2295h0M516 2466h0M1392 2317h0M1463 2448h0M354 2298h0M758 2305h0M814 2458h0M906 2442h0M1393 2406h0M1372 2301h0M314 2463h0M1385 2429h0M987 2461h0M508 2471h0M1116 2297h0M794 2299h0M737 2461h0M1340 2279h0M624 2455h0M1134 2290h0M990 2314h0M1401 2324h0M526 2312h0M1255 2453h0M922 2326h0M1265 2477h0M1147 2488h0M1315 2471h0M1351 2446h0M468 2323h0M652 2456h0M688 2461h0M414 2309h0M1439 2374h0M695 2460h0M443 2312h0M600 2468h0M409 2464h0M1346 2310h0M369 2299h0M1337 2393h0M1334 2327h0M1367 2454h0M1314 2435h0M1399 2420h0M1433 2373h0M929 2460h0M1380 2456h0M359 2297h0M1330 2410h0M441 2301h0M770 2302h0M764 2453h0M517 2447h0M1378 2427h0M1446 2387h0M1025 2473h0M1014 2320h0M387 2463h0M1394 2375h0M1073 2293h0M1316 2317h0M1202 2463h0M1243 2307h0M1470 2385h0M393 2297h0M368 2461h0M1179 2276h0M1198 2474h0M890 2316h0M1038 2302h0M657 2447h0M1404 2441h0M1324 2321h0M721 2471h0M1406 2431h0M1379 2300h0M655 2305h0M1327 2339h0M737 2317h0M1273 2484h0M668 2460h0M652 2447h0M1030 2315h0M1390 2351h0M1444 2358h0M726 2442h0M343 2300h0M471 2310h0M1254 2448h0M1370 2485h0M1454 2413h0M1288 2446h0M1384 2333h0M1178 2287h0M1171 2294h0"/><path stroke="#0000c0" d="M956 2657h0M1510 2700h0M1321 2050h0M1186 2666h0M695 2095h0M1208 2046h0M1386 2002h0M857 2648h0M832 2087h0M1077 2724h0M795 2651h0M401 2654h0M979 2744h0M779 2669h0M430 2753h0M340 2633h0M1425 1993h0M1064 2807h0M1221 2673h0M698 2650h0M1172 2670h0M835 1997h0M1032 2118h0M1315 2046h0M1390 2679h0M517 2700h0M956 2118h0M1649 2479h0M939 2127h0M1368 2053h0M1321 2039h0M680 2672h0M372 2707h0M1451 2785h0M1001 2002h0M1009 2121h0M824 2072h0M904 2669h0M1346 2034h0M1204 1987h0M991 2648h0M909 2660h0M673 2142h0M1457 2128h0M1160 2667h0M574 2682h0M499 2714h0M1551 2190h0M1407 2709h0M390 2719h0M807 2713h0M1646 2514h0M1534 2149h0M1603 2528h0M1252 2740h0M513 2128h0M1066 2678h0M303 2128h0M1007 2644h0M552 2673h0M1097 2102h0M1232 2693h0M580 2635h0M430 2117h0M1503 2186h0M686 2678h0M739 2654h0M855 2130h0M433 2692h0M294 2796h0M1401 2098h0M1346 2774h0M521 2653h0M1129 2793h0M731 2842h0M425 2665h0M563 2098h0M634 2686h0M1046 2646h0M1013 2656h0M433 2750h0M1680 2471h0M1669 2569h0M628 2697h0"/><path stroke="#37ffc8" d="M1524 2384h0M1406 2447h0M1208 2472h0M915 2479h0M1386 2436h0M1015 2292h0M807 2469h0M699 2302h0M1359 2320h0M1254 2478h0M1422 2333h0M478 2322h0M1487 2340h0M812 2299h0M1324 2472h0M1431 2436h0M1272 2274h0M713 2481h0M452 2300h0M715 2311h0M1160 2472h0M1434 2413h0M1162 2290h0M1443 2415h0M1327 2461h0M454 2300h0M1084 2309h0M736 2293h0M729 2454h0M1469 2357h0M991 2303h0M1419 2380h0M1351 2488h0M1022 2312h0M1186 2289h0M614 2301h0M947 2473h0M1052 2280h0M1223 2479h0M1471 2436h0M1250 2470h0M872 2293h0M1459 2342h0M1355 2455h0M1434 2462h0M769 2464h0M1372 2471h0M622 2479h0M1459 2365h0M297 2458h0M1305 2448h0M929 2484h0M791 2480h0M319 2464h0M696 2306h0M1466 2425h0M1340 2300h0M1477 2374h0M1442 2391h0M468 2478h0M298 2298h0M1427 2407h0M742 2457h0M1472 2470h0M1280 2480h0M1011 2477h0M1019 2298h0M1190 2296h0M858 2305h0M1482 2443h0M547 2462h0M1387 2300h0M802 2290h0M1209 2278h0M1426 2327h0M1302 2291h0M1218 2311h0M348 2461h0M1048 2300h0M570 2461h0M1249 2273h0M348 2294h0M1339 2402h0M1316 2475h0M1280 2437h0M1449 2414h0M1264 2277h0M852 2319h0M599 2314h0M455 2297h0M984 2477h0M1132 2287h0M1435 2449h0M991 2298h0M1291 2284h0M1180 2486h0"/><path stroke="#00f5ff" d="M993 2495h0M1376 2502h0M1020 2498h0M1384 2498h0M1128 2495h0M1154 2253h0M1182 2520h0M1203 2511h0M1158 2264h0M1455 2479h0M950 2280h0M780 2474h0M902 2492h0M1353 2239h0M498 2495h0M1447 2508h0M939 2493h0M784 2277h0M1531 2410h0M391 2278h0M520 2277h0M1313 2241h0M1527 2355h0M775 2278h0M497 2493h0M890 2270h0M1152 2257h0M721 2271h0M1528 2332h0M1192 2259h0M1234 2256h0M787 2270h0M299 2483h0M1134 2254h0M1406 2289h0M1544 2468h0M339 2500h0M735 2501h0M299 2265h0M1246 2239h0M1362 2270h0M1313 2499h0M884 2485h0M716 2497h0M1586 2418h0M607 2274h0M1129 2508h0M431 2484h0M1428 2521h0M1358 2263h0M1558 2329h0M672 2288h0M1289 2261h0M500 2484h0M1185 2501h0M1460 2489h0M814 2482h0M502 2281h0M930 2280h0M801 2274h0M1534 2469h0M1396 2500h0M1192 2490h0M1487 2313h0M1022 2492h0M1000 2274h0M1546 2378h0M1291 2243h0M1276 2510h0M825 2278h0M1180 2252h0M1500 2308h0M1282 2510h0M1090 2276h0M1325 2250h0M1048 2498h0M1038 2500h0M428 2291h0M973 2260h0M1386 2466h0M1453 2465h0M1068 2264h0M1415 2266h0M729 2286h0M834 2281h0M1487 2304h0M1458 2295h0M515 2262h0M1291 2256h0M1463 2502h0M393 2486h0M457 2488h0M668 2279h0M572 2278h0M744 2279h0M1315 2513h0M1562 2395h0M1538 2330h0M1338 2249h0M1291 2515h0M1505 2484h0M1550 2466h0M1034 2493h0M453 2474h0"/><path stroke="#ffc400" d="M332 2400h0M396 2394h0"/><path stroke="#e9ff16" d="M567 2403h0M295 2397h0M518 2370h0M398 2350h0M442 2363h0M520 2390h0M479 2360h0M325 2351h0M431 2365h0M527 2407h0M363 2350h0M447 2405h0M302 2400h0M368 2343h0M580 2395h0M411 2347h0M380 2354h0M513 2361h0M538 2378h0"/><path stroke="#ff9400" d="M378 2397h0M363 2381h0M336 2389h0"/><path stroke="#26ffd9" d="M988 2296h0M790 2307h0M803 2481h0M1272 2487h0M1444 2448h0M1513 2475h0M1505 2372h0M1504 2364h0M757 2298h0M1315 2480h0M527 2477h0M765 2475h0M1358 2426h0M319 2476h0M1438 2432h0M1263 2483h0M409 2479h0M995 2286h0M1449 2364h0M900 2292h0M1049 2488h0M1490 2471h0M1349 2282h0M817 2301h0M1396 2327h0M904 2296h0M1505 2480h0M854 2286h0M1511 2341h0M761 2320h0M1490 2414h0M1094 2478h0M759 2484h0M1166 2471h0M1553 2390h0M1195 2271h0M1482 2420h0M1123 2479h0M627 2472h0M392 2300h0M1352 2316h0M930 2292h0M1400 2490h0M494 2302h0M1488 2437h0M306 2293h0M627 2461h0M1425 2449h0M1287 2426h0M1534 2421h0M1474 2350h0M575 2477h0M1363 2489h0M1534 2436h0M1484 2329h0M1287 2480h0M375 2484h0M898 2484h0M1260 2293h0M891 2290h0M629 2477h0M843 2281h0M1413 2330h0M310 2305h0M824 2470h0M1487 2348h0M451 2467h0M1497 2446h0M1377 2476h0M698 2478h0M666 2486h0M1354 2468h0M1415 2343h0M560 2297h0M860 2472h0M496 2307h0M642 2293h0M634 2302h0M1458 2350h0M1411 2458h0M1321 2296h0M1530 2471h0M556 2475h0M1515 2404h0M1480 2455h0M1417 2390h0M1387 2288h0M486 2296h0M582 2304h0M1075 2487h0M1254 2261h0M1035 2299h0M972 2471h0M706 2304h0M1288 2462h0M1363 2452h0M984 2471h0M1417 2470h0M569 2302h0M1498 2459h0M1196 2288h0M1175 2464h0M294 2294h0M412 2472h0M304 2302h0M860 2295h0M630 2472h0M1411 2337h0M546 2299h0M1180 2283h0M657 2472h0M862 2299h0M1436 2285h0M1357 2484h0M326 2299h0M747 2475h0M1544 2385h0M964 2467h0M952 2478h0M988 2278h0"/><path stroke="#0000f1" d="M560 2637h0M626 2127h0M1008 2635h0M486 2624h0M1484 2653h0M912 2134h0M537 2630h0M918 2639h0M831 2642h0M931 2124h0M1003 2147h0M1452 2150h0M1121 2641h0M1058 2645h0M1016 2818h0M1175 2658h0M1016 2089h0M497 2148h0M692 2150h0M302 2136h0M367 2632h0M1326 2032h0M1042 2135h0M1180 2097h0M1154 2668h0M496 2137h0M1417 2645h0M317 2102h0M977 2643h0M1380 2674h0M378 2628h0M372 2113h0M334 2062h0M1186 2658h0M482 2677h0M740 2622h0M1574 2577h0M1544 2584h0M1458 2632h0M340 2128h0M1369 2732h0M743 2671h0M680 2623h0M1240 2071h0M603 2136h0M623 2098h0M1347 2061h0M619 2629h0M843 2641h0M775 2130h0M1274 2712h0M530 2161h0M1563 2587h0M1634 2332h0M660 2631h0M1659 2450h0M1550 2625h0M1314 2653h0M775 2618h0M348 2130h0M794 2143h0M851 2123h0M1225 2108h0M1304 2063h0M1026 2127h0M1256 2033h0M829 2643h0M624 2628h0M1532 2600h0M1235 2670h0M1446 2650h0M386 2126h0M1153 2088h0M615 2153h0M1598 2297h0M473 2643h0M841 2085h0M1651 2345h0M990 2643h0M477 2636h0M633 2162h0M1232 2660h0M1420 2132h0M472 2161h0M442 2621h0M551 2143h0M435 2146h0M1287 2667h0M872 2668h0M897 2132h0M1081 2639h0M1436 2098h0M814 2646h0M1147 2661h0M1403 2679h0M491 2156h0M469 2069h0M530 2640h0M1331 2694h0M1454 2153h0M1257 2061h0M452 2140h0M371 2694h0M949 2634h0M1441 2142h0M1172 2110h0M513 2145h0M592 2632h0M523 2751h0M526 2767h0M295 2135h0M1185 2086h0M875 2133h0M608 2142h0M419 2133h0M929 2119h0M886 2654h0M1338 2092h0M955 2646h0M1319 2031h0M422 2150h0M1240 2665h0M976 2129h0M708 2637h0M796 2630h0M1110 2110h0M1432 2142h0M978 2078h0M361 2138h0"/><path stroke="#0094ff" d="M1224 2209h0M875 2561h0M347 2533h0M551 2244h0M1065 2559h0M1087 2190h0M969 2532h0M1642 2435h0M1438 2234h0M1491 2541h0M1519 2534h0M558 2529h0M1130 2540h0M448 2264h0M496 2527h0M539 2540h0M1253 2212h0M952 2517h0M990 2542h0M463 2547h0M510 2553h0M1336 2167h0M1148 2545h0M915 2232h0M1481 2532h0M1481 2549h0M497 2537h0M1049 2213h0M1032 2561h0M697 2533h0M951 2525h0M659 2507h0M945 2246h0M1258 2561h0M1492 2555h0M1246 2152h0M1100 2197h0M360 2205h0M1492 2254h0M832 2508h0M1501 2537h0M1359 2226h0M858 2576h0M1532 2293h0M372 2237h0M351 2221h0M502 2529h0M322 2537h0M484 2523h0M568 2257h0M923 2530h0M653 2221h0M1305 2197h0M1251 2179h0M368 2526h0M1050 2245h0M846 2243h0M1521 2283h0M1364 2208h0M1559 2313h0M710 2530h0M296 2229h0M495 2258h0M1160 2227h0M517 2539h0M793 2220h0M659 2240h0M678 2249h0M1543 2298h0M784 2258h0M1227 2548h0M783 2239h0M486 2526h0M1550 2512h0M334 2234h0M1410 2225h0M319 2264h0M872 2527h0M911 2224h0M1369 2538h0M870 2549h0M1266 2209h0M338 2246h0M555 2512h0M639 2550h0M870 2520h0M873 2236h0M1098 2550h0M1032 2232h0M1495 2276h0M478 2246h0M1375 2562h0M737 2209h0M730 2242h0M1313 2165h0M762 2531h0M1362 2180h0M336 2251h0M857 2231h0M1596 2455h0M748 2236h0M987 2209h0M414 2237h0M526 2524h0M758 2523h0M1310 2588h0M1445 2244h0M670 2526h0M516 2227h0M1501 2548h0M1528 2520h0M833 2538h0M1390 2549h0M1184 2547h0M676 2243h0M714 2228h0"/><path stroke="#0053ff" d="M1091 2584h0M908 2204h0M888 2153h0M1489 2228h0M340 2188h0M606 2567h0M1401 2613h0M671 2191h0M1263 2590h0M1313 2155h0M1350 2589h0M1192 2581h0M1182 2140h0M876 2581h0M1383 2214h0M1651 2412h0M1355 2137h0M1545 2289h0M375 2560h0M323 2585h0M932 2165h0M1303 2575h0M950 2201h0M1134 2164h0M808 2198h0M593 2210h0M1186 2136h0M1128 2170h0M806 2179h0M1060 2187h0M743 2580h0M1435 2199h0M1305 2143h0M685 2237h0M594 2536h0M1207 2601h0M1180 2131h0M1532 2575h0M590 2219h0M1282 2599h0M652 2571h0M1175 2597h0M386 2175h0M1329 2154h0M1208 2142h0M458 2588h0M614 2167h0M491 2210h0M1028 2593h0M893 2189h0M681 2186h0M1190 2609h0M1060 2148h0M597 2613h0M955 2211h0M836 2588h0M756 2559h0M1120 2211h0M1466 2559h0M555 2579h0M644 2183h0M1084 2156h0M968 2159h0M743 2589h0M528 2572h0M371 2164h0M970 2591h0M1166 2170h0M1284 2143h0M1391 2174h0M1215 2597h0M1145 2151h0M1066 2163h0M787 2198h0M489 2597h0M1046 2174h0M1520 2577h0M897 2608h0M1323 2198h0M1536 2559h0M1473 2621h0M577 2582h0M915 2533h0M1538 2552h0M1668 2395h0M1524 2583h0M451 2567h0M350 2186h0M371 2188h0M660 2570h0M1440 2601h0M1482 2583h0M1414 2175h0M954 2583h0M643 2203h0M1148 2603h0M868 2208h0M352 2586h0M1123 2188h0M1369 2615h0M817 2182h0M673 2180h0M912 2202h0M313 2186h0M630 2568h0M834 2189h0M1534 2257h0M1166 2194h0M707 2180h0M1276 2604h0M1303 2568h0M1368 2575h0M1398 2148h0M361 2221h0M625 2568h0M347 2577h0M547 2585h0M1072 2185h0M1457 2205h0M486 2198h0M935 2189h0M1538 2265h0M1386 2603h0M312 2196h0M1377 2611h0M654 2582h0M1155 2553h0M839 2183h0M1138 2585h0M867 2584h0M632 2552h0M1053 2164h0M515 2191h0M911 2167h0M750 2534h0M1450 2623h0M535 2191h0M866 2192h0M714 2588h0M1314 2622h0M860 2589h0M1212 2576h0M875 2167h0M487 2584h0M1056 2583h0M1554 2541h0M1547 2552h0M1444 2614h0M1177 2175h0M366 2542h0M352 2561h0M436 2565h0M486 2561h0M300 2566h0M1499 2593h0M770 2179h0M550 2214h0M1100 2203h0M1601 2498h0M1018 2586h0M1164 2131h0M1173 2601h0M428 2578h0M974 2198h0M391 2210h0M1331 2595h0M838 2576h0M1503 2240h0M311 2183h0M1075 2166h0"/><path stroke="#a8ff57" d="M322 2444h0M362 2323h0M566 2413h0M550 2359h0M785 2401h0M609 2352h0M1146 2409h0M1180 2392h0M312 2423h0M753 2411h0M362 2443h0M1141 2415h0M984 2413h0M766 2397h0M1110 2355h0M1207 2396h0M899 2391h0M679 2428h0M424 2328h0M1150 2378h0M891 2327h0M751 2427h0M1227 2433h0M343 2424h0M384 2436h0M667 2356h0M700 2378h0M938 2359h0M863 2401h0M630 2382h0M718 2398h0M1167 2365h0M617 2418h0M878 2415h0M728 2362h0M653 2361h0M614 2366h0M787 2357h0M1151 2389h0M1061 2369h0M983 2362h0M627 2381h0M948 2356h0M697 2419h0M686 2364h0M466 2429h0M426 2428h0M1083 2404h0M770 2350h0M1029 2397h0M668 2349h0M539 2351h0M859 2393h0M643 2411h0M579 2408h0M888 2419h0M780 2410h0M1227 2310h0M1099 2362h0M944 2387h0M990 2371h0M852 2362h0M689 2375h0M947 2381h0M380 2332h0M297 2339h0M1072 2364h0M710 2395h0M969 2373h0M745 2412h0M852 2403h0M761 2383h0M1161 2393h0M567 2362h0M884 2358h0M732 2395h0M1204 2379h0M1020 2370h0M808 2378h0M815 2407h0M1058 2356h0M488 2342h0M634 2423h0M897 2381h0M868 2435h0M743 2395h0M564 2395h0M910 2413h0M1082 2373h0M843 2369h0M616 2397h0M832 2411h0"/><path stroke="#0000e1" d="M360 2125h0M1095 2116h0M1167 2093h0M1307 2087h0M1342 2661h0M346 2635h0M1514 2635h0M408 2618h0M1295 2649h0M968 2644h0M1055 2655h0M1328 2067h0M659 2145h0M298 2628h0M900 2127h0M593 2138h0M1050 2144h0M1398 2095h0M847 2642h0M356 2125h0M932 2624h0M335 2624h0M652 2634h0M490 2142h0M622 2624h0M1056 2113h0M1396 2103h0M1018 2631h0M1469 2658h0M1351 2068h0M1271 2060h0M1353 2063h0M500 2628h0M1167 2663h0M1574 2571h0M399 2623h0M1426 2671h0M767 2134h0M1559 2590h0M630 2629h0M598 2631h0M1406 2670h0M691 2637h0M316 2126h0M1518 2624h0M531 2144h0M487 2146h0M1438 2677h0M1503 2205h0M1027 2644h0M1593 2547h0M387 2141h0M1251 2671h0M621 2637h0M1663 2440h0M1532 2614h0M1322 2665h0M450 2132h0M1489 2653h0M526 2635h0M1011 2130h0M1254 2056h0M998 2119h0M1124 2660h0M870 2623h0M1050 2112h0M1457 2671h0M1371 2083h0M1339 2060h0M738 2637h0M1011 2138h0M737 2127h0M1483 2183h0M1204 2079h0"/><path stroke="#ffa400" d="M371 2400h0M352 2392h0M364 2392h0M378 2372h0M366 2393h0"/><path stroke="#d9ff26" d="M604 2370h0M584 2398h0M478 2402h0M545 2387h0M642 2376h0M448 2364h0M379 2427h0M400 2335h0M530 2375h0M538 2383h0M656 2393h0M691 2402h0M309 2406h0M905 2382h0M663 2379h0M518 2348h0M387 2352h0M456 2411h0M321 2354h0M425 2348h0M585 2369h0M550 2395h0M459 2356h0M457 2420h0M570 2405h0M480 2391h0M1019 2379h0M461 2424h0M651 2360h0M356 2344h0M493 2401h0M795 2399h0M975 2403h0M315 2347h0M662 2402h0"/><path stroke="#ffb400" d="M337 2376h0M396 2381h0M374 2380h0"/><path stroke="#c8ff37" d="M420 2347h0M511 2394h0M334 2340h0M990 2362h0M990 2395h0M830 2396h0M676 2360h0M545 2379h0M634 2389h0M545 2354h0M599 2357h0M1025 2372h0M872 2378h0M463 2357h0M1018 2387h0M552 2382h0M440 2343h0M520 2410h0M330 2339h0M904 2399h0M531 2394h0M536 2392h0M577 2366h0M654 2404h0M622 2364h0M398 2344h0M1220 2380h0M490 2409h0M362 2332h0M298 2416h0M395 2337h0M999 2395h0M528 2362h0M994 2401h0M431 2422h0M660 2347h0M302 2335h0M426 2356h0M564 2422h0"/></g><g fill="none" stroke-width="20" stroke-linecap="round"><path stroke="#00b4ff" d="M283 2566h0M282 2544h0M284 2580h0M283 2549h0M283 2524h0"/><path stroke="#0063ff" d="M282 2616h0M283 2194h0M283 2616h0M283 2600h0M285 2206h0M285 2633h0"/><path stroke="#000090" d="M283 2728h0M283 2082h0M282 2733h0M284 2072h0"/><path stroke="#a00000" d="M283 2376h0M283 2392h0"/><path stroke="#900000" d="M284 2398h0"/><path stroke="#800000" d="M285 2386h0M284 2384h0"/><path stroke="#ffe500" d="M283 2312h0M284 2463h0M283 2447h0M282 2310h0M283 2456h0"/><path stroke="#a8ff57" d="M284 2477h0M283 2472h0"/><path stroke="#ff6300" d="M285 2325h0M282 2331h0M284 2333h0M283 2436h0"/><path stroke="#d9ff26" d="M284 2306h0M284 2303h0M282 2298h0"/><path stroke="#16ffe9" d="M285 2506h0M285 2252h0M283 2516h0M283 2244h0M283 2261h0M283 2521h0"/><path stroke="#26ffd9" d="M282 2518h0"/><path stroke="#00c4ff" d="M285 2556h0M282 2556h0M283 2242h0"/><path stroke="#0033ff" d="M285 2637h0M284 2163h0M283 2176h0M282 2654h0M283 2170h0M282 2190h0M285 2641h0M282 2158h0M284 2661h0M283 2180h0M283 2153h0M285 2185h0M283 2670h0M284 2209h0M284 2618h0"/><path stroke="#0053ff" d="M284 2601h0M282 2183h0M282 2609h0M283 2600h0M283 2205h0M283 2594h0"/><path stroke="#ff9400" d="M284 2322h0M284 2321h0"/><path stroke="#47ffb8" d="M283 2501h0M285 2279h0M285 2266h0M284 2261h0M285 2275h0"/><path stroke="#00d4ff" d="M282 2534h0M284 2234h0M285 2239h0M284 2542h0M284 2242h0M283 2247h0"/><path stroke="#00e5ff" d="M283 2538h0M284 2557h0M284 2526h0"/><path stroke="#ff2200" d="M282 2419h0M283 2348h0M282 2353h0M282 2358h0"/><path stroke="#0073ff" d="M284 2602h0M283 2222h0M283 2198h0M285 2211h0M283 2607h0M284 2594h0M283 2228h0"/><path stroke="#0084ff" d="M282 2586h0M285 2225h0M283 2214h0M284 2573h0M283 2576h0M285 2583h0M284 2588h0M283 2591h0M285 2186h0"/><path stroke="#37ffc8" d="M284 2493h0M283 2505h0M282 2513h0M282 2499h0M284 2269h0M285 2281h0"/><path stroke="#0094ff" d="M283 2231h0M284 2215h0M284 2223h0M284 2218h0M284 2562h0"/><path stroke="#e10000" d="M284 2403h0M283 2364h0M283 2417h0M283 2413h0M283 2396h0"/><path stroke="#ff7300" d="M284 2329h0M284 2437h0M285 2432h0"/><path stroke="#e9ff16" d="M285 2473h0M283 2465h0M284 2299h0M284 2456h0"/><path stroke="#c00000" d="M284 2374h0M284 2397h0"/><path stroke="#77ff88" d="M283 2481h0M284 2273h0"/><path stroke="#0000a0" d="M282 2758h0M284 2739h0M282 2746h0M283 2703h0M283 2115h0M283 2751h0M284 2711h0M285 2761h0M283 2766h0M283 2092h0M284 2080h0M284 2087h0"/><path stroke="#0000f1" d="M285 2682h0M283 2731h0M284 2120h0M282 2741h0M284 2122h0M283 2136h0M284 2697h0M283 2144h0"/><path stroke="#00f5ff" d="M284 2531h0M283 2255h0M284 2535h0M283 2537h0"/><path stroke="#88ff77" d="M282 2481h0M283 2291h0M285 2511h0M284 2484h0"/><path stroke="#f9ff06" d="M283 2456h0M282 2451h0"/><path stroke="#0002ff" d="M282 2165h0M285 2663h0M283 2138h0M282 2122h0M284 2658h0M285 2695h0M283 2151h0"/><path stroke="#ff4300" d="M284 2340h0M284 2347h0"/><path stroke="#ff8400" d="M283 2336h0M283 2334h0M284 2444h0"/><path stroke="#67ff98" d="M285 2294h0"/><path stroke="#b00000" d="M283 2391h0M285 2391h0"/><path stroke="#000080" d="M283 2877h0M283 2801h0M284 2032h0M284 2742h0M283 2047h0M284 2790h0M284 2822h0"/><path stroke="#57ffa8" d="M285 2494h0M285 2266h0"/><path stroke="#fff500" d="M284 2315h0M284 2318h0"/><path stroke="#0000d0" d="M283 2688h0M284 2716h0M285 2101h0M285 2666h0M285 2715h0M284 2752h0M284 2726h0M283 2113h0M284 2071h0M285 2748h0M285 2646h0M285 2686h0M284 2131h0M282 2644h0"/><path stroke="#d00000" d="M285 2406h0M284 2371h0M283 2403h0M283 2380h0M283 2367h0M283 2410h0M283 2355h0M283 2364h0"/><path stroke="#0000e1" d="M283 2137h0M283 2749h0M285 2130h0M282 2674h0M282 2132h0M283 2675h0M283 2697h0M284 2106h0M284 2126h0M283 2106h0M285 2685h0"/><path stroke="#00a4ff" d="M283 2546h0M283 2561h0M285 2567h0M283 2226h0M282 2571h0"/><path stroke="#ffa400" d="M284 2447h0"/><path stroke="#0022ff" d="M284 2159h0M282 2626h0M284 2625h0M283 2180h0M284 2681h0M282 2637h0M284 2630h0M282 2681h0M283 2154h0M285 2629h0M282 2166h0"/><path stroke="#0000b0" d="M283 2105h0M285 2085h0M284 2722h0M282 2761h0M282 2701h0"/><path stroke="#ff5300" d="M282 2432h0M284 2343h0M283 2423h0M285 2342h0"/><path stroke="#0043ff" d="M284 2196h0M283 2171h0M284 2191h0M284 2578h0"/><path stroke="#b8ff47" d="M284 2466h0M284 2303h0M284 2291h0"/><path stroke="#98ff67" d="M283 2283h0M283 2489h0M285 2280h0M284 2296h0"/><path stroke="#0012ff" d="M284 2621h0M284 2670h0M284 2151h0M283 2722h0M283 2646h0M282 2652h0M284 2646h0"/><path stroke="#ff1200" d="M284 2426h0M284 2415h0"/><path stroke="#0000c0" d="M283 2089h0M284 2711h0M283 2109h0M282 2099h0M285 2142h0M282 2078h0M284 2096h0M283 2716h0M282 2691h0M283 2713h0M284 2073h0"/><path stroke="#ff3300" d="M283 2428h0M283 2372h0M283 2429h0M285 2361h0"/><path stroke="#c8ff37" d="M284 2469h0M283 2489h0"/><path stroke="#ffb400" d="M283 2446h0"/><path stroke="#06fff9" d="M283 2530h0M284 2250h0M282 2506h0M284 2264h0"/></g>
<text x="252.0" y="1758.0" font-size="71" text-anchor="end" fill="#262626" >0.3</text>
<text x="252.0" y="1976.5" font-size="71" text-anchor="end" fill="#262626" >0.2</text>
<text x="252.0" y="2195.0" font-size="71" text-anchor="end" fill="#262626" >0.1</text>
<text x="252.0" y="2413.5" font-size="71" text-anchor="end" fill="#262626" >0</text>
<text x="252.0" y="2632.0" font-size="71" text-anchor="end" fill="#262626" >-0.1</text>
<text x="252.0" y="2850.5" font-size="71" text-anchor="end" fill="#262626" >-0.2</text>
<text x="252.0" y="3069.0" font-size="71" text-anchor="end" fill="#262626" >-0.3</text>
<text x="283.5" y="3134.0" font-size="71" text-anchor="middle" fill="#262626" >0</text>
<text x="490.5" y="3134.0" font-size="71" text-anchor="middle" fill="#262626" >0.1</text>
<text x="697.5" y="3134.0" font-size="71" text-anchor="middle" fill="#262626" >0.2</text>
<text x="904.5" y="3134.0" font-size="71" text-anchor="middle" fill="#262626" >0.3</text>
<text x="1111.5" y="3134.0" font-size="71" text-anchor="middle" fill="#262626" >0.4</text>
<text x="1318.5" y="3134.0" font-size="71" text-anchor="middle" fill="#262626" >0.5</text>
<text x="1525.5" y="3134.0" font-size="71" text-anchor="middle" fill="#262626" >0.6</text>
<text transform="translate(1008.5 3228.5) scale(1 1.03)" font-size="79" text-anchor="middle" fill="#262626">VOD</text>
<text x="1006.5" y="1703.0" font-size="80" text-anchor="middle" fill="#000" stroke="#000" stroke-width="1.6">Model without VOD</text>
<text x="298.5" y="1722.5" font-size="95" text-anchor="start" fill="#000" stroke="#000" stroke-width="1.6">(b)</text>
<text transform="translate(104.0 2919.3) rotate(-90) scale(1.03 1)" font-size="78" fill="#262626">Error of SM Retrieval (cm<tspan dy="-41" font-size="63">3</tspan><tspan dy="41">/cm</tspan><tspan dy="-41" font-size="63">3</tspan><tspan dy="41">)</tspan></text>
<rect x="1823.6" y="1729.8" width="80.0" height="1307.1000000000001" fill="url(#jet)" stroke="#262626" stroke-width="2.2"/>
<text x="1926.5" y="3060.4" font-size="67" text-anchor="start" fill="#262626" >0</text>
<text x="1926.5" y="2814.0" font-size="67" text-anchor="start" fill="#262626" >2</text>
<text x="1926.5" y="2567.6" font-size="67" text-anchor="start" fill="#262626" >4</text>
<text x="1926.5" y="2321.2" font-size="67" text-anchor="start" fill="#262626" >6</text>
<text x="1926.5" y="2074.8" font-size="67" text-anchor="start" fill="#262626" >8</text>
<text x="1926.5" y="1828.4" font-size="67" text-anchor="start" fill="#262626" >10</text>
<path d="M1903.6 2790.5h-13.5M1903.6 2544.1h-13.5M1903.6 2297.7h-13.5M1903.6 2051.3h-13.5M1903.6 1804.9h-13.5" stroke="#262626" stroke-width="2.2"/>
<text transform="translate(2071 2383.3) rotate(-90)" font-size="65" text-anchor="middle" fill="#262626">log(Sample Number)</text>
</svg></body></html>
